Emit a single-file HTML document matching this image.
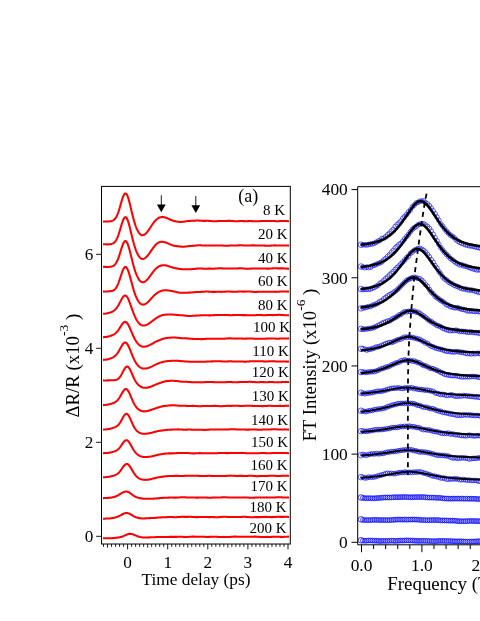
<!DOCTYPE html>
<html><head><meta charset="utf-8"><title>Figure</title>
<style>
html,body{margin:0;padding:0;background:#fff;}
body{width:480px;height:621px;overflow:hidden;}
svg{display:block;will-change:transform;}
text{font-family:"Liberation Serif",serif;fill:#000;}
</style></head><body>
<svg width="480" height="621" viewBox="0 0 480 621">
<rect x="0" y="0" width="480" height="621" fill="#fff"/>
<g fill="none" stroke="#ff0000" stroke-width="2.05" stroke-linejoin="round" stroke-linecap="butt">
<path d="M103.0,221.52 L103.5,221.52 L104.0,221.52 L104.5,221.53 L105.0,221.53 L105.5,221.53 L106.0,221.53 L106.5,221.53 L107.0,221.52 L107.5,221.50 L108.0,221.48 L108.5,221.45 L109.0,221.42 L109.5,221.37 L110.0,221.31 L110.5,221.24 L111.0,221.14 L111.5,221.02 L112.0,220.87 L112.5,220.68 L113.0,220.44 L113.5,220.14 L114.0,219.78 L114.5,219.33 L115.0,218.79 L115.5,218.14 L116.0,217.37 L116.5,216.49 L117.0,215.47 L117.5,214.31 L118.0,213.03 L118.5,211.61 L119.0,210.08 L119.5,208.46 L120.0,206.75 L120.5,205.00 L121.0,203.24 L121.5,201.51 L122.0,199.84 L122.5,198.28 L123.0,196.88 L123.5,195.67 L124.0,194.69 L124.5,193.97 L125.0,193.54 L125.5,193.41 L126.0,193.60 L126.5,194.10 L127.0,194.89 L127.5,195.97 L128.0,197.31 L128.5,198.87 L129.0,200.62 L129.5,202.52 L130.0,204.53 L130.5,206.62 L131.0,208.75 L131.5,210.87 L132.0,212.98 L132.5,215.03 L133.0,217.01 L133.5,218.91 L134.0,220.71 L134.5,222.41 L135.0,224.00 L135.5,225.48 L136.0,226.85 L136.5,228.11 L137.0,229.27 L137.5,230.32 L138.0,231.27 L138.5,232.11 L139.0,232.85 L139.5,233.49 L140.0,234.03 L140.5,234.46 L141.0,234.80 L141.5,235.03 L142.0,235.15 L142.5,235.18 L143.0,235.12 L143.5,234.98 L144.0,234.77 L144.5,234.49 L145.0,234.15 L145.5,233.74 L146.0,233.28 L146.5,232.77 L147.0,232.20 L147.5,231.59 L148.0,230.94 L148.5,230.26 L149.0,229.55 L149.5,228.82 L150.0,228.07 L150.5,227.31 L151.0,226.54 L151.5,225.78 L152.0,225.03 L152.5,224.29 L153.0,223.57 L153.5,222.88 L154.0,222.21 L154.5,221.58 L155.0,220.99 L155.5,220.43 L156.0,219.92 L156.5,219.46 L157.0,219.03 L157.5,218.66 L158.0,218.32 L158.5,218.03 L159.0,217.78 L159.5,217.57 L160.0,217.40 L160.5,217.26 L161.0,217.16 L161.5,217.09 L162.0,217.05 L162.5,217.05 L163.0,217.07 L163.5,217.12 L164.0,217.20 L164.5,217.30 L165.0,217.42 L165.5,217.57 L166.0,217.74 L166.5,217.93 L167.0,218.13 L167.5,218.35 L168.0,218.57 L168.5,218.81 L169.0,219.04 L169.5,219.27 L170.0,219.50 L170.5,219.72 L171.0,219.93 L171.5,220.14 L172.0,220.32 L172.5,220.50 L173.0,220.66 L173.5,220.81 L174.0,220.95 L174.5,221.07 L175.0,221.19 L175.5,221.30 L176.0,221.40 L176.5,221.49 L177.0,221.58 L177.5,221.66 L178.0,221.73 L178.5,221.79 L179.0,221.84 L179.5,221.89 L180.0,221.91 L180.5,221.93 L181.0,221.93 L181.5,221.91 L182.0,221.88 L182.5,221.84 L183.0,221.78 L183.5,221.72 L184.0,221.64 L184.5,221.56 L185.0,221.47 L185.5,221.39 L186.0,221.31 L186.5,221.23 L187.0,221.16 L187.5,221.10 L188.0,221.04 L188.5,221.00 L189.0,220.96 L189.5,220.93 L190.0,220.90 L190.5,220.87 L191.0,220.85 L191.5,220.83 L192.0,220.81 L192.5,220.78 L193.0,220.75 L193.5,220.72 L194.0,220.69 L194.5,220.66 L195.0,220.63 L195.5,220.61 L196.0,220.59 L196.5,220.57 L197.0,220.57 L197.5,220.57 L198.0,220.57 L198.5,220.59 L199.0,220.62 L199.5,220.65 L200.0,220.68 L200.5,220.72 L201.0,220.75 L201.5,220.79 L202.0,220.82 L202.5,220.84 L203.0,220.86 L203.5,220.87 L204.0,220.88 L204.5,220.87 L205.0,220.87 L205.5,220.86 L206.0,220.85 L206.5,220.84 L207.0,220.84 L207.5,220.84 L208.0,220.85 L208.5,220.86 L209.0,220.89 L209.5,220.92 L210.0,220.95 L210.5,220.99 L211.0,221.03 L211.5,221.08 L212.0,221.12 L212.5,221.15 L213.0,221.18 L213.5,221.20 L214.0,221.22 L214.5,221.22 L215.0,221.22 L215.5,221.21 L216.0,221.19 L216.5,221.17 L217.0,221.15 L217.5,221.12 L218.0,221.10 L218.5,221.08 L219.0,221.06 L219.5,221.05 L220.0,221.04 L220.5,221.04 L221.0,221.04 L221.5,221.04 L222.0,221.04 L222.5,221.05 L223.0,221.05 L223.5,221.04 L224.0,221.03 L224.5,221.02 L225.0,221.00 L225.5,220.98 L226.0,220.96 L226.5,220.93 L227.0,220.91 L227.5,220.88 L228.0,220.86 L228.5,220.85 L229.0,220.85 L229.5,220.85 L230.0,220.87 L230.5,220.89 L231.0,220.92 L231.5,220.96 L232.0,221.00 L232.5,221.04 L233.0,221.09 L233.5,221.13 L234.0,221.16 L234.5,221.19 L235.0,221.22 L235.5,221.23 L236.0,221.23 L236.5,221.23 L237.0,221.22 L237.5,221.20 L238.0,221.18 L238.5,221.16 L239.0,221.13 L239.5,221.11 L240.0,221.10 L240.5,221.09 L241.0,221.08 L241.5,221.08 L242.0,221.09 L242.5,221.10 L243.0,221.11 L243.5,221.13 L244.0,221.14 L244.5,221.15 L245.0,221.16 L245.5,221.17 L246.0,221.17 L246.5,221.16 L247.0,221.15 L247.5,221.14 L248.0,221.13 L248.5,221.11 L249.0,221.10 L249.5,221.09 L250.0,221.09 L250.5,221.09 L251.0,221.10 L251.5,221.12 L252.0,221.14 L252.5,221.17 L253.0,221.20 L253.5,221.23 L254.0,221.26 L254.5,221.29 L255.0,221.32 L255.5,221.33 L256.0,221.34 L256.5,221.34 L257.0,221.33 L257.5,221.31 L258.0,221.28 L258.5,221.25 L259.0,221.21 L259.5,221.16 L260.0,221.12 L260.5,221.08 L261.0,221.04 L261.5,221.01 L262.0,220.99 L262.5,220.97 L263.0,220.96 L263.5,220.96 L264.0,220.96 L264.5,220.97 L265.0,220.98 L265.5,220.99 L266.0,221.00 L266.5,221.01 L267.0,221.01 L267.5,221.01 L268.0,221.01 L268.5,221.00 L269.0,220.99 L269.5,220.98 L270.0,220.97 L270.5,220.96 L271.0,220.95 L271.5,220.95 L272.0,220.96 L272.5,220.97 L273.0,220.98 L273.5,221.01 L274.0,221.03 L274.5,221.06 L275.0,221.09 L275.5,221.12 L276.0,221.15 L276.5,221.17 L277.0,221.18 L277.5,221.18 L278.0,221.18 L278.5,221.17 L279.0,221.15 L279.5,221.12 L280.0,221.09 L280.5,221.06 L281.0,221.03 L281.5,221.00 L282.0,220.97 L282.5,220.95 L283.0,220.94 L283.5,220.93 L284.0,220.94 L284.5,220.95 L285.0,220.97 L285.5,221.00 L286.0,221.03 L286.5,221.06 L287.0,221.09 L287.5,221.13 L288.0,221.15 L288.5,221.17 L289.0,221.19"/>
<path d="M103.0,244.31 L103.5,244.32 L104.0,244.32 L104.5,244.33 L105.0,244.34 L105.5,244.35 L106.0,244.36 L106.5,244.37 L107.0,244.38 L107.5,244.38 L108.0,244.37 L108.5,244.36 L109.0,244.34 L109.5,244.30 L110.0,244.25 L110.5,244.18 L111.0,244.08 L111.5,243.96 L112.0,243.80 L112.5,243.61 L113.0,243.36 L113.5,243.06 L114.0,242.69 L114.5,242.24 L115.0,241.70 L115.5,241.06 L116.0,240.31 L116.5,239.44 L117.0,238.44 L117.5,237.32 L118.0,236.07 L118.5,234.70 L119.0,233.21 L119.5,231.64 L120.0,229.98 L120.5,228.29 L121.0,226.58 L121.5,224.90 L122.0,223.29 L122.5,221.78 L123.0,220.42 L123.5,219.26 L124.0,218.32 L124.5,217.63 L125.0,217.23 L125.5,217.13 L126.0,217.34 L126.5,217.85 L127.0,218.65 L127.5,219.74 L128.0,221.07 L128.5,222.63 L129.0,224.37 L129.5,226.26 L130.0,228.26 L130.5,230.33 L131.0,232.43 L131.5,234.54 L132.0,236.62 L132.5,238.65 L133.0,240.61 L133.5,242.48 L134.0,244.26 L134.5,245.94 L135.0,247.51 L135.5,248.98 L136.0,250.35 L136.5,251.61 L137.0,252.77 L137.5,253.82 L138.0,254.78 L138.5,255.64 L139.0,256.41 L139.5,257.07 L140.0,257.64 L140.5,258.11 L141.0,258.47 L141.5,258.74 L142.0,258.90 L142.5,258.96 L143.0,258.93 L143.5,258.83 L144.0,258.65 L144.5,258.40 L145.0,258.09 L145.5,257.72 L146.0,257.29 L146.5,256.81 L147.0,256.28 L147.5,255.71 L148.0,255.10 L148.5,254.45 L149.0,253.79 L149.5,253.09 L150.0,252.39 L150.5,251.67 L151.0,250.94 L151.5,250.22 L152.0,249.50 L152.5,248.79 L153.0,248.09 L153.5,247.42 L154.0,246.77 L154.5,246.15 L155.0,245.56 L155.5,245.01 L156.0,244.50 L156.5,244.03 L157.0,243.61 L157.5,243.24 L158.0,242.91 L158.5,242.63 L159.0,242.39 L159.5,242.19 L160.0,242.04 L160.5,241.93 L161.0,241.85 L161.5,241.81 L162.0,241.80 L162.5,241.82 L163.0,241.86 L163.5,241.93 L164.0,242.03 L164.5,242.14 L165.0,242.27 L165.5,242.43 L166.0,242.59 L166.5,242.78 L167.0,242.97 L167.5,243.18 L168.0,243.40 L168.5,243.62 L169.0,243.85 L169.5,244.07 L170.0,244.30 L170.5,244.51 L171.0,244.72 L171.5,244.92 L172.0,245.11 L172.5,245.28 L173.0,245.43 L173.5,245.57 L174.0,245.70 L174.5,245.81 L175.0,245.90 L175.5,245.99 L176.0,246.07 L176.5,246.13 L177.0,246.20 L177.5,246.26 L178.0,246.31 L178.5,246.37 L179.0,246.42 L179.5,246.48 L180.0,246.53 L180.5,246.57 L181.0,246.61 L181.5,246.64 L182.0,246.66 L182.5,246.68 L183.0,246.68 L183.5,246.67 L184.0,246.65 L184.5,246.61 L185.0,246.57 L185.5,246.52 L186.0,246.47 L186.5,246.41 L187.0,246.35 L187.5,246.29 L188.0,246.23 L188.5,246.17 L189.0,246.12 L189.5,246.08 L190.0,246.03 L190.5,246.00 L191.0,245.96 L191.5,245.93 L192.0,245.89 L192.5,245.86 L193.0,245.82 L193.5,245.77 L194.0,245.73 L194.5,245.68 L195.0,245.63 L195.5,245.57 L196.0,245.52 L196.5,245.46 L197.0,245.42 L197.5,245.37 L198.0,245.34 L198.5,245.31 L199.0,245.30 L199.5,245.30 L200.0,245.30 L200.5,245.32 L201.0,245.35 L201.5,245.38 L202.0,245.42 L202.5,245.45 L203.0,245.49 L203.5,245.52 L204.0,245.55 L204.5,245.58 L205.0,245.59 L205.5,245.60 L206.0,245.60 L206.5,245.59 L207.0,245.58 L207.5,245.57 L208.0,245.55 L208.5,245.53 L209.0,245.52 L209.5,245.51 L210.0,245.50 L210.5,245.50 L211.0,245.51 L211.5,245.52 L212.0,245.53 L212.5,245.54 L213.0,245.55 L213.5,245.57 L214.0,245.57 L214.5,245.58 L215.0,245.58 L215.5,245.57 L216.0,245.56 L216.5,245.55 L217.0,245.53 L217.5,245.51 L218.0,245.49 L218.5,245.47 L219.0,245.46 L219.5,245.45 L220.0,245.45 L220.5,245.46 L221.0,245.48 L221.5,245.50 L222.0,245.53 L222.5,245.56 L223.0,245.60 L223.5,245.64 L224.0,245.67 L224.5,245.70 L225.0,245.73 L225.5,245.74 L226.0,245.75 L226.5,245.75 L227.0,245.73 L227.5,245.71 L228.0,245.68 L228.5,245.65 L229.0,245.61 L229.5,245.58 L230.0,245.54 L230.5,245.51 L231.0,245.48 L231.5,245.45 L232.0,245.44 L232.5,245.43 L233.0,245.42 L233.5,245.42 L234.0,245.42 L234.5,245.43 L235.0,245.43 L235.5,245.43 L236.0,245.43 L236.5,245.43 L237.0,245.42 L237.5,245.41 L238.0,245.39 L238.5,245.37 L239.0,245.36 L239.5,245.34 L240.0,245.33 L240.5,245.32 L241.0,245.31 L241.5,245.32 L242.0,245.33 L242.5,245.35 L243.0,245.37 L243.5,245.40 L244.0,245.43 L244.5,245.47 L245.0,245.50 L245.5,245.53 L246.0,245.56 L246.5,245.58 L247.0,245.59 L247.5,245.59 L248.0,245.58 L248.5,245.57 L249.0,245.54 L249.5,245.51 L250.0,245.48 L250.5,245.45 L251.0,245.42 L251.5,245.39 L252.0,245.37 L252.5,245.35 L253.0,245.35 L253.5,245.35 L254.0,245.36 L254.5,245.37 L255.0,245.39 L255.5,245.41 L256.0,245.44 L256.5,245.47 L257.0,245.49 L257.5,245.51 L258.0,245.53 L258.5,245.54 L259.0,245.55 L259.5,245.55 L260.0,245.55 L260.5,245.55 L261.0,245.54 L261.5,245.54 L262.0,245.54 L262.5,245.55 L263.0,245.56 L263.5,245.57 L264.0,245.59 L264.5,245.62 L265.0,245.64 L265.5,245.67 L266.0,245.70 L266.5,245.72 L267.0,245.74 L267.5,245.75 L268.0,245.76 L268.5,245.75 L269.0,245.74 L269.5,245.71 L270.0,245.68 L270.5,245.65 L271.0,245.60 L271.5,245.56 L272.0,245.52 L272.5,245.48 L273.0,245.44 L273.5,245.41 L274.0,245.39 L274.5,245.38 L275.0,245.38 L275.5,245.39 L276.0,245.40 L276.5,245.42 L277.0,245.44 L277.5,245.46 L278.0,245.48 L278.5,245.50 L279.0,245.51 L279.5,245.52 L280.0,245.52 L280.5,245.52 L281.0,245.52 L281.5,245.50 L282.0,245.49 L282.5,245.48 L283.0,245.46 L283.5,245.45 L284.0,245.44 L284.5,245.44 L285.0,245.44 L285.5,245.44 L286.0,245.45 L286.5,245.47 L287.0,245.48 L287.5,245.49 L288.0,245.50 L288.5,245.51 L289.0,245.51"/>
<path d="M103.0,266.83 L103.5,266.84 L104.0,266.85 L104.5,266.86 L105.0,266.87 L105.5,266.89 L106.0,266.90 L106.5,266.91 L107.0,266.91 L107.5,266.92 L108.0,266.91 L108.5,266.90 L109.0,266.88 L109.5,266.84 L110.0,266.79 L110.5,266.73 L111.0,266.64 L111.5,266.53 L112.0,266.39 L112.5,266.21 L113.0,265.98 L113.5,265.69 L114.0,265.35 L114.5,264.92 L115.0,264.41 L115.5,263.81 L116.0,263.09 L116.5,262.27 L117.0,261.32 L117.5,260.25 L118.0,259.05 L118.5,257.74 L119.0,256.32 L119.5,254.82 L120.0,253.24 L120.5,251.62 L121.0,250.00 L121.5,248.40 L122.0,246.86 L122.5,245.43 L123.0,244.14 L123.5,243.03 L124.0,242.14 L124.5,241.50 L125.0,241.12 L125.5,241.04 L126.0,241.24 L126.5,241.74 L127.0,242.52 L127.5,243.56 L128.0,244.85 L128.5,246.35 L129.0,248.03 L129.5,249.85 L130.0,251.77 L130.5,253.77 L131.0,255.81 L131.5,257.85 L132.0,259.87 L132.5,261.85 L133.0,263.76 L133.5,265.60 L134.0,267.35 L134.5,269.01 L135.0,270.57 L135.5,272.04 L136.0,273.40 L136.5,274.67 L137.0,275.83 L137.5,276.90 L138.0,277.88 L138.5,278.75 L139.0,279.53 L139.5,280.21 L140.0,280.79 L140.5,281.28 L141.0,281.66 L141.5,281.94 L142.0,282.12 L142.5,282.21 L143.0,282.20 L143.5,282.12 L144.0,281.96 L144.5,281.74 L145.0,281.46 L145.5,281.12 L146.0,280.72 L146.5,280.27 L147.0,279.78 L147.5,279.24 L148.0,278.67 L148.5,278.07 L149.0,277.44 L149.5,276.78 L150.0,276.12 L150.5,275.44 L151.0,274.75 L151.5,274.06 L152.0,273.38 L152.5,272.71 L153.0,272.05 L153.5,271.40 L154.0,270.78 L154.5,270.19 L155.0,269.63 L155.5,269.10 L156.0,268.60 L156.5,268.14 L157.0,267.72 L157.5,267.33 L158.0,266.98 L158.5,266.67 L159.0,266.39 L159.5,266.15 L160.0,265.93 L160.5,265.75 L161.0,265.60 L161.5,265.48 L162.0,265.38 L162.5,265.31 L163.0,265.26 L163.5,265.23 L164.0,265.23 L164.5,265.26 L165.0,265.30 L165.5,265.36 L166.0,265.45 L166.5,265.56 L167.0,265.68 L167.5,265.82 L168.0,265.98 L168.5,266.14 L169.0,266.31 L169.5,266.49 L170.0,266.67 L170.5,266.85 L171.0,267.02 L171.5,267.19 L172.0,267.35 L172.5,267.50 L173.0,267.64 L173.5,267.76 L174.0,267.88 L174.5,267.99 L175.0,268.09 L175.5,268.19 L176.0,268.28 L176.5,268.37 L177.0,268.46 L177.5,268.55 L178.0,268.64 L178.5,268.73 L179.0,268.81 L179.5,268.90 L180.0,268.98 L180.5,269.05 L181.0,269.12 L181.5,269.18 L182.0,269.23 L182.5,269.27 L183.0,269.30 L183.5,269.31 L184.0,269.32 L184.5,269.32 L185.0,269.31 L185.5,269.30 L186.0,269.28 L186.5,269.26 L187.0,269.24 L187.5,269.23 L188.0,269.21 L188.5,269.20 L189.0,269.19 L189.5,269.18 L190.0,269.18 L190.5,269.17 L191.0,269.16 L191.5,269.14 L192.0,269.12 L192.5,269.10 L193.0,269.06 L193.5,269.02 L194.0,268.97 L194.5,268.92 L195.0,268.86 L195.5,268.80 L196.0,268.74 L196.5,268.68 L197.0,268.63 L197.5,268.59 L198.0,268.55 L198.5,268.52 L199.0,268.51 L199.5,268.50 L200.0,268.51 L200.5,268.52 L201.0,268.54 L201.5,268.56 L202.0,268.59 L202.5,268.61 L203.0,268.64 L203.5,268.66 L204.0,268.67 L204.5,268.68 L205.0,268.68 L205.5,268.68 L206.0,268.67 L206.5,268.66 L207.0,268.65 L207.5,268.64 L208.0,268.63 L208.5,268.62 L209.0,268.62 L209.5,268.62 L210.0,268.62 L210.5,268.63 L211.0,268.64 L211.5,268.65 L212.0,268.66 L212.5,268.67 L213.0,268.67 L213.5,268.67 L214.0,268.66 L214.5,268.64 L215.0,268.61 L215.5,268.58 L216.0,268.55 L216.5,268.51 L217.0,268.47 L217.5,268.42 L218.0,268.39 L218.5,268.35 L219.0,268.33 L219.5,268.31 L220.0,268.30 L220.5,268.30 L221.0,268.31 L221.5,268.33 L222.0,268.36 L222.5,268.39 L223.0,268.42 L223.5,268.45 L224.0,268.48 L224.5,268.50 L225.0,268.52 L225.5,268.53 L226.0,268.54 L226.5,268.53 L227.0,268.53 L227.5,268.51 L228.0,268.49 L228.5,268.47 L229.0,268.45 L229.5,268.44 L230.0,268.42 L230.5,268.41 L231.0,268.41 L231.5,268.41 L232.0,268.41 L232.5,268.42 L233.0,268.43 L233.5,268.44 L234.0,268.45 L234.5,268.46 L235.0,268.46 L235.5,268.46 L236.0,268.46 L236.5,268.44 L237.0,268.43 L237.5,268.41 L238.0,268.39 L238.5,268.37 L239.0,268.35 L239.5,268.33 L240.0,268.33 L240.5,268.33 L241.0,268.33 L241.5,268.35 L242.0,268.38 L242.5,268.41 L243.0,268.45 L243.5,268.49 L244.0,268.54 L244.5,268.58 L245.0,268.63 L245.5,268.66 L246.0,268.69 L246.5,268.72 L247.0,268.73 L247.5,268.73 L248.0,268.73 L248.5,268.72 L249.0,268.70 L249.5,268.68 L250.0,268.65 L250.5,268.63 L251.0,268.60 L251.5,268.58 L252.0,268.57 L252.5,268.56 L253.0,268.55 L253.5,268.55 L254.0,268.56 L254.5,268.56 L255.0,268.57 L255.5,268.58 L256.0,268.58 L256.5,268.58 L257.0,268.58 L257.5,268.57 L258.0,268.55 L258.5,268.53 L259.0,268.51 L259.5,268.49 L260.0,268.47 L260.5,268.45 L261.0,268.43 L261.5,268.42 L262.0,268.42 L262.5,268.42 L263.0,268.43 L263.5,268.45 L264.0,268.47 L264.5,268.50 L265.0,268.53 L265.5,268.56 L266.0,268.58 L266.5,268.61 L267.0,268.62 L267.5,268.63 L268.0,268.63 L268.5,268.62 L269.0,268.61 L269.5,268.58 L270.0,268.55 L270.5,268.51 L271.0,268.47 L271.5,268.43 L272.0,268.39 L272.5,268.36 L273.0,268.33 L273.5,268.31 L274.0,268.30 L274.5,268.30 L275.0,268.30 L275.5,268.31 L276.0,268.32 L276.5,268.33 L277.0,268.35 L277.5,268.36 L278.0,268.38 L278.5,268.39 L279.0,268.39 L279.5,268.39 L280.0,268.39 L280.5,268.39 L281.0,268.38 L281.5,268.38 L282.0,268.38 L282.5,268.38 L283.0,268.38 L283.5,268.39 L284.0,268.41 L284.5,268.44 L285.0,268.46 L285.5,268.50 L286.0,268.53 L286.5,268.57 L287.0,268.61 L287.5,268.64 L288.0,268.66 L288.5,268.68 L289.0,268.69"/>
<path d="M103.0,291.49 L103.5,291.49 L104.0,291.49 L104.5,291.49 L105.0,291.49 L105.5,291.48 L106.0,291.47 L106.5,291.46 L107.0,291.45 L107.5,291.43 L108.0,291.41 L108.5,291.38 L109.0,291.35 L109.5,291.31 L110.0,291.26 L110.5,291.21 L111.0,291.13 L111.5,291.04 L112.0,290.91 L112.5,290.76 L113.0,290.56 L113.5,290.30 L114.0,289.99 L114.5,289.60 L115.0,289.13 L115.5,288.56 L116.0,287.89 L116.5,287.11 L117.0,286.21 L117.5,285.19 L118.0,284.06 L118.5,282.82 L119.0,281.48 L119.5,280.05 L120.0,278.56 L120.5,277.03 L121.0,275.49 L121.5,273.98 L122.0,272.52 L122.5,271.17 L123.0,269.95 L123.5,268.89 L124.0,268.04 L124.5,267.41 L125.0,267.04 L125.5,266.93 L126.0,267.09 L126.5,267.52 L127.0,268.22 L127.5,269.16 L128.0,270.32 L128.5,271.69 L129.0,273.22 L129.5,274.89 L130.0,276.65 L130.5,278.49 L131.0,280.36 L131.5,282.24 L132.0,284.10 L132.5,285.92 L133.0,287.68 L133.5,289.38 L134.0,290.98 L134.5,292.51 L135.0,293.93 L135.5,295.27 L136.0,296.51 L136.5,297.66 L137.0,298.72 L137.5,299.68 L138.0,300.56 L138.5,301.35 L139.0,302.06 L139.5,302.68 L140.0,303.21 L140.5,303.66 L141.0,304.03 L141.5,304.30 L142.0,304.50 L142.5,304.60 L143.0,304.62 L143.5,304.58 L144.0,304.48 L144.5,304.33 L145.0,304.12 L145.5,303.87 L146.0,303.57 L146.5,303.23 L147.0,302.84 L147.5,302.42 L148.0,301.96 L148.5,301.48 L149.0,300.97 L149.5,300.44 L150.0,299.89 L150.5,299.34 L151.0,298.78 L151.5,298.22 L152.0,297.67 L152.5,297.12 L153.0,296.59 L153.5,296.08 L154.0,295.58 L154.5,295.11 L155.0,294.66 L155.5,294.24 L156.0,293.83 L156.5,293.46 L157.0,293.10 L157.5,292.77 L158.0,292.47 L158.5,292.18 L159.0,291.91 L159.5,291.67 L160.0,291.44 L160.5,291.23 L161.0,291.05 L161.5,290.88 L162.0,290.73 L162.5,290.60 L163.0,290.50 L163.5,290.41 L164.0,290.35 L164.5,290.30 L165.0,290.28 L165.5,290.27 L166.0,290.28 L166.5,290.31 L167.0,290.35 L167.5,290.40 L168.0,290.46 L168.5,290.53 L169.0,290.60 L169.5,290.68 L170.0,290.76 L170.5,290.85 L171.0,290.93 L171.5,291.01 L172.0,291.10 L172.5,291.19 L173.0,291.29 L173.5,291.39 L174.0,291.49 L174.5,291.60 L175.0,291.71 L175.5,291.83 L176.0,291.94 L176.5,292.06 L177.0,292.18 L177.5,292.29 L178.0,292.40 L178.5,292.50 L179.0,292.59 L179.5,292.66 L180.0,292.72 L180.5,292.77 L181.0,292.80 L181.5,292.82 L182.0,292.83 L182.5,292.83 L183.0,292.82 L183.5,292.80 L184.0,292.78 L184.5,292.76 L185.0,292.73 L185.5,292.71 L186.0,292.70 L186.5,292.68 L187.0,292.67 L187.5,292.66 L188.0,292.65 L188.5,292.63 L189.0,292.62 L189.5,292.60 L190.0,292.58 L190.5,292.55 L191.0,292.51 L191.5,292.47 L192.0,292.43 L192.5,292.37 L193.0,292.32 L193.5,292.26 L194.0,292.21 L194.5,292.16 L195.0,292.11 L195.5,292.07 L196.0,292.03 L196.5,292.01 L197.0,291.98 L197.5,291.97 L198.0,291.96 L198.5,291.95 L199.0,291.94 L199.5,291.94 L200.0,291.93 L200.5,291.91 L201.0,291.89 L201.5,291.87 L202.0,291.84 L202.5,291.81 L203.0,291.77 L203.5,291.73 L204.0,291.69 L204.5,291.65 L205.0,291.62 L205.5,291.59 L206.0,291.57 L206.5,291.56 L207.0,291.56 L207.5,291.57 L208.0,291.59 L208.5,291.62 L209.0,291.65 L209.5,291.69 L210.0,291.73 L210.5,291.77 L211.0,291.80 L211.5,291.83 L212.0,291.86 L212.5,291.88 L213.0,291.89 L213.5,291.89 L214.0,291.89 L214.5,291.88 L215.0,291.87 L215.5,291.86 L216.0,291.84 L216.5,291.83 L217.0,291.82 L217.5,291.82 L218.0,291.82 L218.5,291.82 L219.0,291.83 L219.5,291.83 L220.0,291.84 L220.5,291.85 L221.0,291.85 L221.5,291.85 L222.0,291.84 L222.5,291.83 L223.0,291.81 L223.5,291.78 L224.0,291.75 L224.5,291.72 L225.0,291.68 L225.5,291.65 L226.0,291.61 L226.5,291.58 L227.0,291.56 L227.5,291.54 L228.0,291.54 L228.5,291.54 L229.0,291.55 L229.5,291.57 L230.0,291.60 L230.5,291.63 L231.0,291.66 L231.5,291.69 L232.0,291.72 L232.5,291.75 L233.0,291.77 L233.5,291.78 L234.0,291.78 L234.5,291.78 L235.0,291.76 L235.5,291.74 L236.0,291.72 L236.5,291.70 L237.0,291.67 L237.5,291.64 L238.0,291.62 L238.5,291.60 L239.0,291.59 L239.5,291.58 L240.0,291.58 L240.5,291.58 L241.0,291.59 L241.5,291.59 L242.0,291.60 L242.5,291.61 L243.0,291.62 L243.5,291.62 L244.0,291.62 L244.5,291.61 L245.0,291.60 L245.5,291.59 L246.0,291.57 L246.5,291.55 L247.0,291.54 L247.5,291.53 L248.0,291.52 L248.5,291.52 L249.0,291.53 L249.5,291.55 L250.0,291.57 L250.5,291.60 L251.0,291.64 L251.5,291.68 L252.0,291.73 L252.5,291.78 L253.0,291.82 L253.5,291.86 L254.0,291.89 L254.5,291.91 L255.0,291.92 L255.5,291.93 L256.0,291.92 L256.5,291.91 L257.0,291.89 L257.5,291.86 L258.0,291.83 L258.5,291.80 L259.0,291.78 L259.5,291.75 L260.0,291.74 L260.5,291.72 L261.0,291.72 L261.5,291.72 L262.0,291.72 L262.5,291.73 L263.0,291.74 L263.5,291.75 L264.0,291.76 L264.5,291.77 L265.0,291.77 L265.5,291.77 L266.0,291.77 L266.5,291.76 L267.0,291.75 L267.5,291.73 L268.0,291.71 L268.5,291.70 L269.0,291.69 L269.5,291.68 L270.0,291.67 L270.5,291.67 L271.0,291.68 L271.5,291.70 L272.0,291.72 L272.5,291.74 L273.0,291.77 L273.5,291.79 L274.0,291.82 L274.5,291.84 L275.0,291.85 L275.5,291.86 L276.0,291.86 L276.5,291.84 L277.0,291.82 L277.5,291.79 L278.0,291.76 L278.5,291.72 L279.0,291.67 L279.5,291.63 L280.0,291.59 L280.5,291.55 L281.0,291.52 L281.5,291.50 L282.0,291.48 L282.5,291.48 L283.0,291.48 L283.5,291.49 L284.0,291.50 L284.5,291.52 L285.0,291.54 L285.5,291.56 L286.0,291.57 L286.5,291.59 L287.0,291.60 L287.5,291.61 L288.0,291.61 L288.5,291.61 L289.0,291.60"/>
<path d="M103.0,313.85 L103.5,313.81 L104.0,313.77 L104.5,313.72 L105.0,313.66 L105.5,313.60 L106.0,313.52 L106.5,313.43 L107.0,313.34 L107.5,313.23 L108.0,313.12 L108.5,313.00 L109.0,312.86 L109.5,312.71 L110.0,312.56 L110.5,312.38 L111.0,312.20 L111.5,311.99 L112.0,311.76 L112.5,311.51 L113.0,311.23 L113.5,310.92 L114.0,310.58 L114.5,310.19 L115.0,309.75 L115.5,309.26 L116.0,308.72 L116.5,308.12 L117.0,307.46 L117.5,306.73 L118.0,305.95 L118.5,305.11 L119.0,304.22 L119.5,303.29 L120.0,302.34 L120.5,301.37 L121.0,300.41 L121.5,299.47 L122.0,298.58 L122.5,297.77 L123.0,297.05 L123.5,296.45 L124.0,295.98 L124.5,295.67 L125.0,295.53 L125.5,295.57 L126.0,295.80 L126.5,296.21 L127.0,296.80 L127.5,297.56 L128.0,298.49 L128.5,299.55 L129.0,300.73 L129.5,302.01 L130.0,303.37 L130.5,304.77 L131.0,306.21 L131.5,307.66 L132.0,309.09 L132.5,310.50 L133.0,311.87 L133.5,313.19 L134.0,314.45 L134.5,315.64 L135.0,316.76 L135.5,317.81 L136.0,318.79 L136.5,319.70 L137.0,320.54 L137.5,321.31 L138.0,322.01 L138.5,322.65 L139.0,323.22 L139.5,323.73 L140.0,324.18 L140.5,324.56 L141.0,324.88 L141.5,325.14 L142.0,325.34 L142.5,325.47 L143.0,325.53 L143.5,325.55 L144.0,325.52 L144.5,325.46 L145.0,325.36 L145.5,325.23 L146.0,325.06 L146.5,324.86 L147.0,324.62 L147.5,324.36 L148.0,324.08 L148.5,323.77 L149.0,323.44 L149.5,323.09 L150.0,322.73 L150.5,322.36 L151.0,321.99 L151.5,321.61 L152.0,321.23 L152.5,320.85 L153.0,320.47 L153.5,320.10 L154.0,319.73 L154.5,319.37 L155.0,319.01 L155.5,318.67 L156.0,318.33 L156.5,318.00 L157.0,317.68 L157.5,317.37 L158.0,317.07 L158.5,316.79 L159.0,316.52 L159.5,316.26 L160.0,316.02 L160.5,315.80 L161.0,315.60 L161.5,315.42 L162.0,315.26 L162.5,315.12 L163.0,315.00 L163.5,314.90 L164.0,314.81 L164.5,314.74 L165.0,314.69 L165.5,314.65 L166.0,314.61 L166.5,314.59 L167.0,314.56 L167.5,314.55 L168.0,314.53 L168.5,314.52 L169.0,314.51 L169.5,314.50 L170.0,314.50 L170.5,314.50 L171.0,314.50 L171.5,314.51 L172.0,314.53 L172.5,314.55 L173.0,314.58 L173.5,314.61 L174.0,314.66 L174.5,314.70 L175.0,314.76 L175.5,314.81 L176.0,314.87 L176.5,314.92 L177.0,314.97 L177.5,315.02 L178.0,315.06 L178.5,315.10 L179.0,315.13 L179.5,315.17 L180.0,315.19 L180.5,315.22 L181.0,315.25 L181.5,315.28 L182.0,315.31 L182.5,315.35 L183.0,315.39 L183.5,315.44 L184.0,315.50 L184.5,315.56 L185.0,315.63 L185.5,315.69 L186.0,315.76 L186.5,315.82 L187.0,315.88 L187.5,315.93 L188.0,315.97 L188.5,315.99 L189.0,316.01 L189.5,316.01 L190.0,316.01 L190.5,315.99 L191.0,315.96 L191.5,315.93 L192.0,315.89 L192.5,315.85 L193.0,315.81 L193.5,315.77 L194.0,315.73 L194.5,315.69 L195.0,315.67 L195.5,315.64 L196.0,315.62 L196.5,315.60 L197.0,315.58 L197.5,315.56 L198.0,315.54 L198.5,315.52 L199.0,315.49 L199.5,315.46 L200.0,315.43 L200.5,315.39 L201.0,315.35 L201.5,315.31 L202.0,315.28 L202.5,315.24 L203.0,315.22 L203.5,315.20 L204.0,315.18 L204.5,315.18 L205.0,315.18 L205.5,315.20 L206.0,315.22 L206.5,315.24 L207.0,315.27 L207.5,315.30 L208.0,315.33 L208.5,315.36 L209.0,315.37 L209.5,315.39 L210.0,315.39 L210.5,315.38 L211.0,315.37 L211.5,315.34 L212.0,315.31 L212.5,315.27 L213.0,315.24 L213.5,315.20 L214.0,315.16 L214.5,315.12 L215.0,315.09 L215.5,315.07 L216.0,315.05 L216.5,315.04 L217.0,315.03 L217.5,315.03 L218.0,315.04 L218.5,315.04 L219.0,315.05 L219.5,315.05 L220.0,315.05 L220.5,315.05 L221.0,315.05 L221.5,315.04 L222.0,315.02 L222.5,315.01 L223.0,314.99 L223.5,314.97 L224.0,314.96 L224.5,314.95 L225.0,314.95 L225.5,314.95 L226.0,314.95 L226.5,314.97 L227.0,314.99 L227.5,315.02 L228.0,315.05 L228.5,315.08 L229.0,315.11 L229.5,315.13 L230.0,315.15 L230.5,315.17 L231.0,315.18 L231.5,315.17 L232.0,315.16 L232.5,315.14 L233.0,315.12 L233.5,315.09 L234.0,315.05 L234.5,315.02 L235.0,314.98 L235.5,314.96 L236.0,314.93 L236.5,314.91 L237.0,314.91 L237.5,314.91 L238.0,314.92 L238.5,314.93 L239.0,314.95 L239.5,314.98 L240.0,315.01 L240.5,315.04 L241.0,315.06 L241.5,315.09 L242.0,315.11 L242.5,315.12 L243.0,315.13 L243.5,315.14 L244.0,315.14 L244.5,315.14 L245.0,315.14 L245.5,315.14 L246.0,315.14 L246.5,315.15 L247.0,315.16 L247.5,315.17 L248.0,315.19 L248.5,315.21 L249.0,315.24 L249.5,315.26 L250.0,315.29 L250.5,315.31 L251.0,315.33 L251.5,315.34 L252.0,315.35 L252.5,315.34 L253.0,315.33 L253.5,315.31 L254.0,315.28 L254.5,315.24 L255.0,315.20 L255.5,315.16 L256.0,315.12 L256.5,315.08 L257.0,315.05 L257.5,315.02 L258.0,315.01 L258.5,315.00 L259.0,315.00 L259.5,315.01 L260.0,315.02 L260.5,315.04 L261.0,315.07 L261.5,315.09 L262.0,315.12 L262.5,315.14 L263.0,315.15 L263.5,315.17 L264.0,315.17 L264.5,315.17 L265.0,315.16 L265.5,315.15 L266.0,315.13 L266.5,315.12 L267.0,315.10 L267.5,315.09 L268.0,315.07 L268.5,315.06 L269.0,315.06 L269.5,315.06 L270.0,315.07 L270.5,315.07 L271.0,315.08 L271.5,315.09 L272.0,315.10 L272.5,315.10 L273.0,315.10 L273.5,315.10 L274.0,315.08 L274.5,315.06 L275.0,315.04 L275.5,315.01 L276.0,314.98 L276.5,314.94 L277.0,314.91 L277.5,314.88 L278.0,314.86 L278.5,314.84 L279.0,314.83 L279.5,314.83 L280.0,314.85 L280.5,314.87 L281.0,314.90 L281.5,314.93 L282.0,314.97 L282.5,315.02 L283.0,315.06 L283.5,315.10 L284.0,315.14 L284.5,315.16 L285.0,315.19 L285.5,315.20 L286.0,315.21 L286.5,315.21 L287.0,315.20 L287.5,315.20 L288.0,315.18 L288.5,315.17 L289.0,315.16"/>
<path d="M103.0,337.18 L103.5,337.16 L104.0,337.13 L104.5,337.10 L105.0,337.06 L105.5,337.01 L106.0,336.95 L106.5,336.88 L107.0,336.79 L107.5,336.70 L108.0,336.59 L108.5,336.47 L109.0,336.34 L109.5,336.19 L110.0,336.04 L110.5,335.88 L111.0,335.70 L111.5,335.51 L112.0,335.31 L112.5,335.10 L113.0,334.86 L113.5,334.61 L114.0,334.33 L114.5,334.01 L115.0,333.66 L115.5,333.27 L116.0,332.84 L116.5,332.36 L117.0,331.82 L117.5,331.23 L118.0,330.58 L118.5,329.89 L119.0,329.15 L119.5,328.37 L120.0,327.57 L120.5,326.75 L121.0,325.94 L121.5,325.15 L122.0,324.40 L122.5,323.71 L123.0,323.10 L123.5,322.60 L124.0,322.21 L124.5,321.95 L125.0,321.84 L125.5,321.88 L126.0,322.08 L126.5,322.43 L127.0,322.93 L127.5,323.57 L128.0,324.34 L128.5,325.23 L129.0,326.21 L129.5,327.27 L130.0,328.38 L130.5,329.54 L131.0,330.72 L131.5,331.91 L132.0,333.09 L132.5,334.24 L133.0,335.37 L133.5,336.45 L134.0,337.48 L134.5,338.46 L135.0,339.39 L135.5,340.26 L136.0,341.08 L136.5,341.83 L137.0,342.53 L137.5,343.17 L138.0,343.76 L138.5,344.28 L139.0,344.76 L139.5,345.18 L140.0,345.55 L140.5,345.86 L141.0,346.13 L141.5,346.34 L142.0,346.50 L142.5,346.61 L143.0,346.67 L143.5,346.68 L144.0,346.67 L144.5,346.64 L145.0,346.58 L145.5,346.51 L146.0,346.41 L146.5,346.29 L147.0,346.15 L147.5,345.99 L148.0,345.81 L148.5,345.62 L149.0,345.40 L149.5,345.17 L150.0,344.93 L150.5,344.68 L151.0,344.41 L151.5,344.14 L152.0,343.86 L152.5,343.57 L153.0,343.29 L153.5,343.01 L154.0,342.73 L154.5,342.45 L155.0,342.19 L155.5,341.93 L156.0,341.68 L156.5,341.43 L157.0,341.20 L157.5,340.97 L158.0,340.75 L158.5,340.53 L159.0,340.33 L159.5,340.12 L160.0,339.93 L160.5,339.73 L161.0,339.55 L161.5,339.36 L162.0,339.18 L162.5,339.01 L163.0,338.85 L163.5,338.70 L164.0,338.55 L164.5,338.42 L165.0,338.30 L165.5,338.19 L166.0,338.10 L166.5,338.01 L167.0,337.94 L167.5,337.88 L168.0,337.83 L168.5,337.79 L169.0,337.75 L169.5,337.72 L170.0,337.69 L170.5,337.66 L171.0,337.64 L171.5,337.62 L172.0,337.60 L172.5,337.58 L173.0,337.56 L173.5,337.56 L174.0,337.55 L174.5,337.56 L175.0,337.57 L175.5,337.59 L176.0,337.62 L176.5,337.66 L177.0,337.71 L177.5,337.76 L178.0,337.82 L178.5,337.89 L179.0,337.95 L179.5,338.01 L180.0,338.07 L180.5,338.12 L181.0,338.17 L181.5,338.20 L182.0,338.23 L182.5,338.26 L183.0,338.27 L183.5,338.28 L184.0,338.29 L184.5,338.30 L185.0,338.31 L185.5,338.32 L186.0,338.34 L186.5,338.36 L187.0,338.39 L187.5,338.42 L188.0,338.46 L188.5,338.51 L189.0,338.56 L189.5,338.61 L190.0,338.66 L190.5,338.71 L191.0,338.76 L191.5,338.80 L192.0,338.83 L192.5,338.86 L193.0,338.89 L193.5,338.90 L194.0,338.91 L194.5,338.92 L195.0,338.93 L195.5,338.94 L196.0,338.94 L196.5,338.95 L197.0,338.97 L197.5,338.98 L198.0,339.00 L198.5,339.03 L199.0,339.05 L199.5,339.07 L200.0,339.10 L200.5,339.11 L201.0,339.12 L201.5,339.13 L202.0,339.12 L202.5,339.11 L203.0,339.08 L203.5,339.05 L204.0,339.01 L204.5,338.96 L205.0,338.91 L205.5,338.86 L206.0,338.81 L206.5,338.77 L207.0,338.73 L207.5,338.69 L208.0,338.67 L208.5,338.65 L209.0,338.65 L209.5,338.65 L210.0,338.66 L210.5,338.67 L211.0,338.69 L211.5,338.71 L212.0,338.73 L212.5,338.74 L213.0,338.75 L213.5,338.76 L214.0,338.76 L214.5,338.75 L215.0,338.75 L215.5,338.73 L216.0,338.72 L216.5,338.70 L217.0,338.69 L217.5,338.68 L218.0,338.67 L218.5,338.67 L219.0,338.67 L219.5,338.67 L220.0,338.68 L220.5,338.69 L221.0,338.71 L221.5,338.72 L222.0,338.72 L222.5,338.72 L223.0,338.72 L223.5,338.71 L224.0,338.69 L224.5,338.66 L225.0,338.63 L225.5,338.59 L226.0,338.55 L226.5,338.50 L227.0,338.46 L227.5,338.42 L228.0,338.39 L228.5,338.36 L229.0,338.35 L229.5,338.34 L230.0,338.34 L230.5,338.35 L231.0,338.37 L231.5,338.40 L232.0,338.43 L232.5,338.46 L233.0,338.50 L233.5,338.53 L234.0,338.56 L234.5,338.58 L235.0,338.59 L235.5,338.60 L236.0,338.60 L236.5,338.60 L237.0,338.59 L237.5,338.58 L238.0,338.57 L238.5,338.56 L239.0,338.55 L239.5,338.55 L240.0,338.55 L240.5,338.56 L241.0,338.56 L241.5,338.58 L242.0,338.59 L242.5,338.61 L243.0,338.63 L243.5,338.64 L244.0,338.65 L244.5,338.65 L245.0,338.65 L245.5,338.64 L246.0,338.63 L246.5,338.61 L247.0,338.59 L247.5,338.56 L248.0,338.54 L248.5,338.52 L249.0,338.50 L249.5,338.49 L250.0,338.49 L250.5,338.49 L251.0,338.51 L251.5,338.53 L252.0,338.56 L252.5,338.60 L253.0,338.64 L253.5,338.68 L254.0,338.72 L254.5,338.76 L255.0,338.79 L255.5,338.82 L256.0,338.84 L256.5,338.85 L257.0,338.85 L257.5,338.84 L258.0,338.82 L258.5,338.80 L259.0,338.78 L259.5,338.75 L260.0,338.73 L260.5,338.71 L261.0,338.69 L261.5,338.67 L262.0,338.66 L262.5,338.65 L263.0,338.65 L263.5,338.65 L264.0,338.65 L264.5,338.65 L265.0,338.65 L265.5,338.65 L266.0,338.64 L266.5,338.63 L267.0,338.61 L267.5,338.59 L268.0,338.56 L268.5,338.54 L269.0,338.51 L269.5,338.48 L270.0,338.46 L270.5,338.44 L271.0,338.43 L271.5,338.42 L272.0,338.42 L272.5,338.44 L273.0,338.46 L273.5,338.48 L274.0,338.51 L274.5,338.55 L275.0,338.58 L275.5,338.61 L276.0,338.64 L276.5,338.66 L277.0,338.68 L277.5,338.68 L278.0,338.68 L278.5,338.66 L279.0,338.64 L279.5,338.62 L280.0,338.59 L280.5,338.56 L281.0,338.53 L281.5,338.50 L282.0,338.47 L282.5,338.45 L283.0,338.44 L283.5,338.43 L284.0,338.44 L284.5,338.44 L285.0,338.45 L285.5,338.47 L286.0,338.49 L286.5,338.50 L287.0,338.52 L287.5,338.53 L288.0,338.54 L288.5,338.54 L289.0,338.54"/>
<path d="M103.0,359.88 L103.5,359.87 L104.0,359.84 L104.5,359.81 L105.0,359.77 L105.5,359.71 L106.0,359.65 L106.5,359.57 L107.0,359.48 L107.5,359.38 L108.0,359.26 L108.5,359.13 L109.0,358.98 L109.5,358.83 L110.0,358.65 L110.5,358.47 L111.0,358.27 L111.5,358.05 L112.0,357.82 L112.5,357.57 L113.0,357.30 L113.5,357.00 L114.0,356.67 L114.5,356.31 L115.0,355.90 L115.5,355.45 L116.0,354.95 L116.5,354.40 L117.0,353.78 L117.5,353.11 L118.0,352.38 L118.5,351.59 L119.0,350.76 L119.5,349.88 L120.0,348.97 L120.5,348.06 L121.0,347.14 L121.5,346.26 L122.0,345.42 L122.5,344.64 L123.0,343.96 L123.5,343.39 L124.0,342.95 L124.5,342.66 L125.0,342.53 L125.5,342.57 L126.0,342.77 L126.5,343.15 L127.0,343.69 L127.5,344.39 L128.0,345.22 L128.5,346.18 L129.0,347.24 L129.5,348.39 L130.0,349.59 L130.5,350.83 L131.0,352.10 L131.5,353.36 L132.0,354.61 L132.5,355.82 L133.0,357.00 L133.5,358.12 L134.0,359.19 L134.5,360.20 L135.0,361.14 L135.5,362.02 L136.0,362.84 L136.5,363.59 L137.0,364.28 L137.5,364.91 L138.0,365.49 L138.5,366.01 L139.0,366.48 L139.5,366.90 L140.0,367.26 L140.5,367.58 L141.0,367.86 L141.5,368.08 L142.0,368.27 L142.5,368.40 L143.0,368.50 L143.5,368.55 L144.0,368.57 L144.5,368.57 L145.0,368.55 L145.5,368.51 L146.0,368.45 L146.5,368.37 L147.0,368.27 L147.5,368.15 L148.0,368.02 L148.5,367.86 L149.0,367.69 L149.5,367.50 L150.0,367.29 L150.5,367.07 L151.0,366.84 L151.5,366.60 L152.0,366.36 L152.5,366.10 L153.0,365.85 L153.5,365.60 L154.0,365.34 L154.5,365.10 L155.0,364.85 L155.5,364.62 L156.0,364.39 L156.5,364.16 L157.0,363.95 L157.5,363.74 L158.0,363.55 L158.5,363.35 L159.0,363.17 L159.5,362.99 L160.0,362.81 L160.5,362.64 L161.0,362.48 L161.5,362.32 L162.0,362.17 L162.5,362.02 L163.0,361.89 L163.5,361.76 L164.0,361.64 L164.5,361.54 L165.0,361.44 L165.5,361.36 L166.0,361.29 L166.5,361.22 L167.0,361.17 L167.5,361.12 L168.0,361.08 L168.5,361.05 L169.0,361.01 L169.5,360.98 L170.0,360.95 L170.5,360.91 L171.0,360.88 L171.5,360.84 L172.0,360.80 L172.5,360.77 L173.0,360.73 L173.5,360.70 L174.0,360.68 L174.5,360.66 L175.0,360.65 L175.5,360.65 L176.0,360.66 L176.5,360.68 L177.0,360.71 L177.5,360.76 L178.0,360.80 L178.5,360.86 L179.0,360.92 L179.5,360.98 L180.0,361.04 L180.5,361.09 L181.0,361.14 L181.5,361.19 L182.0,361.23 L182.5,361.27 L183.0,361.30 L183.5,361.33 L184.0,361.35 L184.5,361.38 L185.0,361.40 L185.5,361.43 L186.0,361.46 L186.5,361.49 L187.0,361.52 L187.5,361.56 L188.0,361.60 L188.5,361.65 L189.0,361.69 L189.5,361.73 L190.0,361.76 L190.5,361.79 L191.0,361.81 L191.5,361.82 L192.0,361.83 L192.5,361.83 L193.0,361.82 L193.5,361.80 L194.0,361.78 L194.5,361.76 L195.0,361.74 L195.5,361.72 L196.0,361.70 L196.5,361.69 L197.0,361.68 L197.5,361.69 L198.0,361.70 L198.5,361.71 L199.0,361.73 L199.5,361.75 L200.0,361.78 L200.5,361.80 L201.0,361.82 L201.5,361.83 L202.0,361.84 L202.5,361.83 L203.0,361.82 L203.5,361.80 L204.0,361.78 L204.5,361.74 L205.0,361.70 L205.5,361.66 L206.0,361.62 L206.5,361.58 L207.0,361.54 L207.5,361.50 L208.0,361.47 L208.5,361.45 L209.0,361.43 L209.5,361.42 L210.0,361.41 L210.5,361.40 L211.0,361.40 L211.5,361.39 L212.0,361.39 L212.5,361.37 L213.0,361.36 L213.5,361.34 L214.0,361.32 L214.5,361.29 L215.0,361.26 L215.5,361.24 L216.0,361.21 L216.5,361.19 L217.0,361.17 L217.5,361.17 L218.0,361.17 L218.5,361.17 L219.0,361.19 L219.5,361.22 L220.0,361.25 L220.5,361.29 L221.0,361.33 L221.5,361.37 L222.0,361.41 L222.5,361.45 L223.0,361.47 L223.5,361.50 L224.0,361.51 L224.5,361.51 L225.0,361.51 L225.5,361.50 L226.0,361.48 L226.5,361.45 L227.0,361.43 L227.5,361.40 L228.0,361.38 L228.5,361.36 L229.0,361.35 L229.5,361.34 L230.0,361.34 L230.5,361.34 L231.0,361.35 L231.5,361.36 L232.0,361.38 L232.5,361.40 L233.0,361.41 L233.5,361.43 L234.0,361.44 L234.5,361.45 L235.0,361.45 L235.5,361.45 L236.0,361.44 L236.5,361.43 L237.0,361.42 L237.5,361.41 L238.0,361.41 L238.5,361.40 L239.0,361.41 L239.5,361.42 L240.0,361.43 L240.5,361.45 L241.0,361.48 L241.5,361.51 L242.0,361.54 L242.5,361.57 L243.0,361.60 L243.5,361.63 L244.0,361.65 L244.5,361.66 L245.0,361.66 L245.5,361.65 L246.0,361.64 L246.5,361.61 L247.0,361.58 L247.5,361.54 L248.0,361.49 L248.5,361.45 L249.0,361.41 L249.5,361.37 L250.0,361.33 L250.5,361.31 L251.0,361.29 L251.5,361.28 L252.0,361.28 L252.5,361.28 L253.0,361.29 L253.5,361.30 L254.0,361.31 L254.5,361.32 L255.0,361.33 L255.5,361.34 L256.0,361.35 L256.5,361.34 L257.0,361.34 L257.5,361.33 L258.0,361.32 L258.5,361.31 L259.0,361.30 L259.5,361.29 L260.0,361.28 L260.5,361.28 L261.0,361.28 L261.5,361.29 L262.0,361.31 L262.5,361.33 L263.0,361.35 L263.5,361.38 L264.0,361.40 L264.5,361.43 L265.0,361.44 L265.5,361.46 L266.0,361.46 L266.5,361.46 L267.0,361.44 L267.5,361.42 L268.0,361.40 L268.5,361.37 L269.0,361.33 L269.5,361.30 L270.0,361.27 L270.5,361.24 L271.0,361.21 L271.5,361.20 L272.0,361.19 L272.5,361.20 L273.0,361.21 L273.5,361.23 L274.0,361.26 L274.5,361.29 L275.0,361.33 L275.5,361.36 L276.0,361.40 L276.5,361.43 L277.0,361.45 L277.5,361.48 L278.0,361.49 L278.5,361.50 L279.0,361.50 L279.5,361.50 L280.0,361.50 L280.5,361.50 L281.0,361.49 L281.5,361.49 L282.0,361.49 L282.5,361.50 L283.0,361.51 L283.5,361.52 L284.0,361.54 L284.5,361.56 L285.0,361.57 L285.5,361.59 L286.0,361.60 L286.5,361.61 L287.0,361.61 L287.5,361.60 L288.0,361.59 L288.5,361.57 L289.0,361.54"/>
<path d="M103.0,380.41 L103.5,380.42 L104.0,380.42 L104.5,380.43 L105.0,380.43 L105.5,380.43 L106.0,380.42 L106.5,380.42 L107.0,380.41 L107.5,380.39 L108.0,380.38 L108.5,380.37 L109.0,380.35 L109.5,380.34 L110.0,380.32 L110.5,380.31 L111.0,380.30 L111.5,380.28 L112.0,380.27 L112.5,380.26 L113.0,380.24 L113.5,380.22 L114.0,380.19 L114.5,380.14 L115.0,380.08 L115.5,379.99 L116.0,379.86 L116.5,379.70 L117.0,379.49 L117.5,379.23 L118.0,378.90 L118.5,378.50 L119.0,378.03 L119.5,377.47 L120.0,376.84 L120.5,376.12 L121.0,375.33 L121.5,374.47 L122.0,373.56 L122.5,372.61 L123.0,371.65 L123.5,370.69 L124.0,369.78 L124.5,368.93 L125.0,368.17 L125.5,367.53 L126.0,367.04 L126.5,366.72 L127.0,366.58 L127.5,366.62 L128.0,366.86 L128.5,367.28 L129.0,367.87 L129.5,368.62 L130.0,369.51 L130.5,370.50 L131.0,371.58 L131.5,372.71 L132.0,373.87 L132.5,375.03 L133.0,376.18 L133.5,377.29 L134.0,378.35 L134.5,379.36 L135.0,380.30 L135.5,381.16 L136.0,381.96 L136.5,382.69 L137.0,383.36 L137.5,383.96 L138.0,384.51 L138.5,385.00 L139.0,385.44 L139.5,385.84 L140.0,386.19 L140.5,386.51 L141.0,386.79 L141.5,387.03 L142.0,387.24 L142.5,387.42 L143.0,387.56 L143.5,387.67 L144.0,387.74 L144.5,387.79 L145.0,387.80 L145.5,387.79 L146.0,387.76 L146.5,387.72 L147.0,387.65 L147.5,387.57 L148.0,387.48 L148.5,387.36 L149.0,387.23 L149.5,387.08 L150.0,386.92 L150.5,386.75 L151.0,386.56 L151.5,386.36 L152.0,386.16 L152.5,385.95 L153.0,385.74 L153.5,385.52 L154.0,385.31 L154.5,385.09 L155.0,384.88 L155.5,384.67 L156.0,384.47 L156.5,384.27 L157.0,384.07 L157.5,383.88 L158.0,383.69 L158.5,383.50 L159.0,383.32 L159.5,383.14 L160.0,382.96 L160.5,382.78 L161.0,382.60 L161.5,382.43 L162.0,382.26 L162.5,382.10 L163.0,381.94 L163.5,381.79 L164.0,381.65 L164.5,381.52 L165.0,381.41 L165.5,381.31 L166.0,381.21 L166.5,381.14 L167.0,381.07 L167.5,381.02 L168.0,380.97 L168.5,380.93 L169.0,380.90 L169.5,380.88 L170.0,380.86 L170.5,380.84 L171.0,380.82 L171.5,380.81 L172.0,380.80 L172.5,380.80 L173.0,380.79 L173.5,380.80 L174.0,380.81 L174.5,380.83 L175.0,380.86 L175.5,380.90 L176.0,380.95 L176.5,381.00 L177.0,381.06 L177.5,381.13 L178.0,381.21 L178.5,381.28 L179.0,381.36 L179.5,381.43 L180.0,381.49 L180.5,381.55 L181.0,381.60 L181.5,381.65 L182.0,381.68 L182.5,381.71 L183.0,381.72 L183.5,381.74 L184.0,381.75 L184.5,381.75 L185.0,381.76 L185.5,381.77 L186.0,381.79 L186.5,381.81 L187.0,381.84 L187.5,381.87 L188.0,381.90 L188.5,381.94 L189.0,381.99 L189.5,382.03 L190.0,382.07 L190.5,382.11 L191.0,382.15 L191.5,382.18 L192.0,382.20 L192.5,382.22 L193.0,382.23 L193.5,382.24 L194.0,382.24 L194.5,382.24 L195.0,382.23 L195.5,382.23 L196.0,382.23 L196.5,382.23 L197.0,382.24 L197.5,382.25 L198.0,382.27 L198.5,382.29 L199.0,382.31 L199.5,382.32 L200.0,382.34 L200.5,382.35 L201.0,382.36 L201.5,382.36 L202.0,382.35 L202.5,382.33 L203.0,382.31 L203.5,382.27 L204.0,382.23 L204.5,382.19 L205.0,382.14 L205.5,382.09 L206.0,382.05 L206.5,382.01 L207.0,381.97 L207.5,381.95 L208.0,381.94 L208.5,381.93 L209.0,381.94 L209.5,381.95 L210.0,381.97 L210.5,381.99 L211.0,382.02 L211.5,382.05 L212.0,382.08 L212.5,382.10 L213.0,382.12 L213.5,382.14 L214.0,382.15 L214.5,382.15 L215.0,382.16 L215.5,382.15 L216.0,382.15 L216.5,382.15 L217.0,382.15 L217.5,382.15 L218.0,382.15 L218.5,382.16 L219.0,382.18 L219.5,382.20 L220.0,382.22 L220.5,382.24 L221.0,382.26 L221.5,382.28 L222.0,382.30 L222.5,382.31 L223.0,382.31 L223.5,382.30 L224.0,382.29 L224.5,382.27 L225.0,382.24 L225.5,382.21 L226.0,382.18 L226.5,382.14 L227.0,382.10 L227.5,382.07 L228.0,382.04 L228.5,382.03 L229.0,382.01 L229.5,382.01 L230.0,382.02 L230.5,382.04 L231.0,382.06 L231.5,382.08 L232.0,382.11 L232.5,382.15 L233.0,382.17 L233.5,382.20 L234.0,382.22 L234.5,382.23 L235.0,382.24 L235.5,382.24 L236.0,382.23 L236.5,382.21 L237.0,382.20 L237.5,382.18 L238.0,382.15 L238.5,382.13 L239.0,382.11 L239.5,382.10 L240.0,382.09 L240.5,382.08 L241.0,382.08 L241.5,382.08 L242.0,382.08 L242.5,382.09 L243.0,382.09 L243.5,382.09 L244.0,382.09 L244.5,382.08 L245.0,382.07 L245.5,382.05 L246.0,382.02 L246.5,381.99 L247.0,381.96 L247.5,381.93 L248.0,381.90 L248.5,381.87 L249.0,381.85 L249.5,381.84 L250.0,381.83 L250.5,381.83 L251.0,381.85 L251.5,381.87 L252.0,381.90 L252.5,381.94 L253.0,381.98 L253.5,382.02 L254.0,382.07 L254.5,382.10 L255.0,382.14 L255.5,382.17 L256.0,382.19 L256.5,382.20 L257.0,382.20 L257.5,382.19 L258.0,382.18 L258.5,382.17 L259.0,382.15 L259.5,382.13 L260.0,382.12 L260.5,382.10 L261.0,382.09 L261.5,382.09 L262.0,382.09 L262.5,382.10 L263.0,382.11 L263.5,382.12 L264.0,382.13 L264.5,382.15 L265.0,382.16 L265.5,382.17 L266.0,382.17 L266.5,382.17 L267.0,382.16 L267.5,382.15 L268.0,382.14 L268.5,382.12 L269.0,382.10 L269.5,382.09 L270.0,382.07 L270.5,382.06 L271.0,382.06 L271.5,382.07 L272.0,382.08 L272.5,382.10 L273.0,382.13 L273.5,382.16 L274.0,382.20 L274.5,382.23 L275.0,382.27 L275.5,382.30 L276.0,382.33 L276.5,382.34 L277.0,382.35 L277.5,382.35 L278.0,382.34 L278.5,382.32 L279.0,382.30 L279.5,382.26 L280.0,382.22 L280.5,382.19 L281.0,382.15 L281.5,382.11 L282.0,382.08 L282.5,382.05 L283.0,382.03 L283.5,382.02 L284.0,382.01 L284.5,382.01 L285.0,382.01 L285.5,382.02 L286.0,382.02 L286.5,382.03 L287.0,382.03 L287.5,382.03 L288.0,382.02 L288.5,382.02 L289.0,382.00"/>
<path d="M103.0,405.13 L103.5,405.11 L104.0,405.08 L104.5,405.04 L105.0,404.99 L105.5,404.93 L106.0,404.87 L106.5,404.80 L107.0,404.72 L107.5,404.63 L108.0,404.53 L108.5,404.43 L109.0,404.32 L109.5,404.21 L110.0,404.08 L110.5,403.95 L111.0,403.82 L111.5,403.67 L112.0,403.51 L112.5,403.34 L113.0,403.16 L113.5,402.96 L114.0,402.73 L114.5,402.49 L115.0,402.21 L115.5,401.89 L116.0,401.54 L116.5,401.14 L117.0,400.69 L117.5,400.18 L118.0,399.61 L118.5,398.98 L119.0,398.29 L119.5,397.54 L120.0,396.74 L120.5,395.89 L121.0,395.01 L121.5,394.12 L122.0,393.24 L122.5,392.38 L123.0,391.57 L123.5,390.83 L124.0,390.20 L124.5,389.68 L125.0,389.31 L125.5,389.10 L126.0,389.05 L126.5,389.18 L127.0,389.49 L127.5,389.98 L128.0,390.62 L128.5,391.41 L129.0,392.33 L129.5,393.36 L130.0,394.46 L130.5,395.62 L131.0,396.82 L131.5,398.02 L132.0,399.21 L132.5,400.36 L133.0,401.48 L133.5,402.53 L134.0,403.52 L134.5,404.43 L135.0,405.27 L135.5,406.04 L136.0,406.74 L136.5,407.37 L137.0,407.94 L137.5,408.45 L138.0,408.91 L138.5,409.32 L139.0,409.68 L139.5,410.01 L140.0,410.29 L140.5,410.54 L141.0,410.76 L141.5,410.95 L142.0,411.10 L142.5,411.22 L143.0,411.30 L143.5,411.36 L144.0,411.38 L144.5,411.37 L145.0,411.35 L145.5,411.32 L146.0,411.26 L146.5,411.18 L147.0,411.09 L147.5,410.98 L148.0,410.86 L148.5,410.72 L149.0,410.57 L149.5,410.41 L150.0,410.25 L150.5,410.08 L151.0,409.91 L151.5,409.73 L152.0,409.56 L152.5,409.38 L153.0,409.20 L153.5,409.03 L154.0,408.86 L154.5,408.69 L155.0,408.52 L155.5,408.35 L156.0,408.18 L156.5,408.01 L157.0,407.85 L157.5,407.68 L158.0,407.52 L158.5,407.36 L159.0,407.20 L159.5,407.05 L160.0,406.91 L160.5,406.77 L161.0,406.64 L161.5,406.52 L162.0,406.41 L162.5,406.31 L163.0,406.21 L163.5,406.13 L164.0,406.06 L164.5,405.99 L165.0,405.93 L165.5,405.87 L166.0,405.81 L166.5,405.76 L167.0,405.71 L167.5,405.66 L168.0,405.60 L168.5,405.55 L169.0,405.50 L169.5,405.45 L170.0,405.40 L170.5,405.36 L171.0,405.32 L171.5,405.30 L172.0,405.28 L172.5,405.27 L173.0,405.27 L173.5,405.28 L174.0,405.30 L174.5,405.33 L175.0,405.36 L175.5,405.40 L176.0,405.45 L176.5,405.49 L177.0,405.53 L177.5,405.57 L178.0,405.61 L178.5,405.64 L179.0,405.66 L179.5,405.67 L180.0,405.69 L180.5,405.69 L181.0,405.70 L181.5,405.71 L182.0,405.71 L182.5,405.72 L183.0,405.73 L183.5,405.74 L184.0,405.76 L184.5,405.79 L185.0,405.81 L185.5,405.84 L186.0,405.87 L186.5,405.89 L187.0,405.92 L187.5,405.94 L188.0,405.95 L188.5,405.96 L189.0,405.96 L189.5,405.96 L190.0,405.95 L190.5,405.94 L191.0,405.92 L191.5,405.91 L192.0,405.89 L192.5,405.88 L193.0,405.88 L193.5,405.88 L194.0,405.89 L194.5,405.91 L195.0,405.94 L195.5,405.97 L196.0,406.00 L196.5,406.04 L197.0,406.08 L197.5,406.12 L198.0,406.15 L198.5,406.18 L199.0,406.20 L199.5,406.20 L200.0,406.20 L200.5,406.20 L201.0,406.18 L201.5,406.16 L202.0,406.13 L202.5,406.10 L203.0,406.07 L203.5,406.04 L204.0,406.01 L204.5,405.99 L205.0,405.97 L205.5,405.96 L206.0,405.95 L206.5,405.95 L207.0,405.96 L207.5,405.96 L208.0,405.97 L208.5,405.97 L209.0,405.98 L209.5,405.98 L210.0,405.97 L210.5,405.96 L211.0,405.95 L211.5,405.94 L212.0,405.92 L212.5,405.90 L213.0,405.89 L213.5,405.88 L214.0,405.87 L214.5,405.87 L215.0,405.88 L215.5,405.89 L216.0,405.91 L216.5,405.94 L217.0,405.98 L217.5,406.01 L218.0,406.05 L218.5,406.09 L219.0,406.12 L219.5,406.15 L220.0,406.17 L220.5,406.18 L221.0,406.18 L221.5,406.17 L222.0,406.15 L222.5,406.12 L223.0,406.09 L223.5,406.05 L224.0,406.02 L224.5,405.98 L225.0,405.94 L225.5,405.91 L226.0,405.88 L226.5,405.86 L227.0,405.85 L227.5,405.85 L228.0,405.84 L228.5,405.85 L229.0,405.85 L229.5,405.86 L230.0,405.87 L230.5,405.87 L231.0,405.87 L231.5,405.87 L232.0,405.86 L232.5,405.85 L233.0,405.84 L233.5,405.82 L234.0,405.80 L234.5,405.79 L235.0,405.78 L235.5,405.77 L236.0,405.77 L236.5,405.77 L237.0,405.78 L237.5,405.80 L238.0,405.82 L238.5,405.85 L239.0,405.87 L239.5,405.90 L240.0,405.93 L240.5,405.95 L241.0,405.96 L241.5,405.97 L242.0,405.97 L242.5,405.96 L243.0,405.94 L243.5,405.92 L244.0,405.89 L244.5,405.85 L245.0,405.82 L245.5,405.78 L246.0,405.75 L246.5,405.72 L247.0,405.70 L247.5,405.69 L248.0,405.68 L248.5,405.69 L249.0,405.70 L249.5,405.72 L250.0,405.75 L250.5,405.78 L251.0,405.81 L251.5,405.84 L252.0,405.86 L252.5,405.88 L253.0,405.90 L253.5,405.92 L254.0,405.92 L254.5,405.93 L255.0,405.93 L255.5,405.93 L256.0,405.93 L256.5,405.93 L257.0,405.93 L257.5,405.94 L258.0,405.95 L258.5,405.97 L259.0,405.99 L259.5,406.01 L260.0,406.04 L260.5,406.07 L261.0,406.09 L261.5,406.11 L262.0,406.13 L262.5,406.14 L263.0,406.14 L263.5,406.13 L264.0,406.11 L264.5,406.08 L265.0,406.05 L265.5,406.01 L266.0,405.98 L266.5,405.94 L267.0,405.90 L267.5,405.87 L268.0,405.84 L268.5,405.82 L269.0,405.81 L269.5,405.81 L270.0,405.82 L270.5,405.83 L271.0,405.85 L271.5,405.88 L272.0,405.90 L272.5,405.93 L273.0,405.95 L273.5,405.97 L274.0,405.99 L274.5,406.00 L275.0,406.00 L275.5,405.99 L276.0,405.98 L276.5,405.97 L277.0,405.95 L277.5,405.93 L278.0,405.91 L278.5,405.90 L279.0,405.89 L279.5,405.88 L280.0,405.88 L280.5,405.88 L281.0,405.88 L281.5,405.89 L282.0,405.90 L282.5,405.90 L283.0,405.91 L283.5,405.91 L284.0,405.90 L284.5,405.89 L285.0,405.87 L285.5,405.85 L286.0,405.82 L286.5,405.79 L287.0,405.75 L287.5,405.72 L288.0,405.69 L288.5,405.66 L289.0,405.64"/>
<path d="M103.0,429.50 L103.5,429.49 L104.0,429.47 L104.5,429.45 L105.0,429.43 L105.5,429.40 L106.0,429.37 L106.5,429.33 L107.0,429.28 L107.5,429.22 L108.0,429.15 L108.5,429.07 L109.0,428.98 L109.5,428.88 L110.0,428.76 L110.5,428.64 L111.0,428.51 L111.5,428.37 L112.0,428.22 L112.5,428.06 L113.0,427.89 L113.5,427.72 L114.0,427.54 L114.5,427.34 L115.0,427.13 L115.5,426.89 L116.0,426.63 L116.5,426.34 L117.0,426.00 L117.5,425.61 L118.0,425.17 L118.5,424.66 L119.0,424.08 L119.5,423.43 L120.0,422.71 L120.5,421.92 L121.0,421.07 L121.5,420.18 L122.0,419.25 L122.5,418.33 L123.0,417.42 L123.5,416.55 L124.0,415.76 L124.5,415.07 L125.0,414.51 L125.5,414.10 L126.0,413.86 L126.5,413.80 L127.0,413.93 L127.5,414.25 L128.0,414.75 L128.5,415.41 L129.0,416.23 L129.5,417.16 L130.0,418.19 L130.5,419.30 L131.0,420.44 L131.5,421.59 L132.0,422.74 L132.5,423.85 L133.0,424.92 L133.5,425.92 L134.0,426.86 L134.5,427.72 L135.0,428.50 L135.5,429.21 L136.0,429.85 L136.5,430.42 L137.0,430.93 L137.5,431.38 L138.0,431.78 L138.5,432.13 L139.0,432.44 L139.5,432.72 L140.0,432.96 L140.5,433.16 L141.0,433.34 L141.5,433.49 L142.0,433.60 L142.5,433.69 L143.0,433.76 L143.5,433.79 L144.0,433.80 L144.5,433.79 L145.0,433.77 L145.5,433.74 L146.0,433.70 L146.5,433.66 L147.0,433.60 L147.5,433.54 L148.0,433.47 L148.5,433.39 L149.0,433.30 L149.5,433.21 L150.0,433.11 L150.5,433.00 L151.0,432.89 L151.5,432.77 L152.0,432.65 L152.5,432.51 L153.0,432.38 L153.5,432.24 L154.0,432.10 L154.5,431.96 L155.0,431.82 L155.5,431.68 L156.0,431.55 L156.5,431.42 L157.0,431.30 L157.5,431.19 L158.0,431.08 L158.5,430.99 L159.0,430.90 L159.5,430.82 L160.0,430.75 L160.5,430.68 L161.0,430.62 L161.5,430.55 L162.0,430.49 L162.5,430.43 L163.0,430.37 L163.5,430.31 L164.0,430.24 L164.5,430.18 L165.0,430.11 L165.5,430.05 L166.0,429.99 L166.5,429.93 L167.0,429.87 L167.5,429.82 L168.0,429.78 L168.5,429.74 L169.0,429.71 L169.5,429.69 L170.0,429.67 L170.5,429.65 L171.0,429.64 L171.5,429.62 L172.0,429.61 L172.5,429.60 L173.0,429.58 L173.5,429.56 L174.0,429.54 L174.5,429.51 L175.0,429.49 L175.5,429.46 L176.0,429.44 L176.5,429.41 L177.0,429.40 L177.5,429.39 L178.0,429.38 L178.5,429.39 L179.0,429.40 L179.5,429.42 L180.0,429.45 L180.5,429.48 L181.0,429.52 L181.5,429.56 L182.0,429.59 L182.5,429.63 L183.0,429.66 L183.5,429.68 L184.0,429.69 L184.5,429.70 L185.0,429.70 L185.5,429.69 L186.0,429.68 L186.5,429.66 L187.0,429.64 L187.5,429.62 L188.0,429.60 L188.5,429.59 L189.0,429.58 L189.5,429.58 L190.0,429.58 L190.5,429.59 L191.0,429.61 L191.5,429.63 L192.0,429.65 L192.5,429.67 L193.0,429.70 L193.5,429.72 L194.0,429.74 L194.5,429.75 L195.0,429.75 L195.5,429.76 L196.0,429.75 L196.5,429.75 L197.0,429.74 L197.5,429.73 L198.0,429.72 L198.5,429.72 L199.0,429.72 L199.5,429.72 L200.0,429.73 L200.5,429.75 L201.0,429.77 L201.5,429.79 L202.0,429.82 L202.5,429.84 L203.0,429.87 L203.5,429.89 L204.0,429.90 L204.5,429.90 L205.0,429.90 L205.5,429.89 L206.0,429.86 L206.5,429.83 L207.0,429.80 L207.5,429.75 L208.0,429.71 L208.5,429.66 L209.0,429.62 L209.5,429.58 L210.0,429.54 L210.5,429.51 L211.0,429.49 L211.5,429.48 L212.0,429.48 L212.5,429.48 L213.0,429.49 L213.5,429.51 L214.0,429.52 L214.5,429.54 L215.0,429.55 L215.5,429.56 L216.0,429.56 L216.5,429.56 L217.0,429.56 L217.5,429.55 L218.0,429.54 L218.5,429.52 L219.0,429.51 L219.5,429.50 L220.0,429.48 L220.5,429.48 L221.0,429.48 L221.5,429.48 L222.0,429.49 L222.5,429.50 L223.0,429.51 L223.5,429.53 L224.0,429.55 L224.5,429.56 L225.0,429.57 L225.5,429.57 L226.0,429.57 L226.5,429.56 L227.0,429.54 L227.5,429.51 L228.0,429.48 L228.5,429.44 L229.0,429.40 L229.5,429.36 L230.0,429.32 L230.5,429.29 L231.0,429.26 L231.5,429.24 L232.0,429.23 L232.5,429.23 L233.0,429.24 L233.5,429.25 L234.0,429.28 L234.5,429.31 L235.0,429.34 L235.5,429.38 L236.0,429.41 L236.5,429.44 L237.0,429.47 L237.5,429.49 L238.0,429.51 L238.5,429.52 L239.0,429.52 L239.5,429.52 L240.0,429.52 L240.5,429.51 L241.0,429.51 L241.5,429.51 L242.0,429.51 L242.5,429.51 L243.0,429.52 L243.5,429.54 L244.0,429.55 L244.5,429.57 L245.0,429.59 L245.5,429.61 L246.0,429.63 L246.5,429.64 L247.0,429.65 L247.5,429.65 L248.0,429.64 L248.5,429.63 L249.0,429.61 L249.5,429.58 L250.0,429.55 L250.5,429.52 L251.0,429.49 L251.5,429.46 L252.0,429.44 L252.5,429.43 L253.0,429.42 L253.5,429.42 L254.0,429.43 L254.5,429.45 L255.0,429.48 L255.5,429.51 L256.0,429.55 L256.5,429.58 L257.0,429.62 L257.5,429.65 L258.0,429.67 L258.5,429.69 L259.0,429.70 L259.5,429.70 L260.0,429.70 L260.5,429.68 L261.0,429.67 L261.5,429.64 L262.0,429.62 L262.5,429.59 L263.0,429.57 L263.5,429.55 L264.0,429.53 L264.5,429.52 L265.0,429.51 L265.5,429.51 L266.0,429.51 L266.5,429.51 L267.0,429.51 L267.5,429.51 L268.0,429.50 L268.5,429.50 L269.0,429.48 L269.5,429.47 L270.0,429.44 L270.5,429.42 L271.0,429.39 L271.5,429.36 L272.0,429.33 L272.5,429.30 L273.0,429.28 L273.5,429.26 L274.0,429.25 L274.5,429.25 L275.0,429.26 L275.5,429.28 L276.0,429.31 L276.5,429.34 L277.0,429.38 L277.5,429.42 L278.0,429.46 L278.5,429.49 L279.0,429.53 L279.5,429.55 L280.0,429.57 L280.5,429.58 L281.0,429.58 L281.5,429.57 L282.0,429.55 L282.5,429.53 L283.0,429.51 L283.5,429.49 L284.0,429.47 L284.5,429.45 L285.0,429.43 L285.5,429.42 L286.0,429.42 L286.5,429.42 L287.0,429.43 L287.5,429.44 L288.0,429.45 L288.5,429.47 L289.0,429.48"/>
<path d="M103.0,453.16 L103.5,453.15 L104.0,453.13 L104.5,453.11 L105.0,453.09 L105.5,453.07 L106.0,453.05 L106.5,453.02 L107.0,452.98 L107.5,452.94 L108.0,452.88 L108.5,452.82 L109.0,452.75 L109.5,452.67 L110.0,452.58 L110.5,452.48 L111.0,452.38 L111.5,452.26 L112.0,452.14 L112.5,452.01 L113.0,451.87 L113.5,451.72 L114.0,451.55 L114.5,451.38 L115.0,451.18 L115.5,450.96 L116.0,450.72 L116.5,450.44 L117.0,450.13 L117.5,449.77 L118.0,449.36 L118.5,448.91 L119.0,448.40 L119.5,447.83 L120.0,447.21 L120.5,446.55 L121.0,445.85 L121.5,445.12 L122.0,444.38 L122.5,443.64 L123.0,442.92 L123.5,442.25 L124.0,441.64 L124.5,441.12 L125.0,440.70 L125.5,440.39 L126.0,440.22 L126.5,440.18 L127.0,440.29 L127.5,440.54 L128.0,440.92 L128.5,441.44 L129.0,442.06 L129.5,442.79 L130.0,443.59 L130.5,444.44 L131.0,445.34 L131.5,446.25 L132.0,447.16 L132.5,448.06 L133.0,448.93 L133.5,449.76 L134.0,450.54 L134.5,451.26 L135.0,451.94 L135.5,452.55 L136.0,453.11 L136.5,453.62 L137.0,454.08 L137.5,454.50 L138.0,454.87 L138.5,455.20 L139.0,455.50 L139.5,455.76 L140.0,456.00 L140.5,456.20 L141.0,456.38 L141.5,456.54 L142.0,456.67 L142.5,456.78 L143.0,456.87 L143.5,456.93 L144.0,456.98 L144.5,457.00 L145.0,457.01 L145.5,457.01 L146.0,457.00 L146.5,456.98 L147.0,456.95 L147.5,456.92 L148.0,456.89 L148.5,456.84 L149.0,456.79 L149.5,456.73 L150.0,456.66 L150.5,456.59 L151.0,456.50 L151.5,456.40 L152.0,456.30 L152.5,456.19 L153.0,456.07 L153.5,455.95 L154.0,455.82 L154.5,455.69 L155.0,455.56 L155.5,455.43 L156.0,455.30 L156.5,455.18 L157.0,455.05 L157.5,454.94 L158.0,454.83 L158.5,454.72 L159.0,454.62 L159.5,454.53 L160.0,454.43 L160.5,454.35 L161.0,454.26 L161.5,454.18 L162.0,454.09 L162.5,454.01 L163.0,453.93 L163.5,453.85 L164.0,453.78 L164.5,453.71 L165.0,453.64 L165.5,453.58 L166.0,453.53 L166.5,453.48 L167.0,453.44 L167.5,453.42 L168.0,453.40 L168.5,453.39 L169.0,453.38 L169.5,453.38 L170.0,453.38 L170.5,453.39 L171.0,453.39 L171.5,453.39 L172.0,453.39 L172.5,453.38 L173.0,453.36 L173.5,453.34 L174.0,453.31 L174.5,453.28 L175.0,453.24 L175.5,453.20 L176.0,453.16 L176.5,453.13 L177.0,453.09 L177.5,453.06 L178.0,453.04 L178.5,453.02 L179.0,453.01 L179.5,453.01 L180.0,453.01 L180.5,453.02 L181.0,453.03 L181.5,453.04 L182.0,453.05 L182.5,453.06 L183.0,453.07 L183.5,453.08 L184.0,453.08 L184.5,453.08 L185.0,453.08 L185.5,453.07 L186.0,453.07 L186.5,453.07 L187.0,453.07 L187.5,453.07 L188.0,453.08 L188.5,453.10 L189.0,453.13 L189.5,453.16 L190.0,453.19 L190.5,453.23 L191.0,453.26 L191.5,453.30 L192.0,453.33 L192.5,453.36 L193.0,453.38 L193.5,453.40 L194.0,453.40 L194.5,453.39 L195.0,453.38 L195.5,453.35 L196.0,453.33 L196.5,453.29 L197.0,453.26 L197.5,453.22 L198.0,453.19 L198.5,453.16 L199.0,453.14 L199.5,453.13 L200.0,453.13 L200.5,453.13 L201.0,453.14 L201.5,453.16 L202.0,453.18 L202.5,453.20 L203.0,453.22 L203.5,453.24 L204.0,453.26 L204.5,453.27 L205.0,453.28 L205.5,453.29 L206.0,453.28 L206.5,453.28 L207.0,453.27 L207.5,453.26 L208.0,453.25 L208.5,453.24 L209.0,453.23 L209.5,453.23 L210.0,453.24 L210.5,453.24 L211.0,453.26 L211.5,453.27 L212.0,453.29 L212.5,453.30 L213.0,453.32 L213.5,453.33 L214.0,453.33 L214.5,453.33 L215.0,453.32 L215.5,453.30 L216.0,453.28 L216.5,453.24 L217.0,453.20 L217.5,453.16 L218.0,453.11 L218.5,453.07 L219.0,453.03 L219.5,453.00 L220.0,452.97 L220.5,452.95 L221.0,452.94 L221.5,452.94 L222.0,452.94 L222.5,452.96 L223.0,452.98 L223.5,453.01 L224.0,453.03 L224.5,453.06 L225.0,453.08 L225.5,453.10 L226.0,453.11 L226.5,453.12 L227.0,453.12 L227.5,453.12 L228.0,453.11 L228.5,453.09 L229.0,453.08 L229.5,453.06 L230.0,453.05 L230.5,453.03 L231.0,453.03 L231.5,453.02 L232.0,453.03 L232.5,453.03 L233.0,453.04 L233.5,453.05 L234.0,453.06 L234.5,453.08 L235.0,453.08 L235.5,453.09 L236.0,453.09 L236.5,453.08 L237.0,453.06 L237.5,453.04 L238.0,453.02 L238.5,452.99 L239.0,452.97 L239.5,452.94 L240.0,452.91 L240.5,452.90 L241.0,452.88 L241.5,452.88 L242.0,452.89 L242.5,452.90 L243.0,452.93 L243.5,452.96 L244.0,453.00 L244.5,453.04 L245.0,453.09 L245.5,453.13 L246.0,453.17 L246.5,453.21 L247.0,453.24 L247.5,453.26 L248.0,453.28 L248.5,453.28 L249.0,453.28 L249.5,453.28 L250.0,453.26 L250.5,453.25 L251.0,453.23 L251.5,453.22 L252.0,453.20 L252.5,453.19 L253.0,453.19 L253.5,453.18 L254.0,453.19 L254.5,453.19 L255.0,453.20 L255.5,453.21 L256.0,453.22 L256.5,453.22 L257.0,453.22 L257.5,453.22 L258.0,453.21 L258.5,453.19 L259.0,453.17 L259.5,453.15 L260.0,453.12 L260.5,453.10 L261.0,453.07 L261.5,453.05 L262.0,453.03 L262.5,453.02 L263.0,453.01 L263.5,453.02 L264.0,453.03 L264.5,453.05 L265.0,453.08 L265.5,453.11 L266.0,453.14 L266.5,453.17 L267.0,453.20 L267.5,453.23 L268.0,453.24 L268.5,453.25 L269.0,453.26 L269.5,453.25 L270.0,453.23 L270.5,453.20 L271.0,453.17 L271.5,453.14 L272.0,453.10 L272.5,453.07 L273.0,453.03 L273.5,453.01 L274.0,452.98 L274.5,452.96 L275.0,452.95 L275.5,452.95 L276.0,452.95 L276.5,452.95 L277.0,452.96 L277.5,452.97 L278.0,452.98 L278.5,452.98 L279.0,452.98 L279.5,452.98 L280.0,452.98 L280.5,452.97 L281.0,452.96 L281.5,452.94 L282.0,452.93 L282.5,452.92 L283.0,452.91 L283.5,452.91 L284.0,452.92 L284.5,452.93 L285.0,452.95 L285.5,452.98 L286.0,453.01 L286.5,453.05 L287.0,453.09 L287.5,453.13 L288.0,453.17 L288.5,453.21 L289.0,453.24"/>
<path d="M103.0,477.23 L103.5,477.23 L104.0,477.22 L104.5,477.21 L105.0,477.19 L105.5,477.17 L106.0,477.14 L106.5,477.10 L107.0,477.05 L107.5,476.99 L108.0,476.93 L108.5,476.85 L109.0,476.77 L109.5,476.68 L110.0,476.57 L110.5,476.47 L111.0,476.35 L111.5,476.23 L112.0,476.10 L112.5,475.96 L113.0,475.82 L113.5,475.67 L114.0,475.51 L114.5,475.33 L115.0,475.14 L115.5,474.93 L116.0,474.69 L116.5,474.42 L117.0,474.11 L117.5,473.76 L118.0,473.37 L118.5,472.93 L119.0,472.43 L119.5,471.88 L120.0,471.29 L120.5,470.64 L121.0,469.96 L121.5,469.25 L122.0,468.52 L122.5,467.79 L123.0,467.07 L123.5,466.38 L124.0,465.75 L124.5,465.18 L125.0,464.71 L125.5,464.33 L126.0,464.07 L126.5,463.94 L127.0,463.94 L127.5,464.08 L128.0,464.35 L128.5,464.74 L129.0,465.25 L129.5,465.86 L130.0,466.56 L130.5,467.33 L131.0,468.15 L131.5,469.01 L132.0,469.87 L132.5,470.74 L133.0,471.59 L133.5,472.42 L134.0,473.20 L134.5,473.94 L135.0,474.63 L135.5,475.27 L136.0,475.86 L136.5,476.39 L137.0,476.86 L137.5,477.30 L138.0,477.68 L138.5,478.02 L139.0,478.32 L139.5,478.59 L140.0,478.83 L140.5,479.03 L141.0,479.21 L141.5,479.37 L142.0,479.50 L142.5,479.61 L143.0,479.70 L143.5,479.77 L144.0,479.82 L144.5,479.85 L145.0,479.87 L145.5,479.87 L146.0,479.85 L146.5,479.83 L147.0,479.79 L147.5,479.75 L148.0,479.69 L148.5,479.62 L149.0,479.55 L149.5,479.46 L150.0,479.36 L150.5,479.25 L151.0,479.14 L151.5,479.01 L152.0,478.88 L152.5,478.75 L153.0,478.61 L153.5,478.48 L154.0,478.34 L154.5,478.21 L155.0,478.08 L155.5,477.95 L156.0,477.84 L156.5,477.73 L157.0,477.62 L157.5,477.52 L158.0,477.43 L158.5,477.34 L159.0,477.26 L159.5,477.18 L160.0,477.10 L160.5,477.02 L161.0,476.94 L161.5,476.86 L162.0,476.78 L162.5,476.70 L163.0,476.62 L163.5,476.54 L164.0,476.47 L164.5,476.40 L165.0,476.34 L165.5,476.28 L166.0,476.23 L166.5,476.18 L167.0,476.15 L167.5,476.12 L168.0,476.09 L168.5,476.08 L169.0,476.06 L169.5,476.05 L170.0,476.04 L170.5,476.03 L171.0,476.02 L171.5,476.00 L172.0,475.99 L172.5,475.97 L173.0,475.95 L173.5,475.92 L174.0,475.90 L174.5,475.88 L175.0,475.87 L175.5,475.86 L176.0,475.85 L176.5,475.85 L177.0,475.86 L177.5,475.87 L178.0,475.89 L178.5,475.91 L179.0,475.93 L179.5,475.96 L180.0,475.98 L180.5,476.00 L181.0,476.01 L181.5,476.02 L182.0,476.01 L182.5,476.00 L183.0,475.98 L183.5,475.96 L184.0,475.92 L184.5,475.89 L185.0,475.85 L185.5,475.81 L186.0,475.77 L186.5,475.74 L187.0,475.71 L187.5,475.69 L188.0,475.68 L188.5,475.68 L189.0,475.69 L189.5,475.70 L190.0,475.71 L190.5,475.73 L191.0,475.75 L191.5,475.77 L192.0,475.79 L192.5,475.80 L193.0,475.81 L193.5,475.82 L194.0,475.82 L194.5,475.82 L195.0,475.82 L195.5,475.81 L196.0,475.81 L196.5,475.81 L197.0,475.82 L197.5,475.83 L198.0,475.84 L198.5,475.87 L199.0,475.89 L199.5,475.92 L200.0,475.95 L200.5,475.99 L201.0,476.02 L201.5,476.05 L202.0,476.07 L202.5,476.08 L203.0,476.09 L203.5,476.09 L204.0,476.08 L204.5,476.06 L205.0,476.03 L205.5,476.00 L206.0,475.97 L206.5,475.93 L207.0,475.90 L207.5,475.87 L208.0,475.85 L208.5,475.84 L209.0,475.83 L209.5,475.83 L210.0,475.84 L210.5,475.86 L211.0,475.88 L211.5,475.91 L212.0,475.94 L212.5,475.96 L213.0,475.99 L213.5,476.01 L214.0,476.03 L214.5,476.04 L215.0,476.04 L215.5,476.04 L216.0,476.03 L216.5,476.02 L217.0,476.01 L217.5,476.00 L218.0,475.98 L218.5,475.97 L219.0,475.97 L219.5,475.97 L220.0,475.97 L220.5,475.97 L221.0,475.98 L221.5,475.99 L222.0,476.00 L222.5,476.01 L223.0,476.01 L223.5,476.01 L224.0,476.01 L224.5,475.99 L225.0,475.97 L225.5,475.94 L226.0,475.90 L226.5,475.86 L227.0,475.82 L227.5,475.78 L228.0,475.74 L228.5,475.70 L229.0,475.67 L229.5,475.65 L230.0,475.64 L230.5,475.64 L231.0,475.65 L231.5,475.66 L232.0,475.69 L232.5,475.72 L233.0,475.75 L233.5,475.79 L234.0,475.82 L234.5,475.85 L235.0,475.87 L235.5,475.89 L236.0,475.91 L236.5,475.91 L237.0,475.91 L237.5,475.91 L238.0,475.90 L238.5,475.88 L239.0,475.87 L239.5,475.86 L240.0,475.85 L240.5,475.85 L241.0,475.85 L241.5,475.85 L242.0,475.86 L242.5,475.88 L243.0,475.89 L243.5,475.91 L244.0,475.92 L244.5,475.93 L245.0,475.94 L245.5,475.94 L246.0,475.94 L246.5,475.93 L247.0,475.91 L247.5,475.90 L248.0,475.87 L248.5,475.85 L249.0,475.83 L249.5,475.81 L250.0,475.80 L250.5,475.79 L251.0,475.79 L251.5,475.80 L252.0,475.82 L252.5,475.85 L253.0,475.88 L253.5,475.92 L254.0,475.96 L254.5,476.00 L255.0,476.05 L255.5,476.08 L256.0,476.11 L256.5,476.14 L257.0,476.15 L257.5,476.15 L258.0,476.15 L258.5,476.14 L259.0,476.12 L259.5,476.10 L260.0,476.07 L260.5,476.04 L261.0,476.02 L261.5,475.99 L262.0,475.97 L262.5,475.96 L263.0,475.95 L263.5,475.94 L264.0,475.94 L264.5,475.94 L265.0,475.94 L265.5,475.94 L266.0,475.94 L266.5,475.94 L267.0,475.93 L267.5,475.92 L268.0,475.90 L268.5,475.88 L269.0,475.85 L269.5,475.83 L270.0,475.80 L270.5,475.78 L271.0,475.76 L271.5,475.74 L272.0,475.73 L272.5,475.73 L273.0,475.74 L273.5,475.75 L274.0,475.78 L274.5,475.80 L275.0,475.84 L275.5,475.87 L276.0,475.90 L276.5,475.93 L277.0,475.96 L277.5,475.97 L278.0,475.98 L278.5,475.98 L279.0,475.97 L279.5,475.96 L280.0,475.93 L280.5,475.90 L281.0,475.87 L281.5,475.84 L282.0,475.81 L282.5,475.78 L283.0,475.75 L283.5,475.74 L284.0,475.73 L284.5,475.72 L285.0,475.73 L285.5,475.74 L286.0,475.75 L286.5,475.77 L287.0,475.79 L287.5,475.80 L288.0,475.82 L288.5,475.83 L289.0,475.84"/>
<path d="M103.0,498.15 L103.5,498.13 L104.0,498.11 L104.5,498.09 L105.0,498.06 L105.5,498.04 L106.0,498.01 L106.5,497.98 L107.0,497.95 L107.5,497.92 L108.0,497.89 L108.5,497.86 L109.0,497.82 L109.5,497.78 L110.0,497.73 L110.5,497.67 L111.0,497.60 L111.5,497.53 L112.0,497.44 L112.5,497.34 L113.0,497.23 L113.5,497.11 L114.0,496.97 L114.5,496.81 L115.0,496.64 L115.5,496.45 L116.0,496.25 L116.5,496.03 L117.0,495.80 L117.5,495.55 L118.0,495.29 L118.5,495.01 L119.0,494.72 L119.5,494.42 L120.0,494.12 L120.5,493.81 L121.0,493.50 L121.5,493.19 L122.0,492.90 L122.5,492.62 L123.0,492.36 L123.5,492.12 L124.0,491.92 L124.5,491.76 L125.0,491.64 L125.5,491.56 L126.0,491.54 L126.5,491.56 L127.0,491.64 L127.5,491.77 L128.0,491.94 L128.5,492.16 L129.0,492.43 L129.5,492.73 L130.0,493.05 L130.5,493.40 L131.0,493.77 L131.5,494.14 L132.0,494.52 L132.5,494.89 L133.0,495.24 L133.5,495.59 L134.0,495.92 L134.5,496.22 L135.0,496.50 L135.5,496.76 L136.0,497.00 L136.5,497.21 L137.0,497.40 L137.5,497.57 L138.0,497.73 L138.5,497.87 L139.0,497.99 L139.5,498.10 L140.0,498.21 L140.5,498.30 L141.0,498.38 L141.5,498.46 L142.0,498.53 L142.5,498.59 L143.0,498.64 L143.5,498.68 L144.0,498.72 L144.5,498.75 L145.0,498.77 L145.5,498.78 L146.0,498.79 L146.5,498.79 L147.0,498.78 L147.5,498.78 L148.0,498.76 L148.5,498.75 L149.0,498.74 L149.5,498.73 L150.0,498.72 L150.5,498.71 L151.0,498.70 L151.5,498.69 L152.0,498.68 L152.5,498.67 L153.0,498.66 L153.5,498.64 L154.0,498.62 L154.5,498.59 L155.0,498.56 L155.5,498.52 L156.0,498.48 L156.5,498.43 L157.0,498.38 L157.5,498.33 L158.0,498.27 L158.5,498.22 L159.0,498.16 L159.5,498.11 L160.0,498.06 L160.5,498.01 L161.0,497.97 L161.5,497.94 L162.0,497.91 L162.5,497.89 L163.0,497.86 L163.5,497.85 L164.0,497.83 L164.5,497.81 L165.0,497.80 L165.5,497.78 L166.0,497.76 L166.5,497.74 L167.0,497.72 L167.5,497.69 L168.0,497.67 L168.5,497.64 L169.0,497.62 L169.5,497.60 L170.0,497.59 L170.5,497.57 L171.0,497.57 L171.5,497.57 L172.0,497.57 L172.5,497.58 L173.0,497.60 L173.5,497.61 L174.0,497.62 L174.5,497.63 L175.0,497.64 L175.5,497.64 L176.0,497.63 L176.5,497.62 L177.0,497.59 L177.5,497.57 L178.0,497.53 L178.5,497.49 L179.0,497.45 L179.5,497.41 L180.0,497.37 L180.5,497.34 L181.0,497.31 L181.5,497.28 L182.0,497.27 L182.5,497.27 L183.0,497.27 L183.5,497.28 L184.0,497.30 L184.5,497.32 L185.0,497.34 L185.5,497.37 L186.0,497.39 L186.5,497.41 L187.0,497.43 L187.5,497.44 L188.0,497.45 L188.5,497.45 L189.0,497.45 L189.5,497.45 L190.0,497.44 L190.5,497.44 L191.0,497.44 L191.5,497.44 L192.0,497.45 L192.5,497.46 L193.0,497.48 L193.5,497.50 L194.0,497.52 L194.5,497.55 L195.0,497.57 L195.5,497.60 L196.0,497.62 L196.5,497.63 L197.0,497.63 L197.5,497.63 L198.0,497.62 L198.5,497.61 L199.0,497.58 L199.5,497.56 L200.0,497.53 L200.5,497.49 L201.0,497.46 L201.5,497.44 L202.0,497.42 L202.5,497.41 L203.0,497.40 L203.5,497.41 L204.0,497.42 L204.5,497.44 L205.0,497.47 L205.5,497.50 L206.0,497.54 L206.5,497.58 L207.0,497.61 L207.5,497.64 L208.0,497.66 L208.5,497.68 L209.0,497.69 L209.5,497.69 L210.0,497.69 L210.5,497.68 L211.0,497.67 L211.5,497.65 L212.0,497.63 L212.5,497.62 L213.0,497.60 L213.5,497.59 L214.0,497.58 L214.5,497.58 L215.0,497.58 L215.5,497.58 L216.0,497.59 L216.5,497.59 L217.0,497.59 L217.5,497.59 L218.0,497.59 L218.5,497.57 L219.0,497.56 L219.5,497.53 L220.0,497.50 L220.5,497.47 L221.0,497.43 L221.5,497.39 L222.0,497.36 L222.5,497.32 L223.0,497.30 L223.5,497.28 L224.0,497.27 L224.5,497.26 L225.0,497.27 L225.5,497.29 L226.0,497.31 L226.5,497.34 L227.0,497.38 L227.5,497.42 L228.0,497.45 L228.5,497.48 L229.0,497.51 L229.5,497.53 L230.0,497.54 L230.5,497.55 L231.0,497.54 L231.5,497.53 L232.0,497.52 L232.5,497.50 L233.0,497.48 L233.5,497.46 L234.0,497.44 L234.5,497.42 L235.0,497.41 L235.5,497.41 L236.0,497.41 L236.5,497.41 L237.0,497.42 L237.5,497.43 L238.0,497.45 L238.5,497.46 L239.0,497.47 L239.5,497.48 L240.0,497.48 L240.5,497.48 L241.0,497.47 L241.5,497.46 L242.0,497.45 L242.5,497.43 L243.0,497.42 L243.5,497.40 L244.0,497.40 L244.5,497.39 L245.0,497.40 L245.5,497.41 L246.0,497.43 L246.5,497.46 L247.0,497.49 L247.5,497.53 L248.0,497.57 L248.5,497.61 L249.0,497.66 L249.5,497.69 L250.0,497.73 L250.5,497.75 L251.0,497.77 L251.5,497.77 L252.0,497.77 L252.5,497.75 L253.0,497.73 L253.5,497.71 L254.0,497.67 L254.5,497.64 L255.0,497.61 L255.5,497.58 L256.0,497.55 L256.5,497.53 L257.0,497.52 L257.5,497.51 L258.0,497.51 L258.5,497.51 L259.0,497.51 L259.5,497.52 L260.0,497.52 L260.5,497.53 L261.0,497.53 L261.5,497.53 L262.0,497.52 L262.5,497.51 L263.0,497.49 L263.5,497.47 L264.0,497.46 L264.5,497.44 L265.0,497.42 L265.5,497.40 L266.0,497.40 L266.5,497.39 L267.0,497.40 L267.5,497.41 L268.0,497.43 L268.5,497.45 L269.0,497.48 L269.5,497.50 L270.0,497.53 L270.5,497.56 L271.0,497.58 L271.5,497.59 L272.0,497.60 L272.5,497.59 L273.0,497.58 L273.5,497.56 L274.0,497.53 L274.5,497.50 L275.0,497.46 L275.5,497.42 L276.0,497.38 L276.5,497.35 L277.0,497.32 L277.5,497.29 L278.0,497.28 L278.5,497.27 L279.0,497.28 L279.5,497.28 L280.0,497.30 L280.5,497.32 L281.0,497.34 L281.5,497.37 L282.0,497.39 L282.5,497.41 L283.0,497.43 L283.5,497.44 L284.0,497.45 L284.5,497.45 L285.0,497.46 L285.5,497.45 L286.0,497.45 L286.5,497.45 L287.0,497.46 L287.5,497.46 L288.0,497.47 L288.5,497.49 L289.0,497.51"/>
<path d="M103.0,518.71 L103.5,518.69 L104.0,518.67 L104.5,518.65 L105.0,518.63 L105.5,518.61 L106.0,518.59 L106.5,518.57 L107.0,518.55 L107.5,518.53 L108.0,518.51 L108.5,518.49 L109.0,518.46 L109.5,518.43 L110.0,518.39 L110.5,518.35 L111.0,518.30 L111.5,518.24 L112.0,518.17 L112.5,518.09 L113.0,518.00 L113.5,517.90 L114.0,517.79 L114.5,517.67 L115.0,517.54 L115.5,517.40 L116.0,517.25 L116.5,517.08 L117.0,516.90 L117.5,516.71 L118.0,516.51 L118.5,516.29 L119.0,516.06 L119.5,515.82 L120.0,515.57 L120.5,515.31 L121.0,515.04 L121.5,514.77 L122.0,514.51 L122.5,514.25 L123.0,514.00 L123.5,513.77 L124.0,513.56 L124.5,513.38 L125.0,513.23 L125.5,513.12 L126.0,513.05 L126.5,513.02 L127.0,513.04 L127.5,513.10 L128.0,513.21 L128.5,513.36 L129.0,513.54 L129.5,513.76 L130.0,514.01 L130.5,514.28 L131.0,514.57 L131.5,514.86 L132.0,515.17 L132.5,515.47 L133.0,515.76 L133.5,516.05 L134.0,516.32 L134.5,516.57 L135.0,516.81 L135.5,517.03 L136.0,517.22 L136.5,517.40 L137.0,517.56 L137.5,517.71 L138.0,517.84 L138.5,517.95 L139.0,518.05 L139.5,518.14 L140.0,518.21 L140.5,518.27 L141.0,518.33 L141.5,518.37 L142.0,518.40 L142.5,518.42 L143.0,518.43 L143.5,518.44 L144.0,518.43 L144.5,518.41 L145.0,518.39 L145.5,518.37 L146.0,518.34 L146.5,518.31 L147.0,518.28 L147.5,518.25 L148.0,518.22 L148.5,518.19 L149.0,518.17 L149.5,518.14 L150.0,518.12 L150.5,518.10 L151.0,518.08 L151.5,518.06 L152.0,518.05 L152.5,518.03 L153.0,518.00 L153.5,517.98 L154.0,517.95 L154.5,517.91 L155.0,517.88 L155.5,517.84 L156.0,517.79 L156.5,517.74 L157.0,517.70 L157.5,517.65 L158.0,517.60 L158.5,517.56 L159.0,517.51 L159.5,517.47 L160.0,517.44 L160.5,517.41 L161.0,517.38 L161.5,517.36 L162.0,517.34 L162.5,517.32 L163.0,517.31 L163.5,517.29 L164.0,517.27 L164.5,517.25 L165.0,517.23 L165.5,517.20 L166.0,517.18 L166.5,517.15 L167.0,517.12 L167.5,517.10 L168.0,517.07 L168.5,517.05 L169.0,517.04 L169.5,517.03 L170.0,517.03 L170.5,517.03 L171.0,517.04 L171.5,517.06 L172.0,517.07 L172.5,517.10 L173.0,517.12 L173.5,517.14 L174.0,517.16 L174.5,517.17 L175.0,517.18 L175.5,517.17 L176.0,517.17 L176.5,517.15 L177.0,517.12 L177.5,517.09 L178.0,517.06 L178.5,517.02 L179.0,516.98 L179.5,516.95 L180.0,516.91 L180.5,516.89 L181.0,516.87 L181.5,516.85 L182.0,516.84 L182.5,516.84 L183.0,516.85 L183.5,516.85 L184.0,516.86 L184.5,516.87 L185.0,516.88 L185.5,516.89 L186.0,516.89 L186.5,516.89 L187.0,516.88 L187.5,516.88 L188.0,516.87 L188.5,516.86 L189.0,516.85 L189.5,516.84 L190.0,516.84 L190.5,516.84 L191.0,516.85 L191.5,516.87 L192.0,516.89 L192.5,516.92 L193.0,516.95 L193.5,516.98 L194.0,517.02 L194.5,517.05 L195.0,517.08 L195.5,517.11 L196.0,517.13 L196.5,517.14 L197.0,517.13 L197.5,517.13 L198.0,517.11 L198.5,517.09 L199.0,517.06 L199.5,517.02 L200.0,516.99 L200.5,516.96 L201.0,516.94 L201.5,516.92 L202.0,516.91 L202.5,516.90 L203.0,516.90 L203.5,516.92 L204.0,516.93 L204.5,516.96 L205.0,516.98 L205.5,517.01 L206.0,517.04 L206.5,517.06 L207.0,517.08 L207.5,517.10 L208.0,517.11 L208.5,517.11 L209.0,517.11 L209.5,517.11 L210.0,517.10 L210.5,517.10 L211.0,517.09 L211.5,517.09 L212.0,517.09 L212.5,517.09 L213.0,517.10 L213.5,517.11 L214.0,517.13 L214.5,517.14 L215.0,517.16 L215.5,517.18 L216.0,517.19 L216.5,517.20 L217.0,517.20 L217.5,517.20 L218.0,517.19 L218.5,517.16 L219.0,517.13 L219.5,517.10 L220.0,517.06 L220.5,517.01 L221.0,516.97 L221.5,516.92 L222.0,516.88 L222.5,516.85 L223.0,516.82 L223.5,516.81 L224.0,516.80 L224.5,516.80 L225.0,516.81 L225.5,516.83 L226.0,516.85 L226.5,516.88 L227.0,516.91 L227.5,516.93 L228.0,516.95 L228.5,516.97 L229.0,516.98 L229.5,516.99 L230.0,516.99 L230.5,516.98 L231.0,516.98 L231.5,516.96 L232.0,516.95 L232.5,516.94 L233.0,516.93 L233.5,516.92 L234.0,516.92 L234.5,516.92 L235.0,516.93 L235.5,516.94 L236.0,516.95 L236.5,516.97 L237.0,516.99 L237.5,517.00 L238.0,517.01 L238.5,517.01 L239.0,517.01 L239.5,517.00 L240.0,516.99 L240.5,516.97 L241.0,516.94 L241.5,516.92 L242.0,516.89 L242.5,516.86 L243.0,516.84 L243.5,516.82 L244.0,516.81 L244.5,516.81 L245.0,516.82 L245.5,516.84 L246.0,516.87 L246.5,516.90 L247.0,516.94 L247.5,516.99 L248.0,517.03 L248.5,517.08 L249.0,517.11 L249.5,517.15 L250.0,517.18 L250.5,517.19 L251.0,517.20 L251.5,517.21 L252.0,517.20 L252.5,517.19 L253.0,517.18 L253.5,517.16 L254.0,517.14 L254.5,517.13 L255.0,517.11 L255.5,517.10 L256.0,517.10 L256.5,517.10 L257.0,517.10 L257.5,517.11 L258.0,517.11 L258.5,517.12 L259.0,517.12 L259.5,517.12 L260.0,517.12 L260.5,517.11 L261.0,517.09 L261.5,517.07 L262.0,517.05 L262.5,517.02 L263.0,516.99 L263.5,516.96 L264.0,516.93 L264.5,516.91 L265.0,516.89 L265.5,516.88 L266.0,516.88 L266.5,516.88 L267.0,516.90 L267.5,516.92 L268.0,516.95 L268.5,516.98 L269.0,517.01 L269.5,517.04 L270.0,517.07 L270.5,517.09 L271.0,517.11 L271.5,517.12 L272.0,517.12 L272.5,517.11 L273.0,517.09 L273.5,517.06 L274.0,517.03 L274.5,517.00 L275.0,516.97 L275.5,516.93 L276.0,516.91 L276.5,516.88 L277.0,516.86 L277.5,516.85 L278.0,516.84 L278.5,516.84 L279.0,516.85 L279.5,516.86 L280.0,516.87 L280.5,516.88 L281.0,516.88 L281.5,516.89 L282.0,516.89 L282.5,516.89 L283.0,516.88 L283.5,516.87 L284.0,516.86 L284.5,516.85 L285.0,516.84 L285.5,516.83 L286.0,516.83 L286.5,516.83 L287.0,516.84 L287.5,516.86 L288.0,516.89 L288.5,516.92 L289.0,516.96"/>
<path d="M103.0,538.27 L103.5,538.26 L104.0,538.26 L104.5,538.25 L105.0,538.25 L105.5,538.25 L106.0,538.25 L106.5,538.25 L107.0,538.25 L107.5,538.25 L108.0,538.25 L108.5,538.25 L109.0,538.25 L109.5,538.24 L110.0,538.23 L110.5,538.22 L111.0,538.20 L111.5,538.18 L112.0,538.15 L112.5,538.11 L113.0,538.07 L113.5,538.03 L114.0,537.98 L114.5,537.93 L115.0,537.88 L115.5,537.82 L116.0,537.77 L116.5,537.71 L117.0,537.65 L117.5,537.59 L118.0,537.52 L118.5,537.45 L119.0,537.37 L119.5,537.29 L120.0,537.19 L120.5,537.08 L121.0,536.96 L121.5,536.82 L122.0,536.66 L122.5,536.49 L123.0,536.30 L123.5,536.10 L124.0,535.89 L124.5,535.66 L125.0,535.43 L125.5,535.19 L126.0,534.96 L126.5,534.74 L127.0,534.53 L127.5,534.34 L128.0,534.18 L128.5,534.05 L129.0,533.94 L129.5,533.88 L130.0,533.85 L130.5,533.86 L131.0,533.90 L131.5,533.98 L132.0,534.09 L132.5,534.23 L133.0,534.40 L133.5,534.58 L134.0,534.78 L134.5,534.99 L135.0,535.21 L135.5,535.42 L136.0,535.64 L136.5,535.85 L137.0,536.05 L137.5,536.24 L138.0,536.41 L138.5,536.58 L139.0,536.73 L139.5,536.87 L140.0,536.99 L140.5,537.10 L141.0,537.19 L141.5,537.28 L142.0,537.34 L142.5,537.40 L143.0,537.44 L143.5,537.48 L144.0,537.50 L144.5,537.51 L145.0,537.51 L145.5,537.51 L146.0,537.50 L146.5,537.48 L147.0,537.47 L147.5,537.45 L148.0,537.43 L148.5,537.41 L149.0,537.39 L149.5,537.37 L150.0,537.36 L150.5,537.34 L151.0,537.33 L151.5,537.31 L152.0,537.30 L152.5,537.28 L153.0,537.26 L153.5,537.24 L154.0,537.22 L154.5,537.19 L155.0,537.16 L155.5,537.13 L156.0,537.10 L156.5,537.07 L157.0,537.04 L157.5,537.01 L158.0,536.98 L158.5,536.96 L159.0,536.94 L159.5,536.93 L160.0,536.92 L160.5,536.92 L161.0,536.93 L161.5,536.94 L162.0,536.95 L162.5,536.96 L163.0,536.98 L163.5,537.00 L164.0,537.01 L164.5,537.02 L165.0,537.02 L165.5,537.02 L166.0,537.01 L166.5,537.00 L167.0,536.98 L167.5,536.97 L168.0,536.94 L168.5,536.92 L169.0,536.90 L169.5,536.89 L170.0,536.87 L170.5,536.86 L171.0,536.86 L171.5,536.85 L172.0,536.86 L172.5,536.86 L173.0,536.87 L173.5,536.88 L174.0,536.88 L174.5,536.89 L175.0,536.89 L175.5,536.88 L176.0,536.87 L176.5,536.86 L177.0,536.85 L177.5,536.83 L178.0,536.81 L178.5,536.80 L179.0,536.78 L179.5,536.77 L180.0,536.77 L180.5,536.77 L181.0,536.78 L181.5,536.79 L182.0,536.81 L182.5,536.84 L183.0,536.87 L183.5,536.90 L184.0,536.93 L184.5,536.95 L185.0,536.97 L185.5,536.98 L186.0,536.98 L186.5,536.97 L187.0,536.96 L187.5,536.94 L188.0,536.90 L188.5,536.87 L189.0,536.83 L189.5,536.79 L190.0,536.75 L190.5,536.71 L191.0,536.68 L191.5,536.65 L192.0,536.64 L192.5,536.63 L193.0,536.62 L193.5,536.62 L194.0,536.63 L194.5,536.64 L195.0,536.65 L195.5,536.67 L196.0,536.68 L196.5,536.68 L197.0,536.69 L197.5,536.69 L198.0,536.68 L198.5,536.68 L199.0,536.67 L199.5,536.66 L200.0,536.65 L200.5,536.65 L201.0,536.65 L201.5,536.65 L202.0,536.67 L202.5,536.69 L203.0,536.71 L203.5,536.74 L204.0,536.77 L204.5,536.81 L205.0,536.84 L205.5,536.87 L206.0,536.90 L206.5,536.92 L207.0,536.93 L207.5,536.94 L208.0,536.93 L208.5,536.92 L209.0,536.89 L209.5,536.87 L210.0,536.84 L210.5,536.80 L211.0,536.77 L211.5,536.74 L212.0,536.72 L212.5,536.70 L213.0,536.70 L213.5,536.70 L214.0,536.71 L214.5,536.72 L215.0,536.74 L215.5,536.77 L216.0,536.80 L216.5,536.83 L217.0,536.85 L217.5,536.88 L218.0,536.90 L218.5,536.91 L219.0,536.92 L219.5,536.93 L220.0,536.92 L220.5,536.92 L221.0,536.91 L221.5,536.91 L222.0,536.90 L222.5,536.90 L223.0,536.89 L223.5,536.90 L224.0,536.91 L224.5,536.92 L225.0,536.93 L225.5,536.95 L226.0,536.97 L226.5,536.98 L227.0,536.99 L227.5,536.99 L228.0,536.99 L228.5,536.98 L229.0,536.96 L229.5,536.94 L230.0,536.90 L230.5,536.87 L231.0,536.82 L231.5,536.78 L232.0,536.73 L232.5,536.69 L233.0,536.66 L233.5,536.63 L234.0,536.61 L234.5,536.60 L235.0,536.60 L235.5,536.60 L236.0,536.62 L236.5,536.64 L237.0,536.67 L237.5,536.69 L238.0,536.72 L238.5,536.75 L239.0,536.77 L239.5,536.79 L240.0,536.80 L240.5,536.80 L241.0,536.80 L241.5,536.79 L242.0,536.78 L242.5,536.76 L243.0,536.75 L243.5,536.74 L244.0,536.73 L244.5,536.72 L245.0,536.72 L245.5,536.72 L246.0,536.73 L246.5,536.74 L247.0,536.76 L247.5,536.77 L248.0,536.78 L248.5,536.79 L249.0,536.80 L249.5,536.80 L250.0,536.80 L250.5,536.79 L251.0,536.77 L251.5,536.75 L252.0,536.73 L252.5,536.70 L253.0,536.67 L253.5,536.65 L254.0,536.63 L254.5,536.62 L255.0,536.62 L255.5,536.62 L256.0,536.64 L256.5,536.66 L257.0,536.70 L257.5,536.73 L258.0,536.78 L258.5,536.82 L259.0,536.87 L259.5,536.91 L260.0,536.94 L260.5,536.97 L261.0,537.00 L261.5,537.01 L262.0,537.02 L262.5,537.01 L263.0,537.01 L263.5,536.99 L264.0,536.97 L264.5,536.95 L265.0,536.94 L265.5,536.92 L266.0,536.90 L266.5,536.90 L267.0,536.89 L267.5,536.89 L268.0,536.89 L268.5,536.90 L269.0,536.90 L269.5,536.91 L270.0,536.91 L270.5,536.91 L271.0,536.90 L271.5,536.89 L272.0,536.88 L272.5,536.85 L273.0,536.83 L273.5,536.80 L274.0,536.77 L274.5,536.74 L275.0,536.72 L275.5,536.70 L276.0,536.69 L276.5,536.68 L277.0,536.68 L277.5,536.69 L278.0,536.71 L278.5,536.74 L279.0,536.77 L279.5,536.80 L280.0,536.83 L280.5,536.86 L281.0,536.89 L281.5,536.91 L282.0,536.92 L282.5,536.92 L283.0,536.91 L283.5,536.90 L284.0,536.87 L284.5,536.85 L285.0,536.81 L285.5,536.78 L286.0,536.74 L286.5,536.71 L287.0,536.68 L287.5,536.66 L288.0,536.64 L288.5,536.64 L289.0,536.63"/>
</g>
<rect x="101.5" y="186.4" width="188.8" height="357.6" fill="none" stroke="#000" stroke-width="1"/>
<g stroke="#000" stroke-width="0.9">
<line x1="103.54" y1="544.0" x2="103.54" y2="546.8"/><line x1="107.55" y1="544.0" x2="107.55" y2="547.6"/><line x1="111.56" y1="544.0" x2="111.56" y2="546.8"/><line x1="115.57" y1="544.0" x2="115.57" y2="546.8"/><line x1="119.58" y1="544.0" x2="119.58" y2="546.8"/><line x1="123.59" y1="544.0" x2="123.59" y2="546.8"/><line x1="127.60" y1="544.0" x2="127.60" y2="549.4"/><line x1="131.61" y1="544.0" x2="131.61" y2="546.8"/><line x1="135.62" y1="544.0" x2="135.62" y2="546.8"/><line x1="139.63" y1="544.0" x2="139.63" y2="546.8"/><line x1="143.64" y1="544.0" x2="143.64" y2="546.8"/><line x1="147.65" y1="544.0" x2="147.65" y2="547.6"/><line x1="151.66" y1="544.0" x2="151.66" y2="546.8"/><line x1="155.67" y1="544.0" x2="155.67" y2="546.8"/><line x1="159.68" y1="544.0" x2="159.68" y2="546.8"/><line x1="163.69" y1="544.0" x2="163.69" y2="546.8"/><line x1="167.70" y1="544.0" x2="167.70" y2="549.4"/><line x1="171.71" y1="544.0" x2="171.71" y2="546.8"/><line x1="175.72" y1="544.0" x2="175.72" y2="546.8"/><line x1="179.73" y1="544.0" x2="179.73" y2="546.8"/><line x1="183.74" y1="544.0" x2="183.74" y2="546.8"/><line x1="187.75" y1="544.0" x2="187.75" y2="547.6"/><line x1="191.76" y1="544.0" x2="191.76" y2="546.8"/><line x1="195.77" y1="544.0" x2="195.77" y2="546.8"/><line x1="199.78" y1="544.0" x2="199.78" y2="546.8"/><line x1="203.79" y1="544.0" x2="203.79" y2="546.8"/><line x1="207.80" y1="544.0" x2="207.80" y2="549.4"/><line x1="211.81" y1="544.0" x2="211.81" y2="546.8"/><line x1="215.82" y1="544.0" x2="215.82" y2="546.8"/><line x1="219.83" y1="544.0" x2="219.83" y2="546.8"/><line x1="223.84" y1="544.0" x2="223.84" y2="546.8"/><line x1="227.85" y1="544.0" x2="227.85" y2="547.6"/><line x1="231.86" y1="544.0" x2="231.86" y2="546.8"/><line x1="235.87" y1="544.0" x2="235.87" y2="546.8"/><line x1="239.88" y1="544.0" x2="239.88" y2="546.8"/><line x1="243.89" y1="544.0" x2="243.89" y2="546.8"/><line x1="247.90" y1="544.0" x2="247.90" y2="549.4"/><line x1="251.91" y1="544.0" x2="251.91" y2="546.8"/><line x1="255.92" y1="544.0" x2="255.92" y2="546.8"/><line x1="259.93" y1="544.0" x2="259.93" y2="546.8"/><line x1="263.94" y1="544.0" x2="263.94" y2="546.8"/><line x1="267.95" y1="544.0" x2="267.95" y2="547.6"/><line x1="271.96" y1="544.0" x2="271.96" y2="546.8"/><line x1="275.97" y1="544.0" x2="275.97" y2="546.8"/><line x1="279.98" y1="544.0" x2="279.98" y2="546.8"/><line x1="283.99" y1="544.0" x2="283.99" y2="546.8"/><line x1="288.00" y1="544.0" x2="288.00" y2="549.4"/><line x1="96.1" y1="536.30" x2="101.5" y2="536.30"/><line x1="96.1" y1="442.30" x2="101.5" y2="442.30"/><line x1="96.1" y1="348.30" x2="101.5" y2="348.30"/><line x1="96.1" y1="254.30" x2="101.5" y2="254.30"/>
</g>
<g font-size="17.2px">
<text x="127.6" y="568.2" text-anchor="middle">0</text><text x="167.7" y="568.2" text-anchor="middle">1</text><text x="207.8" y="568.2" text-anchor="middle">2</text><text x="247.9" y="568.2" text-anchor="middle">3</text><text x="288.0" y="568.2" text-anchor="middle">4</text><text x="93.3" y="541.9" text-anchor="end">0</text><text x="93.3" y="447.9" text-anchor="end">2</text><text x="93.3" y="353.9" text-anchor="end">4</text><text x="93.3" y="259.9" text-anchor="end">6</text></g>
<g font-size="15px">
<text x="285.2" y="215.2" text-anchor="end">8 K</text><text x="287.6" y="239.25" text-anchor="end">20 K</text><text x="287.6" y="262.6" text-anchor="end">40 K</text><text x="287.6" y="286.0" text-anchor="end">60 K</text><text x="287.6" y="309.7" text-anchor="end">80 K</text><text x="290.0" y="331.9" text-anchor="end">100 K</text><text x="288.9" y="356.0" text-anchor="end">110 K</text><text x="288.9" y="376.9" text-anchor="end">120 K</text><text x="288.9" y="400.5" text-anchor="end">130 K</text><text x="288.2" y="425.0" text-anchor="end">140 K</text><text x="288.2" y="446.5" text-anchor="end">150 K</text><text x="287.6" y="469.7" text-anchor="end">160 K</text><text x="287.6" y="491.3" text-anchor="end">170 K</text><text x="286.7" y="511.6" text-anchor="end">180 K</text><text x="286.7" y="532.9" text-anchor="end">200 K</text>
</g>
<text x="238.3" y="202.2" font-size="18px">(a)</text>
<text x="196" y="584.7" font-size="17.3px" text-anchor="middle">Time delay (ps)</text>
<text transform="translate(78.7,365.7) rotate(-90)" font-size="18.8px" text-anchor="middle">ΔR/R (x10<tspan dy="-10.3" font-size="13.5px">-3</tspan><tspan dy="10.3"> )</tspan></text>
<line x1="161.3" y1="195.3" x2="161.3" y2="205.3" stroke="#000" stroke-width="0.9"/><path d="M156.9,204.5 L165.70000000000002,204.5 L161.3,212.20000000000002 Z" fill="#000"/>
<line x1="195.8" y1="196.0" x2="195.8" y2="206.0" stroke="#000" stroke-width="0.9"/><path d="M191.4,205.2 L200.20000000000002,205.2 L195.8,212.9 Z" fill="#000"/>
<clipPath id="rc"><rect x="357.7" y="186.7" width="130" height="358.1"/></clipPath>
<g clip-path="url(#rc)">
<g fill="none" stroke="#0000ff" stroke-width="0.6">
<circle cx="361.0" cy="244.70" r="2.8"/><circle cx="362.9" cy="244.78" r="2.3"/><circle cx="364.8" cy="244.85" r="2.3"/><circle cx="366.7" cy="245.01" r="2.3"/><circle cx="368.6" cy="244.54" r="2.3"/><circle cx="370.5" cy="244.09" r="2.3"/><circle cx="372.4" cy="243.99" r="2.3"/><circle cx="374.3" cy="243.30" r="2.3"/><circle cx="376.2" cy="242.25" r="2.3"/><circle cx="378.1" cy="241.12" r="2.3"/><circle cx="380.0" cy="240.33" r="2.3"/><circle cx="381.9" cy="238.54" r="2.3"/><circle cx="383.8" cy="238.15" r="2.3"/><circle cx="385.7" cy="236.76" r="2.3"/><circle cx="387.6" cy="234.69" r="2.3"/><circle cx="389.5" cy="233.33" r="2.3"/><circle cx="391.4" cy="231.07" r="2.3"/><circle cx="393.3" cy="229.35" r="2.3"/><circle cx="395.2" cy="226.45" r="2.3"/><circle cx="397.1" cy="224.56" r="2.3"/><circle cx="399.0" cy="222.89" r="2.3"/><circle cx="400.9" cy="221.00" r="2.3"/><circle cx="402.8" cy="218.18" r="2.3"/><circle cx="404.7" cy="216.53" r="2.3"/><circle cx="406.6" cy="214.53" r="2.3"/><circle cx="408.5" cy="211.93" r="2.3"/><circle cx="410.4" cy="210.04" r="2.3"/><circle cx="412.3" cy="206.95" r="2.3"/><circle cx="414.2" cy="205.16" r="2.3"/><circle cx="416.1" cy="203.01" r="2.3"/><circle cx="418.0" cy="202.33" r="2.3"/><circle cx="419.9" cy="201.23" r="2.3"/><circle cx="421.8" cy="200.95" r="2.3"/><circle cx="423.7" cy="200.97" r="2.3"/><circle cx="425.6" cy="202.69" r="2.3"/><circle cx="427.5" cy="203.85" r="2.3"/><circle cx="429.4" cy="205.75" r="2.3"/><circle cx="431.3" cy="208.23" r="2.3"/><circle cx="433.2" cy="210.86" r="2.3"/><circle cx="435.1" cy="213.75" r="2.3"/><circle cx="437.0" cy="217.02" r="2.3"/><circle cx="438.9" cy="220.32" r="2.3"/><circle cx="440.8" cy="224.01" r="2.3"/><circle cx="442.7" cy="226.17" r="2.3"/><circle cx="444.6" cy="228.92" r="2.3"/><circle cx="446.5" cy="231.18" r="2.3"/><circle cx="448.4" cy="233.23" r="2.3"/><circle cx="450.3" cy="235.03" r="2.3"/><circle cx="452.2" cy="236.18" r="2.3"/><circle cx="454.1" cy="237.61" r="2.3"/><circle cx="456.0" cy="239.53" r="2.3"/><circle cx="457.9" cy="241.25" r="2.3"/><circle cx="459.8" cy="242.41" r="2.3"/><circle cx="461.7" cy="243.34" r="2.3"/><circle cx="463.6" cy="244.05" r="2.3"/><circle cx="465.5" cy="244.84" r="2.3"/><circle cx="467.4" cy="245.18" r="2.3"/><circle cx="469.3" cy="245.84" r="2.3"/><circle cx="471.2" cy="245.81" r="2.3"/><circle cx="473.1" cy="246.45" r="2.3"/><circle cx="475.0" cy="246.82" r="2.3"/><circle cx="476.9" cy="247.38" r="2.3"/><circle cx="478.8" cy="247.61" r="2.3"/><circle cx="480.7" cy="248.38" r="2.3"/><circle cx="482.6" cy="248.17" r="2.3"/><circle cx="361.0" cy="266.52" r="2.8"/><circle cx="362.9" cy="267.03" r="2.3"/><circle cx="364.8" cy="267.75" r="2.3"/><circle cx="366.7" cy="267.04" r="2.3"/><circle cx="368.6" cy="267.68" r="2.3"/><circle cx="370.5" cy="267.21" r="2.3"/><circle cx="372.4" cy="265.97" r="2.3"/><circle cx="374.3" cy="265.25" r="2.3"/><circle cx="376.2" cy="264.41" r="2.3"/><circle cx="378.1" cy="263.65" r="2.3"/><circle cx="380.0" cy="262.74" r="2.3"/><circle cx="381.9" cy="261.89" r="2.3"/><circle cx="383.8" cy="259.90" r="2.3"/><circle cx="385.7" cy="258.47" r="2.3"/><circle cx="387.6" cy="256.40" r="2.3"/><circle cx="389.5" cy="254.72" r="2.3"/><circle cx="391.4" cy="252.32" r="2.3"/><circle cx="393.3" cy="250.40" r="2.3"/><circle cx="395.2" cy="247.85" r="2.3"/><circle cx="397.1" cy="246.29" r="2.3"/><circle cx="399.0" cy="244.43" r="2.3"/><circle cx="400.9" cy="243.29" r="2.3"/><circle cx="402.8" cy="241.22" r="2.3"/><circle cx="404.7" cy="238.90" r="2.3"/><circle cx="406.6" cy="236.57" r="2.3"/><circle cx="408.5" cy="234.38" r="2.3"/><circle cx="410.4" cy="231.66" r="2.3"/><circle cx="412.3" cy="229.34" r="2.3"/><circle cx="414.2" cy="227.74" r="2.3"/><circle cx="416.1" cy="226.67" r="2.3"/><circle cx="418.0" cy="224.86" r="2.3"/><circle cx="419.9" cy="224.07" r="2.3"/><circle cx="421.8" cy="223.65" r="2.3"/><circle cx="423.7" cy="223.82" r="2.3"/><circle cx="425.6" cy="225.04" r="2.3"/><circle cx="427.5" cy="226.51" r="2.3"/><circle cx="429.4" cy="228.36" r="2.3"/><circle cx="431.3" cy="231.13" r="2.3"/><circle cx="433.2" cy="234.26" r="2.3"/><circle cx="435.1" cy="237.73" r="2.3"/><circle cx="437.0" cy="240.82" r="2.3"/><circle cx="438.9" cy="244.43" r="2.3"/><circle cx="440.8" cy="247.60" r="2.3"/><circle cx="442.7" cy="250.05" r="2.3"/><circle cx="444.6" cy="252.44" r="2.3"/><circle cx="446.5" cy="254.41" r="2.3"/><circle cx="448.4" cy="256.39" r="2.3"/><circle cx="450.3" cy="258.43" r="2.3"/><circle cx="452.2" cy="259.74" r="2.3"/><circle cx="454.1" cy="261.29" r="2.3"/><circle cx="456.0" cy="262.83" r="2.3"/><circle cx="457.9" cy="263.86" r="2.3"/><circle cx="459.8" cy="264.96" r="2.3"/><circle cx="461.7" cy="264.66" r="2.3"/><circle cx="463.6" cy="265.93" r="2.3"/><circle cx="465.5" cy="266.09" r="2.3"/><circle cx="467.4" cy="266.78" r="2.3"/><circle cx="469.3" cy="267.56" r="2.3"/><circle cx="471.2" cy="268.27" r="2.3"/><circle cx="473.1" cy="268.91" r="2.3"/><circle cx="475.0" cy="269.25" r="2.3"/><circle cx="476.9" cy="270.03" r="2.3"/><circle cx="478.8" cy="269.80" r="2.3"/><circle cx="480.7" cy="269.95" r="2.3"/><circle cx="482.6" cy="270.22" r="2.3"/><circle cx="361.0" cy="288.98" r="2.8"/><circle cx="362.9" cy="289.64" r="2.3"/><circle cx="364.8" cy="289.40" r="2.3"/><circle cx="366.7" cy="289.31" r="2.3"/><circle cx="368.6" cy="289.32" r="2.3"/><circle cx="370.5" cy="289.12" r="2.3"/><circle cx="372.4" cy="288.17" r="2.3"/><circle cx="374.3" cy="287.50" r="2.3"/><circle cx="376.2" cy="286.25" r="2.3"/><circle cx="378.1" cy="285.33" r="2.3"/><circle cx="380.0" cy="283.31" r="2.3"/><circle cx="381.9" cy="282.23" r="2.3"/><circle cx="383.8" cy="280.25" r="2.3"/><circle cx="385.7" cy="278.53" r="2.3"/><circle cx="387.6" cy="276.87" r="2.3"/><circle cx="389.5" cy="274.91" r="2.3"/><circle cx="391.4" cy="273.32" r="2.3"/><circle cx="393.3" cy="271.57" r="2.3"/><circle cx="395.2" cy="269.39" r="2.3"/><circle cx="397.1" cy="267.59" r="2.3"/><circle cx="399.0" cy="265.99" r="2.3"/><circle cx="400.9" cy="263.84" r="2.3"/><circle cx="402.8" cy="261.99" r="2.3"/><circle cx="404.7" cy="259.98" r="2.3"/><circle cx="406.6" cy="257.64" r="2.3"/><circle cx="408.5" cy="256.15" r="2.3"/><circle cx="410.4" cy="253.44" r="2.3"/><circle cx="412.3" cy="252.11" r="2.3"/><circle cx="414.2" cy="250.32" r="2.3"/><circle cx="416.1" cy="249.43" r="2.3"/><circle cx="418.0" cy="248.52" r="2.3"/><circle cx="419.9" cy="248.34" r="2.3"/><circle cx="421.8" cy="249.28" r="2.3"/><circle cx="423.7" cy="250.29" r="2.3"/><circle cx="425.6" cy="252.14" r="2.3"/><circle cx="427.5" cy="254.40" r="2.3"/><circle cx="429.4" cy="256.89" r="2.3"/><circle cx="431.3" cy="259.65" r="2.3"/><circle cx="433.2" cy="262.42" r="2.3"/><circle cx="435.1" cy="265.59" r="2.3"/><circle cx="437.0" cy="268.10" r="2.3"/><circle cx="438.9" cy="271.50" r="2.3"/><circle cx="440.8" cy="273.93" r="2.3"/><circle cx="442.7" cy="276.93" r="2.3"/><circle cx="444.6" cy="279.05" r="2.3"/><circle cx="446.5" cy="279.99" r="2.3"/><circle cx="448.4" cy="281.95" r="2.3"/><circle cx="450.3" cy="283.10" r="2.3"/><circle cx="452.2" cy="283.94" r="2.3"/><circle cx="454.1" cy="285.32" r="2.3"/><circle cx="456.0" cy="286.02" r="2.3"/><circle cx="457.9" cy="286.58" r="2.3"/><circle cx="459.8" cy="287.75" r="2.3"/><circle cx="461.7" cy="288.43" r="2.3"/><circle cx="463.6" cy="288.99" r="2.3"/><circle cx="465.5" cy="289.01" r="2.3"/><circle cx="467.4" cy="289.76" r="2.3"/><circle cx="469.3" cy="290.07" r="2.3"/><circle cx="471.2" cy="289.94" r="2.3"/><circle cx="473.1" cy="290.49" r="2.3"/><circle cx="475.0" cy="291.13" r="2.3"/><circle cx="476.9" cy="291.51" r="2.3"/><circle cx="478.8" cy="292.52" r="2.3"/><circle cx="480.7" cy="292.43" r="2.3"/><circle cx="482.6" cy="292.25" r="2.3"/><circle cx="361.0" cy="308.40" r="2.8"/><circle cx="362.9" cy="307.86" r="2.3"/><circle cx="364.8" cy="307.76" r="2.3"/><circle cx="366.7" cy="307.30" r="2.3"/><circle cx="368.6" cy="306.58" r="2.3"/><circle cx="370.5" cy="306.58" r="2.3"/><circle cx="372.4" cy="305.27" r="2.3"/><circle cx="374.3" cy="304.91" r="2.3"/><circle cx="376.2" cy="303.94" r="2.3"/><circle cx="378.1" cy="303.04" r="2.3"/><circle cx="380.0" cy="301.38" r="2.3"/><circle cx="381.9" cy="300.74" r="2.3"/><circle cx="383.8" cy="298.83" r="2.3"/><circle cx="385.7" cy="297.45" r="2.3"/><circle cx="387.6" cy="295.88" r="2.3"/><circle cx="389.5" cy="294.70" r="2.3"/><circle cx="391.4" cy="293.85" r="2.3"/><circle cx="393.3" cy="292.74" r="2.3"/><circle cx="395.2" cy="291.34" r="2.3"/><circle cx="397.1" cy="289.90" r="2.3"/><circle cx="399.0" cy="288.01" r="2.3"/><circle cx="400.9" cy="285.92" r="2.3"/><circle cx="402.8" cy="284.18" r="2.3"/><circle cx="404.7" cy="282.27" r="2.3"/><circle cx="406.6" cy="280.48" r="2.3"/><circle cx="408.5" cy="279.37" r="2.3"/><circle cx="410.4" cy="278.54" r="2.3"/><circle cx="412.3" cy="277.66" r="2.3"/><circle cx="414.2" cy="277.24" r="2.3"/><circle cx="416.1" cy="277.61" r="2.3"/><circle cx="418.0" cy="278.40" r="2.3"/><circle cx="419.9" cy="278.82" r="2.3"/><circle cx="421.8" cy="280.28" r="2.3"/><circle cx="423.7" cy="282.16" r="2.3"/><circle cx="425.6" cy="284.75" r="2.3"/><circle cx="427.5" cy="286.46" r="2.3"/><circle cx="429.4" cy="289.54" r="2.3"/><circle cx="431.3" cy="292.17" r="2.3"/><circle cx="433.2" cy="293.86" r="2.3"/><circle cx="435.1" cy="296.36" r="2.3"/><circle cx="437.0" cy="297.79" r="2.3"/><circle cx="438.9" cy="299.01" r="2.3"/><circle cx="440.8" cy="300.58" r="2.3"/><circle cx="442.7" cy="301.48" r="2.3"/><circle cx="444.6" cy="303.01" r="2.3"/><circle cx="446.5" cy="304.81" r="2.3"/><circle cx="448.4" cy="305.19" r="2.3"/><circle cx="450.3" cy="306.75" r="2.3"/><circle cx="452.2" cy="306.94" r="2.3"/><circle cx="454.1" cy="307.70" r="2.3"/><circle cx="456.0" cy="307.87" r="2.3"/><circle cx="457.9" cy="307.68" r="2.3"/><circle cx="459.8" cy="308.53" r="2.3"/><circle cx="461.7" cy="309.24" r="2.3"/><circle cx="463.6" cy="309.48" r="2.3"/><circle cx="465.5" cy="310.01" r="2.3"/><circle cx="467.4" cy="310.93" r="2.3"/><circle cx="469.3" cy="311.02" r="2.3"/><circle cx="471.2" cy="310.95" r="2.3"/><circle cx="473.1" cy="311.26" r="2.3"/><circle cx="475.0" cy="311.63" r="2.3"/><circle cx="476.9" cy="311.29" r="2.3"/><circle cx="478.8" cy="311.70" r="2.3"/><circle cx="480.7" cy="311.98" r="2.3"/><circle cx="482.6" cy="311.79" r="2.3"/><circle cx="361.0" cy="328.82" r="2.8"/><circle cx="362.9" cy="329.23" r="2.3"/><circle cx="364.8" cy="329.15" r="2.3"/><circle cx="366.7" cy="329.01" r="2.3"/><circle cx="368.6" cy="328.56" r="2.3"/><circle cx="370.5" cy="328.50" r="2.3"/><circle cx="372.4" cy="327.95" r="2.3"/><circle cx="374.3" cy="327.44" r="2.3"/><circle cx="376.2" cy="326.43" r="2.3"/><circle cx="378.1" cy="325.41" r="2.3"/><circle cx="380.0" cy="324.62" r="2.3"/><circle cx="381.9" cy="323.38" r="2.3"/><circle cx="383.8" cy="322.41" r="2.3"/><circle cx="385.7" cy="321.92" r="2.3"/><circle cx="387.6" cy="320.93" r="2.3"/><circle cx="389.5" cy="320.94" r="2.3"/><circle cx="391.4" cy="319.67" r="2.3"/><circle cx="393.3" cy="318.39" r="2.3"/><circle cx="395.2" cy="317.71" r="2.3"/><circle cx="397.1" cy="316.47" r="2.3"/><circle cx="399.0" cy="315.03" r="2.3"/><circle cx="400.9" cy="314.36" r="2.3"/><circle cx="402.8" cy="312.92" r="2.3"/><circle cx="404.7" cy="311.58" r="2.3"/><circle cx="406.6" cy="311.99" r="2.3"/><circle cx="408.5" cy="311.29" r="2.3"/><circle cx="410.4" cy="311.64" r="2.3"/><circle cx="412.3" cy="311.10" r="2.3"/><circle cx="414.2" cy="311.14" r="2.3"/><circle cx="416.1" cy="312.21" r="2.3"/><circle cx="418.0" cy="312.20" r="2.3"/><circle cx="419.9" cy="313.45" r="2.3"/><circle cx="421.8" cy="314.97" r="2.3"/><circle cx="423.7" cy="316.06" r="2.3"/><circle cx="425.6" cy="317.54" r="2.3"/><circle cx="427.5" cy="319.11" r="2.3"/><circle cx="429.4" cy="320.72" r="2.3"/><circle cx="431.3" cy="321.59" r="2.3"/><circle cx="433.2" cy="323.09" r="2.3"/><circle cx="435.1" cy="324.13" r="2.3"/><circle cx="437.0" cy="325.58" r="2.3"/><circle cx="438.9" cy="325.94" r="2.3"/><circle cx="440.8" cy="326.84" r="2.3"/><circle cx="442.7" cy="328.26" r="2.3"/><circle cx="444.6" cy="328.89" r="2.3"/><circle cx="446.5" cy="329.78" r="2.3"/><circle cx="448.4" cy="330.24" r="2.3"/><circle cx="450.3" cy="330.79" r="2.3"/><circle cx="452.2" cy="330.45" r="2.3"/><circle cx="454.1" cy="330.65" r="2.3"/><circle cx="456.0" cy="330.10" r="2.3"/><circle cx="457.9" cy="330.67" r="2.3"/><circle cx="459.8" cy="331.52" r="2.3"/><circle cx="461.7" cy="331.27" r="2.3"/><circle cx="463.6" cy="331.57" r="2.3"/><circle cx="465.5" cy="331.69" r="2.3"/><circle cx="467.4" cy="332.30" r="2.3"/><circle cx="469.3" cy="332.28" r="2.3"/><circle cx="471.2" cy="331.98" r="2.3"/><circle cx="473.1" cy="332.51" r="2.3"/><circle cx="475.0" cy="332.57" r="2.3"/><circle cx="476.9" cy="332.94" r="2.3"/><circle cx="478.8" cy="332.90" r="2.3"/><circle cx="480.7" cy="333.80" r="2.3"/><circle cx="482.6" cy="333.70" r="2.3"/><circle cx="361.0" cy="348.78" r="2.8"/><circle cx="362.9" cy="348.51" r="2.3"/><circle cx="364.8" cy="349.26" r="2.3"/><circle cx="366.7" cy="350.08" r="2.3"/><circle cx="368.6" cy="349.46" r="2.3"/><circle cx="370.5" cy="349.20" r="2.3"/><circle cx="372.4" cy="348.64" r="2.3"/><circle cx="374.3" cy="347.97" r="2.3"/><circle cx="376.2" cy="346.98" r="2.3"/><circle cx="378.1" cy="346.89" r="2.3"/><circle cx="380.0" cy="346.26" r="2.3"/><circle cx="381.9" cy="345.30" r="2.3"/><circle cx="383.8" cy="344.61" r="2.3"/><circle cx="385.7" cy="343.64" r="2.3"/><circle cx="387.6" cy="343.07" r="2.3"/><circle cx="389.5" cy="342.43" r="2.3"/><circle cx="391.4" cy="342.55" r="2.3"/><circle cx="393.3" cy="341.76" r="2.3"/><circle cx="395.2" cy="340.98" r="2.3"/><circle cx="397.1" cy="340.03" r="2.3"/><circle cx="399.0" cy="339.47" r="2.3"/><circle cx="400.9" cy="338.99" r="2.3"/><circle cx="402.8" cy="337.95" r="2.3"/><circle cx="404.7" cy="337.05" r="2.3"/><circle cx="406.6" cy="337.24" r="2.3"/><circle cx="408.5" cy="337.16" r="2.3"/><circle cx="410.4" cy="337.20" r="2.3"/><circle cx="412.3" cy="337.48" r="2.3"/><circle cx="414.2" cy="338.02" r="2.3"/><circle cx="416.1" cy="338.39" r="2.3"/><circle cx="418.0" cy="339.05" r="2.3"/><circle cx="419.9" cy="339.38" r="2.3"/><circle cx="421.8" cy="340.81" r="2.3"/><circle cx="423.7" cy="341.50" r="2.3"/><circle cx="425.6" cy="343.09" r="2.3"/><circle cx="427.5" cy="343.28" r="2.3"/><circle cx="429.4" cy="345.15" r="2.3"/><circle cx="431.3" cy="346.29" r="2.3"/><circle cx="433.2" cy="346.87" r="2.3"/><circle cx="435.1" cy="347.81" r="2.3"/><circle cx="437.0" cy="348.49" r="2.3"/><circle cx="438.9" cy="348.98" r="2.3"/><circle cx="440.8" cy="349.21" r="2.3"/><circle cx="442.7" cy="349.84" r="2.3"/><circle cx="444.6" cy="350.66" r="2.3"/><circle cx="446.5" cy="351.23" r="2.3"/><circle cx="448.4" cy="351.35" r="2.3"/><circle cx="450.3" cy="351.64" r="2.3"/><circle cx="452.2" cy="351.83" r="2.3"/><circle cx="454.1" cy="352.10" r="2.3"/><circle cx="456.0" cy="351.61" r="2.3"/><circle cx="457.9" cy="351.62" r="2.3"/><circle cx="459.8" cy="352.17" r="2.3"/><circle cx="461.7" cy="352.17" r="2.3"/><circle cx="463.6" cy="352.69" r="2.3"/><circle cx="465.5" cy="353.26" r="2.3"/><circle cx="467.4" cy="353.69" r="2.3"/><circle cx="469.3" cy="353.51" r="2.3"/><circle cx="471.2" cy="354.05" r="2.3"/><circle cx="473.1" cy="353.37" r="2.3"/><circle cx="475.0" cy="353.86" r="2.3"/><circle cx="476.9" cy="353.27" r="2.3"/><circle cx="478.8" cy="353.35" r="2.3"/><circle cx="480.7" cy="353.92" r="2.3"/><circle cx="482.6" cy="353.77" r="2.3"/><circle cx="361.0" cy="372.09" r="2.8"/><circle cx="362.9" cy="372.09" r="2.3"/><circle cx="364.8" cy="372.23" r="2.3"/><circle cx="366.7" cy="372.42" r="2.3"/><circle cx="368.6" cy="371.93" r="2.3"/><circle cx="370.5" cy="371.88" r="2.3"/><circle cx="372.4" cy="371.63" r="2.3"/><circle cx="374.3" cy="371.65" r="2.3"/><circle cx="376.2" cy="371.02" r="2.3"/><circle cx="378.1" cy="370.39" r="2.3"/><circle cx="380.0" cy="369.32" r="2.3"/><circle cx="381.9" cy="368.57" r="2.3"/><circle cx="383.8" cy="368.16" r="2.3"/><circle cx="385.7" cy="367.23" r="2.3"/><circle cx="387.6" cy="366.91" r="2.3"/><circle cx="389.5" cy="366.18" r="2.3"/><circle cx="391.4" cy="365.02" r="2.3"/><circle cx="393.3" cy="364.25" r="2.3"/><circle cx="395.2" cy="363.26" r="2.3"/><circle cx="397.1" cy="362.77" r="2.3"/><circle cx="399.0" cy="362.15" r="2.3"/><circle cx="400.9" cy="360.86" r="2.3"/><circle cx="402.8" cy="360.51" r="2.3"/><circle cx="404.7" cy="359.78" r="2.3"/><circle cx="406.6" cy="360.42" r="2.3"/><circle cx="408.5" cy="360.51" r="2.3"/><circle cx="410.4" cy="360.45" r="2.3"/><circle cx="412.3" cy="361.19" r="2.3"/><circle cx="414.2" cy="360.97" r="2.3"/><circle cx="416.1" cy="361.81" r="2.3"/><circle cx="418.0" cy="362.55" r="2.3"/><circle cx="419.9" cy="363.03" r="2.3"/><circle cx="421.8" cy="364.50" r="2.3"/><circle cx="423.7" cy="365.54" r="2.3"/><circle cx="425.6" cy="365.88" r="2.3"/><circle cx="427.5" cy="366.73" r="2.3"/><circle cx="429.4" cy="367.95" r="2.3"/><circle cx="431.3" cy="368.42" r="2.3"/><circle cx="433.2" cy="368.73" r="2.3"/><circle cx="435.1" cy="369.61" r="2.3"/><circle cx="437.0" cy="370.41" r="2.3"/><circle cx="438.9" cy="371.25" r="2.3"/><circle cx="440.8" cy="372.40" r="2.3"/><circle cx="442.7" cy="373.17" r="2.3"/><circle cx="444.6" cy="374.29" r="2.3"/><circle cx="446.5" cy="374.79" r="2.3"/><circle cx="448.4" cy="375.04" r="2.3"/><circle cx="450.3" cy="375.42" r="2.3"/><circle cx="452.2" cy="375.70" r="2.3"/><circle cx="454.1" cy="375.75" r="2.3"/><circle cx="456.0" cy="375.52" r="2.3"/><circle cx="457.9" cy="376.34" r="2.3"/><circle cx="459.8" cy="376.44" r="2.3"/><circle cx="461.7" cy="377.06" r="2.3"/><circle cx="463.6" cy="376.80" r="2.3"/><circle cx="465.5" cy="376.90" r="2.3"/><circle cx="467.4" cy="376.74" r="2.3"/><circle cx="469.3" cy="376.94" r="2.3"/><circle cx="471.2" cy="376.47" r="2.3"/><circle cx="473.1" cy="376.38" r="2.3"/><circle cx="475.0" cy="376.69" r="2.3"/><circle cx="476.9" cy="376.78" r="2.3"/><circle cx="478.8" cy="377.26" r="2.3"/><circle cx="480.7" cy="377.53" r="2.3"/><circle cx="482.6" cy="377.82" r="2.3"/><circle cx="361.0" cy="392.75" r="2.8"/><circle cx="362.9" cy="393.22" r="2.3"/><circle cx="364.8" cy="393.78" r="2.3"/><circle cx="366.7" cy="393.21" r="2.3"/><circle cx="368.6" cy="393.07" r="2.3"/><circle cx="370.5" cy="392.86" r="2.3"/><circle cx="372.4" cy="392.58" r="2.3"/><circle cx="374.3" cy="392.02" r="2.3"/><circle cx="376.2" cy="391.56" r="2.3"/><circle cx="378.1" cy="391.18" r="2.3"/><circle cx="380.0" cy="391.27" r="2.3"/><circle cx="381.9" cy="391.22" r="2.3"/><circle cx="383.8" cy="390.57" r="2.3"/><circle cx="385.7" cy="390.09" r="2.3"/><circle cx="387.6" cy="389.64" r="2.3"/><circle cx="389.5" cy="388.78" r="2.3"/><circle cx="391.4" cy="388.49" r="2.3"/><circle cx="393.3" cy="388.20" r="2.3"/><circle cx="395.2" cy="388.18" r="2.3"/><circle cx="397.1" cy="388.06" r="2.3"/><circle cx="399.0" cy="387.80" r="2.3"/><circle cx="400.9" cy="388.41" r="2.3"/><circle cx="402.8" cy="388.52" r="2.3"/><circle cx="404.7" cy="387.94" r="2.3"/><circle cx="406.6" cy="387.99" r="2.3"/><circle cx="408.5" cy="387.89" r="2.3"/><circle cx="410.4" cy="388.05" r="2.3"/><circle cx="412.3" cy="387.65" r="2.3"/><circle cx="414.2" cy="388.73" r="2.3"/><circle cx="416.1" cy="388.59" r="2.3"/><circle cx="418.0" cy="389.43" r="2.3"/><circle cx="419.9" cy="389.48" r="2.3"/><circle cx="421.8" cy="389.62" r="2.3"/><circle cx="423.7" cy="389.87" r="2.3"/><circle cx="425.6" cy="390.30" r="2.3"/><circle cx="427.5" cy="390.10" r="2.3"/><circle cx="429.4" cy="390.59" r="2.3"/><circle cx="431.3" cy="391.09" r="2.3"/><circle cx="433.2" cy="391.43" r="2.3"/><circle cx="435.1" cy="392.90" r="2.3"/><circle cx="437.0" cy="393.41" r="2.3"/><circle cx="438.9" cy="393.84" r="2.3"/><circle cx="440.8" cy="394.57" r="2.3"/><circle cx="442.7" cy="394.33" r="2.3"/><circle cx="444.6" cy="394.77" r="2.3"/><circle cx="446.5" cy="395.41" r="2.3"/><circle cx="448.4" cy="395.45" r="2.3"/><circle cx="450.3" cy="394.92" r="2.3"/><circle cx="452.2" cy="394.93" r="2.3"/><circle cx="454.1" cy="395.74" r="2.3"/><circle cx="456.0" cy="396.40" r="2.3"/><circle cx="457.9" cy="396.02" r="2.3"/><circle cx="459.8" cy="395.98" r="2.3"/><circle cx="461.7" cy="396.02" r="2.3"/><circle cx="463.6" cy="395.51" r="2.3"/><circle cx="465.5" cy="395.75" r="2.3"/><circle cx="467.4" cy="396.00" r="2.3"/><circle cx="469.3" cy="396.15" r="2.3"/><circle cx="471.2" cy="396.44" r="2.3"/><circle cx="473.1" cy="396.48" r="2.3"/><circle cx="475.0" cy="396.98" r="2.3"/><circle cx="476.9" cy="396.86" r="2.3"/><circle cx="478.8" cy="397.31" r="2.3"/><circle cx="480.7" cy="397.60" r="2.3"/><circle cx="482.6" cy="396.76" r="2.3"/><circle cx="361.0" cy="410.74" r="2.8"/><circle cx="362.9" cy="411.11" r="2.3"/><circle cx="364.8" cy="411.58" r="2.3"/><circle cx="366.7" cy="411.49" r="2.3"/><circle cx="368.6" cy="410.80" r="2.3"/><circle cx="370.5" cy="410.44" r="2.3"/><circle cx="372.4" cy="410.54" r="2.3"/><circle cx="374.3" cy="409.52" r="2.3"/><circle cx="376.2" cy="409.68" r="2.3"/><circle cx="378.1" cy="409.03" r="2.3"/><circle cx="380.0" cy="408.99" r="2.3"/><circle cx="381.9" cy="408.65" r="2.3"/><circle cx="383.8" cy="408.26" r="2.3"/><circle cx="385.7" cy="407.74" r="2.3"/><circle cx="387.6" cy="406.63" r="2.3"/><circle cx="389.5" cy="406.22" r="2.3"/><circle cx="391.4" cy="405.42" r="2.3"/><circle cx="393.3" cy="404.85" r="2.3"/><circle cx="395.2" cy="404.59" r="2.3"/><circle cx="397.1" cy="403.87" r="2.3"/><circle cx="399.0" cy="403.55" r="2.3"/><circle cx="400.9" cy="403.41" r="2.3"/><circle cx="402.8" cy="403.41" r="2.3"/><circle cx="404.7" cy="403.56" r="2.3"/><circle cx="406.6" cy="403.07" r="2.3"/><circle cx="408.5" cy="403.52" r="2.3"/><circle cx="410.4" cy="403.39" r="2.3"/><circle cx="412.3" cy="403.52" r="2.3"/><circle cx="414.2" cy="403.68" r="2.3"/><circle cx="416.1" cy="404.65" r="2.3"/><circle cx="418.0" cy="405.40" r="2.3"/><circle cx="419.9" cy="405.40" r="2.3"/><circle cx="421.8" cy="406.66" r="2.3"/><circle cx="423.7" cy="407.19" r="2.3"/><circle cx="425.6" cy="407.19" r="2.3"/><circle cx="427.5" cy="407.55" r="2.3"/><circle cx="429.4" cy="408.42" r="2.3"/><circle cx="431.3" cy="408.63" r="2.3"/><circle cx="433.2" cy="408.75" r="2.3"/><circle cx="435.1" cy="409.72" r="2.3"/><circle cx="437.0" cy="410.46" r="2.3"/><circle cx="438.9" cy="411.17" r="2.3"/><circle cx="440.8" cy="411.21" r="2.3"/><circle cx="442.7" cy="412.46" r="2.3"/><circle cx="444.6" cy="412.48" r="2.3"/><circle cx="446.5" cy="413.01" r="2.3"/><circle cx="448.4" cy="413.29" r="2.3"/><circle cx="450.3" cy="413.96" r="2.3"/><circle cx="452.2" cy="414.11" r="2.3"/><circle cx="454.1" cy="414.42" r="2.3"/><circle cx="456.0" cy="415.09" r="2.3"/><circle cx="457.9" cy="415.50" r="2.3"/><circle cx="459.8" cy="415.11" r="2.3"/><circle cx="461.7" cy="415.44" r="2.3"/><circle cx="463.6" cy="415.02" r="2.3"/><circle cx="465.5" cy="414.71" r="2.3"/><circle cx="467.4" cy="415.21" r="2.3"/><circle cx="469.3" cy="414.73" r="2.3"/><circle cx="471.2" cy="415.39" r="2.3"/><circle cx="473.1" cy="415.26" r="2.3"/><circle cx="475.0" cy="415.71" r="2.3"/><circle cx="476.9" cy="415.44" r="2.3"/><circle cx="478.8" cy="415.59" r="2.3"/><circle cx="480.7" cy="416.08" r="2.3"/><circle cx="482.6" cy="415.88" r="2.3"/><circle cx="361.0" cy="431.17" r="2.8"/><circle cx="362.9" cy="431.01" r="2.3"/><circle cx="364.8" cy="431.29" r="2.3"/><circle cx="366.7" cy="431.39" r="2.3"/><circle cx="368.6" cy="430.98" r="2.3"/><circle cx="370.5" cy="430.67" r="2.3"/><circle cx="372.4" cy="430.41" r="2.3"/><circle cx="374.3" cy="429.97" r="2.3"/><circle cx="376.2" cy="429.59" r="2.3"/><circle cx="378.1" cy="429.83" r="2.3"/><circle cx="380.0" cy="429.57" r="2.3"/><circle cx="381.9" cy="429.60" r="2.3"/><circle cx="383.8" cy="429.27" r="2.3"/><circle cx="385.7" cy="429.06" r="2.3"/><circle cx="387.6" cy="428.62" r="2.3"/><circle cx="389.5" cy="428.55" r="2.3"/><circle cx="391.4" cy="427.68" r="2.3"/><circle cx="393.3" cy="427.60" r="2.3"/><circle cx="395.2" cy="427.53" r="2.3"/><circle cx="397.1" cy="427.43" r="2.3"/><circle cx="399.0" cy="427.06" r="2.3"/><circle cx="400.9" cy="426.47" r="2.3"/><circle cx="402.8" cy="426.70" r="2.3"/><circle cx="404.7" cy="426.25" r="2.3"/><circle cx="406.6" cy="426.51" r="2.3"/><circle cx="408.5" cy="426.14" r="2.3"/><circle cx="410.4" cy="426.31" r="2.3"/><circle cx="412.3" cy="426.82" r="2.3"/><circle cx="414.2" cy="426.68" r="2.3"/><circle cx="416.1" cy="427.50" r="2.3"/><circle cx="418.0" cy="427.56" r="2.3"/><circle cx="419.9" cy="428.10" r="2.3"/><circle cx="421.8" cy="429.14" r="2.3"/><circle cx="423.7" cy="429.76" r="2.3"/><circle cx="425.6" cy="429.60" r="2.3"/><circle cx="427.5" cy="430.07" r="2.3"/><circle cx="429.4" cy="429.97" r="2.3"/><circle cx="431.3" cy="430.60" r="2.3"/><circle cx="433.2" cy="431.28" r="2.3"/><circle cx="435.1" cy="431.52" r="2.3"/><circle cx="437.0" cy="431.93" r="2.3"/><circle cx="438.9" cy="432.20" r="2.3"/><circle cx="440.8" cy="433.02" r="2.3"/><circle cx="442.7" cy="433.36" r="2.3"/><circle cx="444.6" cy="433.43" r="2.3"/><circle cx="446.5" cy="433.41" r="2.3"/><circle cx="448.4" cy="433.12" r="2.3"/><circle cx="450.3" cy="434.07" r="2.3"/><circle cx="452.2" cy="433.92" r="2.3"/><circle cx="454.1" cy="434.30" r="2.3"/><circle cx="456.0" cy="434.96" r="2.3"/><circle cx="457.9" cy="434.62" r="2.3"/><circle cx="459.8" cy="435.41" r="2.3"/><circle cx="461.7" cy="435.53" r="2.3"/><circle cx="463.6" cy="435.67" r="2.3"/><circle cx="465.5" cy="435.88" r="2.3"/><circle cx="467.4" cy="435.64" r="2.3"/><circle cx="469.3" cy="435.10" r="2.3"/><circle cx="471.2" cy="435.58" r="2.3"/><circle cx="473.1" cy="435.87" r="2.3"/><circle cx="475.0" cy="435.98" r="2.3"/><circle cx="476.9" cy="435.68" r="2.3"/><circle cx="478.8" cy="435.52" r="2.3"/><circle cx="480.7" cy="435.93" r="2.3"/><circle cx="482.6" cy="435.71" r="2.3"/><circle cx="361.0" cy="455.25" r="2.8"/><circle cx="362.9" cy="454.34" r="2.3"/><circle cx="364.8" cy="455.03" r="2.3"/><circle cx="366.7" cy="455.31" r="2.3"/><circle cx="368.6" cy="454.39" r="2.3"/><circle cx="370.5" cy="454.18" r="2.3"/><circle cx="372.4" cy="453.62" r="2.3"/><circle cx="374.3" cy="454.16" r="2.3"/><circle cx="376.2" cy="453.49" r="2.3"/><circle cx="378.1" cy="453.87" r="2.3"/><circle cx="380.0" cy="453.78" r="2.3"/><circle cx="381.9" cy="453.30" r="2.3"/><circle cx="383.8" cy="453.47" r="2.3"/><circle cx="385.7" cy="452.49" r="2.3"/><circle cx="387.6" cy="452.24" r="2.3"/><circle cx="389.5" cy="452.00" r="2.3"/><circle cx="391.4" cy="451.59" r="2.3"/><circle cx="393.3" cy="451.57" r="2.3"/><circle cx="395.2" cy="451.50" r="2.3"/><circle cx="397.1" cy="451.01" r="2.3"/><circle cx="399.0" cy="450.70" r="2.3"/><circle cx="400.9" cy="450.39" r="2.3"/><circle cx="402.8" cy="450.08" r="2.3"/><circle cx="404.7" cy="450.06" r="2.3"/><circle cx="406.6" cy="449.59" r="2.3"/><circle cx="408.5" cy="449.72" r="2.3"/><circle cx="410.4" cy="449.78" r="2.3"/><circle cx="412.3" cy="449.94" r="2.3"/><circle cx="414.2" cy="450.82" r="2.3"/><circle cx="416.1" cy="450.81" r="2.3"/><circle cx="418.0" cy="451.48" r="2.3"/><circle cx="419.9" cy="452.17" r="2.3"/><circle cx="421.8" cy="451.76" r="2.3"/><circle cx="423.7" cy="452.22" r="2.3"/><circle cx="425.6" cy="452.08" r="2.3"/><circle cx="427.5" cy="452.67" r="2.3"/><circle cx="429.4" cy="452.83" r="2.3"/><circle cx="431.3" cy="453.57" r="2.3"/><circle cx="433.2" cy="454.00" r="2.3"/><circle cx="435.1" cy="454.57" r="2.3"/><circle cx="437.0" cy="455.26" r="2.3"/><circle cx="438.9" cy="455.16" r="2.3"/><circle cx="440.8" cy="455.43" r="2.3"/><circle cx="442.7" cy="455.45" r="2.3"/><circle cx="444.6" cy="455.66" r="2.3"/><circle cx="446.5" cy="455.88" r="2.3"/><circle cx="448.4" cy="456.10" r="2.3"/><circle cx="450.3" cy="457.05" r="2.3"/><circle cx="452.2" cy="457.89" r="2.3"/><circle cx="454.1" cy="457.95" r="2.3"/><circle cx="456.0" cy="457.89" r="2.3"/><circle cx="457.9" cy="458.51" r="2.3"/><circle cx="459.8" cy="458.00" r="2.3"/><circle cx="461.7" cy="457.95" r="2.3"/><circle cx="463.6" cy="457.85" r="2.3"/><circle cx="465.5" cy="458.03" r="2.3"/><circle cx="467.4" cy="458.37" r="2.3"/><circle cx="469.3" cy="459.08" r="2.3"/><circle cx="471.2" cy="458.61" r="2.3"/><circle cx="473.1" cy="458.37" r="2.3"/><circle cx="475.0" cy="458.35" r="2.3"/><circle cx="476.9" cy="458.26" r="2.3"/><circle cx="478.8" cy="457.73" r="2.3"/><circle cx="480.7" cy="458.13" r="2.3"/><circle cx="482.6" cy="458.36" r="2.3"/><circle cx="361.0" cy="477.13" r="2.8"/><circle cx="362.9" cy="477.21" r="2.3"/><circle cx="364.8" cy="478.04" r="2.3"/><circle cx="366.7" cy="477.82" r="2.3"/><circle cx="368.6" cy="477.04" r="2.3"/><circle cx="370.5" cy="477.37" r="2.3"/><circle cx="372.4" cy="477.16" r="2.3"/><circle cx="374.3" cy="477.02" r="2.3"/><circle cx="376.2" cy="476.53" r="2.3"/><circle cx="378.1" cy="475.82" r="2.3"/><circle cx="380.0" cy="475.41" r="2.3"/><circle cx="381.9" cy="474.84" r="2.3"/><circle cx="383.8" cy="474.34" r="2.3"/><circle cx="385.7" cy="473.59" r="2.3"/><circle cx="387.6" cy="473.15" r="2.3"/><circle cx="389.5" cy="473.63" r="2.3"/><circle cx="391.4" cy="473.36" r="2.3"/><circle cx="393.3" cy="473.71" r="2.3"/><circle cx="395.2" cy="473.61" r="2.3"/><circle cx="397.1" cy="473.18" r="2.3"/><circle cx="399.0" cy="472.68" r="2.3"/><circle cx="400.9" cy="472.48" r="2.3"/><circle cx="402.8" cy="472.54" r="2.3"/><circle cx="404.7" cy="471.97" r="2.3"/><circle cx="406.6" cy="472.38" r="2.3"/><circle cx="408.5" cy="472.38" r="2.3"/><circle cx="410.4" cy="472.30" r="2.3"/><circle cx="412.3" cy="472.58" r="2.3"/><circle cx="414.2" cy="471.97" r="2.3"/><circle cx="416.1" cy="472.31" r="2.3"/><circle cx="418.0" cy="471.84" r="2.3"/><circle cx="419.9" cy="472.01" r="2.3"/><circle cx="421.8" cy="472.24" r="2.3"/><circle cx="423.7" cy="473.09" r="2.3"/><circle cx="425.6" cy="473.34" r="2.3"/><circle cx="427.5" cy="474.21" r="2.3"/><circle cx="429.4" cy="474.50" r="2.3"/><circle cx="431.3" cy="475.55" r="2.3"/><circle cx="433.2" cy="476.16" r="2.3"/><circle cx="435.1" cy="476.14" r="2.3"/><circle cx="437.0" cy="476.89" r="2.3"/><circle cx="438.9" cy="477.09" r="2.3"/><circle cx="440.8" cy="478.02" r="2.3"/><circle cx="442.7" cy="478.06" r="2.3"/><circle cx="444.6" cy="478.16" r="2.3"/><circle cx="446.5" cy="479.32" r="2.3"/><circle cx="448.4" cy="479.16" r="2.3"/><circle cx="450.3" cy="479.00" r="2.3"/><circle cx="452.2" cy="479.05" r="2.3"/><circle cx="454.1" cy="478.72" r="2.3"/><circle cx="456.0" cy="479.05" r="2.3"/><circle cx="457.9" cy="478.90" r="2.3"/><circle cx="459.8" cy="479.74" r="2.3"/><circle cx="461.7" cy="479.83" r="2.3"/><circle cx="463.6" cy="479.56" r="2.3"/><circle cx="465.5" cy="479.87" r="2.3"/><circle cx="467.4" cy="480.29" r="2.3"/><circle cx="469.3" cy="480.03" r="2.3"/><circle cx="471.2" cy="480.51" r="2.3"/><circle cx="473.1" cy="480.55" r="2.3"/><circle cx="475.0" cy="480.44" r="2.3"/><circle cx="476.9" cy="480.66" r="2.3"/><circle cx="478.8" cy="481.14" r="2.3"/><circle cx="480.7" cy="481.60" r="2.3"/><circle cx="482.6" cy="481.77" r="2.3"/>
</g>
<g fill="none" stroke="#0000ff" stroke-width="0.72">
<circle cx="361.0" cy="497.51" r="2.8"/><circle cx="362.9" cy="497.95" r="2.4"/><circle cx="364.8" cy="498.11" r="2.4"/><circle cx="366.7" cy="498.25" r="2.4"/><circle cx="368.6" cy="498.13" r="2.4"/><circle cx="370.5" cy="498.20" r="2.4"/><circle cx="372.4" cy="498.30" r="2.4"/><circle cx="374.3" cy="498.33" r="2.4"/><circle cx="376.2" cy="498.09" r="2.4"/><circle cx="378.1" cy="498.02" r="2.4"/><circle cx="380.0" cy="497.91" r="2.4"/><circle cx="381.9" cy="497.75" r="2.4"/><circle cx="383.8" cy="497.53" r="2.4"/><circle cx="385.7" cy="497.51" r="2.4"/><circle cx="387.6" cy="497.44" r="2.4"/><circle cx="389.5" cy="497.55" r="2.4"/><circle cx="391.4" cy="497.46" r="2.4"/><circle cx="393.3" cy="497.27" r="2.4"/><circle cx="395.2" cy="497.13" r="2.4"/><circle cx="397.1" cy="497.22" r="2.4"/><circle cx="399.0" cy="497.21" r="2.4"/><circle cx="400.9" cy="497.07" r="2.4"/><circle cx="402.8" cy="497.11" r="2.4"/><circle cx="404.7" cy="497.03" r="2.4"/><circle cx="406.6" cy="497.03" r="2.4"/><circle cx="408.5" cy="497.26" r="2.4"/><circle cx="410.4" cy="497.25" r="2.4"/><circle cx="412.3" cy="497.30" r="2.4"/><circle cx="414.2" cy="497.09" r="2.4"/><circle cx="416.1" cy="497.15" r="2.4"/><circle cx="418.0" cy="497.03" r="2.4"/><circle cx="419.9" cy="497.12" r="2.4"/><circle cx="421.8" cy="497.04" r="2.4"/><circle cx="423.7" cy="497.13" r="2.4"/><circle cx="425.6" cy="497.25" r="2.4"/><circle cx="427.5" cy="497.53" r="2.4"/><circle cx="429.4" cy="497.55" r="2.4"/><circle cx="431.3" cy="497.57" r="2.4"/><circle cx="433.2" cy="497.60" r="2.4"/><circle cx="435.1" cy="497.66" r="2.4"/><circle cx="437.0" cy="497.93" r="2.4"/><circle cx="438.9" cy="497.77" r="2.4"/><circle cx="440.8" cy="498.00" r="2.4"/><circle cx="442.7" cy="498.29" r="2.4"/><circle cx="444.6" cy="498.50" r="2.4"/><circle cx="446.5" cy="498.53" r="2.4"/><circle cx="448.4" cy="498.68" r="2.4"/><circle cx="450.3" cy="498.69" r="2.4"/><circle cx="452.2" cy="498.67" r="2.4"/><circle cx="454.1" cy="498.55" r="2.4"/><circle cx="456.0" cy="498.64" r="2.4"/><circle cx="457.9" cy="498.53" r="2.4"/><circle cx="459.8" cy="498.68" r="2.4"/><circle cx="461.7" cy="498.54" r="2.4"/><circle cx="463.6" cy="498.78" r="2.4"/><circle cx="465.5" cy="498.66" r="2.4"/><circle cx="467.4" cy="498.67" r="2.4"/><circle cx="469.3" cy="498.82" r="2.4"/><circle cx="471.2" cy="498.70" r="2.4"/><circle cx="473.1" cy="498.81" r="2.4"/><circle cx="475.0" cy="498.73" r="2.4"/><circle cx="476.9" cy="499.03" r="2.4"/><circle cx="478.8" cy="499.03" r="2.4"/><circle cx="480.7" cy="499.06" r="2.4"/><circle cx="482.6" cy="499.27" r="2.4"/><circle cx="361.0" cy="519.39" r="2.8"/><circle cx="362.9" cy="519.88" r="2.4"/><circle cx="364.8" cy="520.11" r="2.4"/><circle cx="366.7" cy="520.08" r="2.4"/><circle cx="368.6" cy="520.07" r="2.4"/><circle cx="370.5" cy="520.17" r="2.4"/><circle cx="372.4" cy="519.98" r="2.4"/><circle cx="374.3" cy="519.81" r="2.4"/><circle cx="376.2" cy="519.95" r="2.4"/><circle cx="378.1" cy="519.89" r="2.4"/><circle cx="380.0" cy="520.12" r="2.4"/><circle cx="381.9" cy="520.04" r="2.4"/><circle cx="383.8" cy="520.02" r="2.4"/><circle cx="385.7" cy="520.06" r="2.4"/><circle cx="387.6" cy="520.20" r="2.4"/><circle cx="389.5" cy="520.04" r="2.4"/><circle cx="391.4" cy="519.95" r="2.4"/><circle cx="393.3" cy="519.85" r="2.4"/><circle cx="395.2" cy="519.73" r="2.4"/><circle cx="397.1" cy="519.61" r="2.4"/><circle cx="399.0" cy="519.55" r="2.4"/><circle cx="400.9" cy="519.63" r="2.4"/><circle cx="402.8" cy="519.68" r="2.4"/><circle cx="404.7" cy="519.43" r="2.4"/><circle cx="406.6" cy="519.77" r="2.4"/><circle cx="408.5" cy="519.56" r="2.4"/><circle cx="410.4" cy="519.62" r="2.4"/><circle cx="412.3" cy="519.44" r="2.4"/><circle cx="414.2" cy="519.53" r="2.4"/><circle cx="416.1" cy="519.58" r="2.4"/><circle cx="418.0" cy="519.69" r="2.4"/><circle cx="419.9" cy="519.89" r="2.4"/><circle cx="421.8" cy="520.02" r="2.4"/><circle cx="423.7" cy="520.00" r="2.4"/><circle cx="425.6" cy="520.14" r="2.4"/><circle cx="427.5" cy="520.22" r="2.4"/><circle cx="429.4" cy="520.19" r="2.4"/><circle cx="431.3" cy="520.07" r="2.4"/><circle cx="433.2" cy="520.06" r="2.4"/><circle cx="435.1" cy="520.10" r="2.4"/><circle cx="437.0" cy="520.09" r="2.4"/><circle cx="438.9" cy="520.16" r="2.4"/><circle cx="440.8" cy="520.49" r="2.4"/><circle cx="442.7" cy="520.41" r="2.4"/><circle cx="444.6" cy="520.49" r="2.4"/><circle cx="446.5" cy="520.44" r="2.4"/><circle cx="448.4" cy="520.61" r="2.4"/><circle cx="450.3" cy="520.67" r="2.4"/><circle cx="452.2" cy="520.58" r="2.4"/><circle cx="454.1" cy="520.76" r="2.4"/><circle cx="456.0" cy="520.80" r="2.4"/><circle cx="457.9" cy="521.15" r="2.4"/><circle cx="459.8" cy="521.20" r="2.4"/><circle cx="461.7" cy="521.12" r="2.4"/><circle cx="463.6" cy="521.29" r="2.4"/><circle cx="465.5" cy="521.17" r="2.4"/><circle cx="467.4" cy="521.11" r="2.4"/><circle cx="469.3" cy="521.05" r="2.4"/><circle cx="471.2" cy="520.95" r="2.4"/><circle cx="473.1" cy="520.98" r="2.4"/><circle cx="475.0" cy="521.13" r="2.4"/><circle cx="476.9" cy="521.13" r="2.4"/><circle cx="478.8" cy="521.09" r="2.4"/><circle cx="480.7" cy="521.33" r="2.4"/><circle cx="482.6" cy="521.13" r="2.4"/><circle cx="361.0" cy="540.27" r="2.8"/><circle cx="362.9" cy="540.62" r="2.4"/><circle cx="364.8" cy="540.76" r="2.4"/><circle cx="366.7" cy="540.71" r="2.4"/><circle cx="368.6" cy="540.45" r="2.4"/><circle cx="370.5" cy="540.53" r="2.4"/><circle cx="372.4" cy="540.57" r="2.4"/><circle cx="374.3" cy="540.69" r="2.4"/><circle cx="376.2" cy="540.82" r="2.4"/><circle cx="378.1" cy="540.69" r="2.4"/><circle cx="380.0" cy="541.14" r="2.4"/><circle cx="381.9" cy="540.81" r="2.4"/><circle cx="383.8" cy="540.88" r="2.4"/><circle cx="385.7" cy="540.88" r="2.4"/><circle cx="387.6" cy="540.86" r="2.4"/><circle cx="389.5" cy="540.82" r="2.4"/><circle cx="391.4" cy="540.60" r="2.4"/><circle cx="393.3" cy="540.79" r="2.4"/><circle cx="395.2" cy="540.95" r="2.4"/><circle cx="397.1" cy="540.79" r="2.4"/><circle cx="399.0" cy="540.70" r="2.4"/><circle cx="400.9" cy="540.49" r="2.4"/><circle cx="402.8" cy="540.66" r="2.4"/><circle cx="404.7" cy="540.52" r="2.4"/><circle cx="406.6" cy="540.37" r="2.4"/><circle cx="408.5" cy="540.46" r="2.4"/><circle cx="410.4" cy="540.54" r="2.4"/><circle cx="412.3" cy="540.56" r="2.4"/><circle cx="414.2" cy="540.72" r="2.4"/><circle cx="416.1" cy="540.82" r="2.4"/><circle cx="418.0" cy="540.87" r="2.4"/><circle cx="419.9" cy="540.93" r="2.4"/><circle cx="421.8" cy="540.83" r="2.4"/><circle cx="423.7" cy="540.81" r="2.4"/><circle cx="425.6" cy="540.93" r="2.4"/><circle cx="427.5" cy="540.92" r="2.4"/><circle cx="429.4" cy="540.96" r="2.4"/><circle cx="431.3" cy="541.22" r="2.4"/><circle cx="433.2" cy="541.13" r="2.4"/><circle cx="435.1" cy="541.14" r="2.4"/><circle cx="437.0" cy="541.11" r="2.4"/><circle cx="438.9" cy="540.89" r="2.4"/><circle cx="440.8" cy="540.96" r="2.4"/><circle cx="442.7" cy="540.92" r="2.4"/><circle cx="444.6" cy="540.91" r="2.4"/><circle cx="446.5" cy="541.03" r="2.4"/><circle cx="448.4" cy="541.05" r="2.4"/><circle cx="450.3" cy="541.03" r="2.4"/><circle cx="452.2" cy="541.26" r="2.4"/><circle cx="454.1" cy="541.24" r="2.4"/><circle cx="456.0" cy="541.39" r="2.4"/><circle cx="457.9" cy="541.33" r="2.4"/><circle cx="459.8" cy="541.28" r="2.4"/><circle cx="461.7" cy="541.37" r="2.4"/><circle cx="463.6" cy="541.55" r="2.4"/><circle cx="465.5" cy="541.62" r="2.4"/><circle cx="467.4" cy="541.63" r="2.4"/><circle cx="469.3" cy="541.66" r="2.4"/><circle cx="471.2" cy="541.58" r="2.4"/><circle cx="473.1" cy="541.52" r="2.4"/><circle cx="475.0" cy="541.47" r="2.4"/><circle cx="476.9" cy="541.33" r="2.4"/><circle cx="478.8" cy="541.31" r="2.4"/><circle cx="480.7" cy="541.20" r="2.4"/><circle cx="482.6" cy="541.21" r="2.4"/>
</g>
<g fill="none" stroke="#000" stroke-width="2.25" stroke-linejoin="round">
<path d="M360.7,244.70 L361.7,244.60 L362.7,244.49 L363.7,244.38 L364.7,244.25 L365.7,244.12 L366.7,243.98 L367.7,243.84 L368.7,243.68 L369.7,243.50 L370.7,243.32 L371.7,243.12 L372.7,242.91 L373.7,242.68 L374.7,242.43 L375.7,242.16 L376.7,241.87 L377.7,241.56 L378.7,241.23 L379.7,240.87 L380.7,240.48 L381.7,240.06 L382.7,239.61 L383.7,239.12 L384.7,238.60 L385.7,238.04 L386.7,237.44 L387.7,236.80 L388.7,236.11 L389.7,235.38 L390.7,234.60 L391.7,233.77 L392.7,232.90 L393.7,231.97 L394.7,230.98 L395.7,229.95 L396.7,228.86 L397.7,227.72 L398.7,226.53 L399.7,225.29 L400.7,223.99 L401.7,222.66 L402.7,221.28 L403.7,219.86 L404.7,218.41 L405.7,216.94 L406.7,215.45 L407.7,213.96 L408.7,212.47 L409.7,211.00 L410.7,209.56 L411.7,208.18 L412.7,206.86 L413.7,205.63 L414.7,204.52 L415.7,203.53 L416.7,202.69 L417.7,202.01 L418.7,201.51 L419.7,201.21 L420.7,201.10 L421.7,201.19 L422.7,201.49 L423.7,201.97 L424.7,202.64 L425.7,203.48 L426.7,204.47 L427.7,205.59 L428.7,206.82 L429.7,208.15 L430.7,209.54 L431.7,211.00 L432.7,212.49 L433.7,214.00 L434.7,215.53 L435.7,217.04 L436.7,218.55 L437.7,220.03 L438.7,221.48 L439.7,222.89 L440.7,224.27 L441.7,225.59 L442.7,226.87 L443.7,228.10 L444.7,229.28 L445.7,230.41 L446.7,231.48 L447.7,232.50 L448.7,233.46 L449.7,234.38 L450.7,235.24 L451.7,236.06 L452.7,236.83 L453.7,237.55 L454.7,238.23 L455.7,238.86 L456.7,239.45 L457.7,240.01 L458.7,240.53 L459.7,241.01 L460.7,241.47 L461.7,241.89 L462.7,242.28 L463.7,242.65 L464.7,242.99 L465.7,243.31 L466.7,243.61 L467.7,243.89 L468.7,244.15 L469.7,244.39 L470.7,244.62 L471.7,244.84 L472.7,245.04 L473.7,245.23 L474.7,245.40 L475.7,245.57 L476.7,245.73 L477.7,245.88 L478.7,246.02 L479.7,246.16 L480.7,246.29 L481.7,246.41 L482.7,246.53 L483.7,246.64" stroke-width="2.6"/>
<path d="M360.7,267.00 L361.7,266.89 L362.7,266.78 L363.7,266.66 L364.7,266.53 L365.7,266.39 L366.7,266.25 L367.7,266.09 L368.7,265.92 L369.7,265.74 L370.7,265.55 L371.7,265.34 L372.7,265.11 L373.7,264.87 L374.7,264.61 L375.7,264.33 L376.7,264.03 L377.7,263.71 L378.7,263.36 L379.7,262.98 L380.7,262.57 L381.7,262.13 L382.7,261.66 L383.7,261.16 L384.7,260.62 L385.7,260.04 L386.7,259.41 L387.7,258.75 L388.7,258.04 L389.7,257.29 L390.7,256.48 L391.7,255.63 L392.7,254.73 L393.7,253.78 L394.7,252.77 L395.7,251.71 L396.7,250.60 L397.7,249.44 L398.7,248.23 L399.7,246.97 L400.7,245.67 L401.7,244.32 L402.7,242.93 L403.7,241.51 L404.7,240.07 L405.7,238.60 L406.7,237.13 L407.7,235.66 L408.7,234.20 L409.7,232.77 L410.7,231.39 L411.7,230.07 L412.7,228.83 L413.7,227.70 L414.7,226.68 L415.7,225.80 L416.7,225.09 L417.7,224.54 L418.7,224.18 L419.7,224.01 L420.7,224.04 L421.7,224.27 L422.7,224.69 L423.7,225.29 L424.7,226.06 L425.7,226.99 L426.7,228.05 L427.7,229.23 L428.7,230.51 L429.7,231.86 L430.7,233.28 L431.7,234.73 L432.7,236.21 L433.7,237.71 L434.7,239.20 L435.7,240.68 L436.7,242.14 L437.7,243.58 L438.7,244.98 L439.7,246.34 L440.7,247.66 L441.7,248.93 L442.7,250.15 L443.7,251.32 L444.7,252.44 L445.7,253.51 L446.7,254.53 L447.7,255.49 L448.7,256.40 L449.7,257.27 L450.7,258.08 L451.7,258.85 L452.7,259.57 L453.7,260.24 L454.7,260.88 L455.7,261.47 L456.7,262.03 L457.7,262.54 L458.7,263.03 L459.7,263.48 L460.7,263.90 L461.7,264.29 L462.7,264.66 L463.7,265.00 L464.7,265.32 L465.7,265.62 L466.7,265.89 L467.7,266.15 L468.7,266.39 L469.7,266.62 L470.7,266.83 L471.7,267.03 L472.7,267.22 L473.7,267.39 L474.7,267.56 L475.7,267.72 L476.7,267.86 L477.7,268.00 L478.7,268.14 L479.7,268.26 L480.7,268.38 L481.7,268.50 L482.7,268.61 L483.7,268.71" stroke-width="2.6"/>
<path d="M360.7,289.20 L361.7,289.08 L362.7,288.95 L363.7,288.81 L364.7,288.66 L365.7,288.50 L366.7,288.33 L367.7,288.15 L368.7,287.96 L369.7,287.75 L370.7,287.53 L371.7,287.28 L372.7,287.02 L373.7,286.75 L374.7,286.44 L375.7,286.12 L376.7,285.77 L377.7,285.40 L378.7,284.99 L379.7,284.56 L380.7,284.09 L381.7,283.59 L382.7,283.06 L383.7,282.49 L384.7,281.87 L385.7,281.22 L386.7,280.52 L387.7,279.78 L388.7,278.99 L389.7,278.16 L390.7,277.28 L391.7,276.35 L392.7,275.37 L393.7,274.34 L394.7,273.27 L395.7,272.14 L396.7,270.97 L397.7,269.76 L398.7,268.50 L399.7,267.20 L400.7,265.88 L401.7,264.52 L402.7,263.15 L403.7,261.76 L404.7,260.37 L405.7,258.99 L406.7,257.63 L407.7,256.31 L408.7,255.03 L409.7,253.83 L410.7,252.72 L411.7,251.71 L412.7,250.83 L413.7,250.09 L414.7,249.50 L415.7,249.09 L416.7,248.85 L417.7,248.80 L418.7,248.94 L419.7,249.26 L420.7,249.76 L421.7,250.42 L422.7,251.23 L423.7,252.17 L424.7,253.24 L425.7,254.40 L426.7,255.64 L427.7,256.95 L428.7,258.30 L429.7,259.68 L430.7,261.08 L431.7,262.48 L432.7,263.88 L433.7,265.26 L434.7,266.61 L435.7,267.94 L436.7,269.23 L437.7,270.48 L438.7,271.69 L439.7,272.85 L440.7,273.97 L441.7,275.04 L442.7,276.06 L443.7,277.03 L444.7,277.95 L445.7,278.83 L446.7,279.66 L447.7,280.43 L448.7,281.17 L449.7,281.86 L450.7,282.51 L451.7,283.12 L452.7,283.69 L453.7,284.22 L454.7,284.72 L455.7,285.18 L456.7,285.61 L457.7,286.02 L458.7,286.39 L459.7,286.74 L460.7,287.07 L461.7,287.37 L462.7,287.66 L463.7,287.92 L464.7,288.17 L465.7,288.40 L466.7,288.61 L467.7,288.81 L468.7,289.00 L469.7,289.18 L470.7,289.34 L471.7,289.50 L472.7,289.64 L473.7,289.78 L474.7,289.91 L475.7,290.04 L476.7,290.15 L477.7,290.26 L478.7,290.37 L479.7,290.47 L480.7,290.57 L481.7,290.66 L482.7,290.75 L483.7,290.83" stroke-width="2.6"/>
<path d="M360.7,307.50 L361.7,307.39 L362.7,307.28 L363.7,307.15 L364.7,307.02 L365.7,306.87 L366.7,306.72 L367.7,306.55 L368.7,306.37 L369.7,306.17 L370.7,305.95 L371.7,305.72 L372.7,305.47 L373.7,305.20 L374.7,304.91 L375.7,304.60 L376.7,304.26 L377.7,303.90 L378.7,303.50 L379.7,303.08 L380.7,302.63 L381.7,302.15 L382.7,301.63 L383.7,301.08 L384.7,300.50 L385.7,299.88 L386.7,299.22 L387.7,298.52 L388.7,297.79 L389.7,297.01 L390.7,296.20 L391.7,295.35 L392.7,294.47 L393.7,293.55 L394.7,292.59 L395.7,291.61 L396.7,290.60 L397.7,289.56 L398.7,288.51 L399.7,287.45 L400.7,286.38 L401.7,285.32 L402.7,284.27 L403.7,283.25 L404.7,282.27 L405.7,281.34 L406.7,280.47 L407.7,279.69 L408.7,279.00 L409.7,278.42 L410.7,277.96 L411.7,277.63 L412.7,277.45 L413.7,277.40 L414.7,277.50 L415.7,277.75 L416.7,278.14 L417.7,278.65 L418.7,279.28 L419.7,280.02 L420.7,280.85 L421.7,281.76 L422.7,282.74 L423.7,283.76 L424.7,284.81 L425.7,285.90 L426.7,286.99 L427.7,288.09 L428.7,289.18 L429.7,290.26 L430.7,291.32 L431.7,292.35 L432.7,293.36 L433.7,294.34 L434.7,295.28 L435.7,296.19 L436.7,297.06 L437.7,297.90 L438.7,298.69 L439.7,299.45 L440.7,300.17 L441.7,300.85 L442.7,301.49 L443.7,302.10 L444.7,302.67 L445.7,303.21 L446.7,303.72 L447.7,304.19 L448.7,304.64 L449.7,305.06 L450.7,305.44 L451.7,305.81 L452.7,306.15 L453.7,306.46 L454.7,306.76 L455.7,307.04 L456.7,307.29 L457.7,307.53 L458.7,307.76 L459.7,307.97 L460.7,308.17 L461.7,308.35 L462.7,308.52 L463.7,308.68 L464.7,308.84 L465.7,308.98 L466.7,309.12 L467.7,309.24 L468.7,309.37 L469.7,309.48 L470.7,309.59 L471.7,309.69 L472.7,309.79 L473.7,309.89 L474.7,309.98 L475.7,310.06 L476.7,310.15 L477.7,310.23 L478.7,310.30 L479.7,310.38 L480.7,310.45 L481.7,310.52 L482.7,310.59 L483.7,310.65" stroke-width="2.6"/>
<path d="M360.7,329.20 L361.7,329.12 L362.7,329.04 L363.7,328.94 L364.7,328.84 L365.7,328.74 L366.7,328.62 L367.7,328.49 L368.7,328.35 L369.7,328.20 L370.7,328.04 L371.7,327.86 L372.7,327.67 L373.7,327.47 L374.7,327.25 L375.7,327.01 L376.7,326.75 L377.7,326.48 L378.7,326.18 L379.7,325.87 L380.7,325.53 L381.7,325.17 L382.7,324.78 L383.7,324.38 L384.7,323.95 L385.7,323.49 L386.7,323.01 L387.7,322.51 L388.7,321.98 L389.7,321.43 L390.7,320.85 L391.7,320.26 L392.7,319.64 L393.7,319.01 L394.7,318.36 L395.7,317.70 L396.7,317.04 L397.7,316.36 L398.7,315.70 L399.7,315.04 L400.7,314.39 L401.7,313.77 L402.7,313.18 L403.7,312.64 L404.7,312.14 L405.7,311.71 L406.7,311.34 L407.7,311.05 L408.7,310.84 L409.7,310.73 L410.7,310.70 L411.7,310.77 L412.7,310.93 L413.7,311.18 L414.7,311.51 L415.7,311.91 L416.7,312.39 L417.7,312.92 L418.7,313.50 L419.7,314.12 L420.7,314.77 L421.7,315.44 L422.7,316.13 L423.7,316.82 L424.7,317.52 L425.7,318.21 L426.7,318.89 L427.7,319.56 L428.7,320.22 L429.7,320.86 L430.7,321.47 L431.7,322.07 L432.7,322.64 L433.7,323.19 L434.7,323.71 L435.7,324.21 L436.7,324.68 L437.7,325.14 L438.7,325.56 L439.7,325.97 L440.7,326.35 L441.7,326.70 L442.7,327.04 L443.7,327.36 L444.7,327.65 L445.7,327.93 L446.7,328.19 L447.7,328.43 L448.7,328.66 L449.7,328.87 L450.7,329.07 L451.7,329.26 L452.7,329.43 L453.7,329.59 L454.7,329.74 L455.7,329.88 L456.7,330.01 L457.7,330.14 L458.7,330.25 L459.7,330.36 L460.7,330.46 L461.7,330.56 L462.7,330.65 L463.7,330.74 L464.7,330.82 L465.7,330.89 L466.7,330.97 L467.7,331.04 L468.7,331.10 L469.7,331.17 L470.7,331.23 L471.7,331.29 L472.7,331.34 L473.7,331.40 L474.7,331.45 L475.7,331.50 L476.7,331.55 L477.7,331.60 L478.7,331.64 L479.7,331.69 L480.7,331.73 L481.7,331.77 L482.7,331.81 L483.7,331.85" stroke-width="2.6"/>
<path d="M360.7,350.40 L361.7,350.31 L362.7,350.22 L363.7,350.11 L364.7,350.01 L365.7,349.89 L366.7,349.76 L367.7,349.62 L368.7,349.48 L369.7,349.32 L370.7,349.15 L371.7,348.97 L372.7,348.78 L373.7,348.58 L374.7,348.36 L375.7,348.13 L376.7,347.88 L377.7,347.62 L378.7,347.35 L379.7,347.06 L380.7,346.75 L381.7,346.43 L382.7,346.10 L383.7,345.74 L384.7,345.38 L385.7,344.99 L386.7,344.60 L387.7,344.18 L388.7,343.76 L389.7,343.32 L390.7,342.88 L391.7,342.42 L392.7,341.96 L393.7,341.50 L394.7,341.03 L395.7,340.57 L396.7,340.11 L397.7,339.67 L398.7,339.24 L399.7,338.83 L400.7,338.44 L401.7,338.09 L402.7,337.77 L403.7,337.50 L404.7,337.27 L405.7,337.09 L406.7,336.97 L407.7,336.91 L408.7,336.91 L409.7,336.96 L410.7,337.07 L411.7,337.24 L412.7,337.47 L413.7,337.74 L414.7,338.06 L415.7,338.41 L416.7,338.80 L417.7,339.22 L418.7,339.65 L419.7,340.11 L420.7,340.58 L421.7,341.06 L422.7,341.54 L423.7,342.02 L424.7,342.50 L425.7,342.97 L426.7,343.43 L427.7,343.89 L428.7,344.34 L429.7,344.77 L430.7,345.19 L431.7,345.59 L432.7,345.98 L433.7,346.35 L434.7,346.71 L435.7,347.06 L436.7,347.38 L437.7,347.70 L438.7,347.99 L439.7,348.27 L440.7,348.54 L441.7,348.79 L442.7,349.03 L443.7,349.26 L444.7,349.47 L445.7,349.67 L446.7,349.86 L447.7,350.03 L448.7,350.20 L449.7,350.36 L450.7,350.50 L451.7,350.64 L452.7,350.77 L453.7,350.89 L454.7,351.00 L455.7,351.11 L456.7,351.21 L457.7,351.30 L458.7,351.39 L459.7,351.48 L460.7,351.55 L461.7,351.63 L462.7,351.70 L463.7,351.76 L464.7,351.83 L465.7,351.89 L466.7,351.94 L467.7,352.00 L468.7,352.05 L469.7,352.10 L470.7,352.14 L471.7,352.19 L472.7,352.23 L473.7,352.27 L474.7,352.31 L475.7,352.35 L476.7,352.39 L477.7,352.42 L478.7,352.46 L479.7,352.49 L480.7,352.52 L481.7,352.55 L482.7,352.58 L483.7,352.61" stroke-width="2.3"/>
<path d="M360.7,373.10 L361.7,373.01 L362.7,372.91 L363.7,372.81 L364.7,372.70 L365.7,372.57 L366.7,372.44 L367.7,372.30 L368.7,372.16 L369.7,372.00 L370.7,371.82 L371.7,371.64 L372.7,371.45 L373.7,371.24 L374.7,371.02 L375.7,370.79 L376.7,370.54 L377.7,370.28 L378.7,370.01 L379.7,369.72 L380.7,369.42 L381.7,369.11 L382.7,368.77 L383.7,368.43 L384.7,368.07 L385.7,367.70 L386.7,367.32 L387.7,366.92 L388.7,366.52 L389.7,366.10 L390.7,365.68 L391.7,365.24 L392.7,364.81 L393.7,364.37 L394.7,363.94 L395.7,363.51 L396.7,363.09 L397.7,362.67 L398.7,362.28 L399.7,361.90 L400.7,361.56 L401.7,361.24 L402.7,360.95 L403.7,360.71 L404.7,360.51 L405.7,360.35 L406.7,360.25 L407.7,360.20 L408.7,360.21 L409.7,360.27 L410.7,360.38 L411.7,360.54 L412.7,360.75 L413.7,361.01 L414.7,361.31 L415.7,361.65 L416.7,362.01 L417.7,362.41 L418.7,362.83 L419.7,363.26 L420.7,363.71 L421.7,364.17 L422.7,364.64 L423.7,365.10 L424.7,365.57 L425.7,366.03 L426.7,366.49 L427.7,366.94 L428.7,367.38 L429.7,367.81 L430.7,368.23 L431.7,368.64 L432.7,369.03 L433.7,369.41 L434.7,369.78 L435.7,370.13 L436.7,370.47 L437.7,370.79 L438.7,371.10 L439.7,371.40 L440.7,371.68 L441.7,371.95 L442.7,372.20 L443.7,372.44 L444.7,372.67 L445.7,372.89 L446.7,373.10 L447.7,373.29 L448.7,373.47 L449.7,373.65 L450.7,373.81 L451.7,373.97 L452.7,374.11 L453.7,374.25 L454.7,374.38 L455.7,374.51 L456.7,374.62 L457.7,374.73 L458.7,374.84 L459.7,374.94 L460.7,375.03 L461.7,375.12 L462.7,375.20 L463.7,375.28 L464.7,375.36 L465.7,375.43 L466.7,375.50 L467.7,375.56 L468.7,375.63 L469.7,375.69 L470.7,375.75 L471.7,375.80 L472.7,375.86 L473.7,375.91 L474.7,375.96 L475.7,376.01 L476.7,376.05 L477.7,376.10 L478.7,376.14 L479.7,376.19 L480.7,376.23 L481.7,376.27 L482.7,376.31 L483.7,376.35" stroke-width="2.3"/>
<path d="M360.7,393.50 L361.7,393.44 L362.7,393.37 L363.7,393.30 L364.7,393.23 L365.7,393.15 L366.7,393.06 L367.7,392.97 L368.7,392.88 L369.7,392.78 L370.7,392.68 L371.7,392.57 L372.7,392.45 L373.7,392.33 L374.7,392.20 L375.7,392.07 L376.7,391.93 L377.7,391.79 L378.7,391.64 L379.7,391.49 L380.7,391.33 L381.7,391.17 L382.7,391.00 L383.7,390.83 L384.7,390.65 L385.7,390.47 L386.7,390.29 L387.7,390.10 L388.7,389.91 L389.7,389.72 L390.7,389.53 L391.7,389.34 L392.7,389.16 L393.7,388.98 L394.7,388.80 L395.7,388.63 L396.7,388.46 L397.7,388.31 L398.7,388.17 L399.7,388.03 L400.7,387.92 L401.7,387.82 L402.7,387.74 L403.7,387.67 L404.7,387.63 L405.7,387.60 L406.7,387.60 L407.7,387.62 L408.7,387.66 L409.7,387.72 L410.7,387.79 L411.7,387.89 L412.7,388.01 L413.7,388.14 L414.7,388.29 L415.7,388.45 L416.7,388.62 L417.7,388.80 L418.7,388.99 L419.7,389.18 L420.7,389.38 L421.7,389.59 L422.7,389.80 L423.7,390.00 L424.7,390.21 L425.7,390.42 L426.7,390.62 L427.7,390.83 L428.7,391.03 L429.7,391.22 L430.7,391.42 L431.7,391.61 L432.7,391.79 L433.7,391.97 L434.7,392.14 L435.7,392.31 L436.7,392.47 L437.7,392.63 L438.7,392.78 L439.7,392.93 L440.7,393.07 L441.7,393.20 L442.7,393.33 L443.7,393.46 L444.7,393.58 L445.7,393.69 L446.7,393.80 L447.7,393.90 L448.7,394.00 L449.7,394.10 L450.7,394.19 L451.7,394.27 L452.7,394.36 L453.7,394.43 L454.7,394.51 L455.7,394.58 L456.7,394.65 L457.7,394.71 L458.7,394.77 L459.7,394.83 L460.7,394.89 L461.7,394.94 L462.7,394.99 L463.7,395.04 L464.7,395.08 L465.7,395.13 L466.7,395.17 L467.7,395.21 L468.7,395.25 L469.7,395.29 L470.7,395.32 L471.7,395.36 L472.7,395.39 L473.7,395.42 L474.7,395.45 L475.7,395.48 L476.7,395.51 L477.7,395.54 L478.7,395.57 L479.7,395.59 L480.7,395.62 L481.7,395.64 L482.7,395.67 L483.7,395.69" stroke-width="2.0"/>
<path d="M360.7,411.70 L361.7,411.61 L362.7,411.52 L363.7,411.43 L364.7,411.32 L365.7,411.22 L366.7,411.10 L367.7,410.98 L368.7,410.85 L369.7,410.71 L370.7,410.57 L371.7,410.42 L372.7,410.26 L373.7,410.09 L374.7,409.92 L375.7,409.73 L376.7,409.54 L377.7,409.34 L378.7,409.14 L379.7,408.92 L380.7,408.70 L381.7,408.47 L382.7,408.23 L383.7,407.99 L384.7,407.74 L385.7,407.49 L386.7,407.23 L387.7,406.96 L388.7,406.69 L389.7,406.43 L390.7,406.15 L391.7,405.88 L392.7,405.61 L393.7,405.35 L394.7,405.09 L395.7,404.84 L396.7,404.60 L397.7,404.36 L398.7,404.15 L399.7,403.95 L400.7,403.77 L401.7,403.61 L402.7,403.47 L403.7,403.36 L404.7,403.28 L405.7,403.22 L406.7,403.20 L407.7,403.20 L408.7,403.24 L409.7,403.30 L410.7,403.40 L411.7,403.52 L412.7,403.67 L413.7,403.84 L414.7,404.04 L415.7,404.26 L416.7,404.49 L417.7,404.74 L418.7,405.01 L419.7,405.28 L420.7,405.57 L421.7,405.86 L422.7,406.15 L423.7,406.45 L424.7,406.75 L425.7,407.05 L426.7,407.35 L427.7,407.64 L428.7,407.93 L429.7,408.22 L430.7,408.50 L431.7,408.77 L432.7,409.04 L433.7,409.31 L434.7,409.56 L435.7,409.81 L436.7,410.05 L437.7,410.28 L438.7,410.50 L439.7,410.72 L440.7,410.93 L441.7,411.13 L442.7,411.32 L443.7,411.50 L444.7,411.68 L445.7,411.85 L446.7,412.01 L447.7,412.17 L448.7,412.31 L449.7,412.46 L450.7,412.59 L451.7,412.72 L452.7,412.84 L453.7,412.96 L454.7,413.07 L455.7,413.17 L456.7,413.28 L457.7,413.37 L458.7,413.46 L459.7,413.55 L460.7,413.63 L461.7,413.71 L462.7,413.79 L463.7,413.86 L464.7,413.93 L465.7,414.00 L466.7,414.06 L467.7,414.12 L468.7,414.18 L469.7,414.23 L470.7,414.29 L471.7,414.34 L472.7,414.39 L473.7,414.43 L474.7,414.48 L475.7,414.52 L476.7,414.57 L477.7,414.61 L478.7,414.65 L479.7,414.69 L480.7,414.73 L481.7,414.76 L482.7,414.80 L483.7,414.83" stroke-width="2.0"/>
<path d="M360.7,431.80 L361.7,431.75 L362.7,431.69 L363.7,431.63 L364.7,431.57 L365.7,431.50 L366.7,431.42 L367.7,431.35 L368.7,431.26 L369.7,431.17 L370.7,431.08 L371.7,430.98 L372.7,430.88 L373.7,430.77 L374.7,430.66 L375.7,430.54 L376.7,430.41 L377.7,430.28 L378.7,430.15 L379.7,430.01 L380.7,429.86 L381.7,429.71 L382.7,429.56 L383.7,429.40 L384.7,429.23 L385.7,429.06 L386.7,428.89 L387.7,428.72 L388.7,428.55 L389.7,428.37 L390.7,428.19 L391.7,428.02 L392.7,427.84 L393.7,427.67 L394.7,427.51 L395.7,427.35 L396.7,427.19 L397.7,427.05 L398.7,426.91 L399.7,426.79 L400.7,426.68 L401.7,426.59 L402.7,426.51 L403.7,426.46 L404.7,426.42 L405.7,426.40 L406.7,426.40 L407.7,426.42 L408.7,426.46 L409.7,426.52 L410.7,426.60 L411.7,426.70 L412.7,426.81 L413.7,426.95 L414.7,427.09 L415.7,427.25 L416.7,427.43 L417.7,427.61 L418.7,427.80 L419.7,427.99 L420.7,428.19 L421.7,428.40 L422.7,428.61 L423.7,428.82 L424.7,429.03 L425.7,429.23 L426.7,429.44 L427.7,429.65 L428.7,429.85 L429.7,430.05 L430.7,430.24 L431.7,430.43 L432.7,430.62 L433.7,430.80 L434.7,430.98 L435.7,431.15 L436.7,431.32 L437.7,431.48 L438.7,431.63 L439.7,431.78 L440.7,431.93 L441.7,432.07 L442.7,432.20 L443.7,432.33 L444.7,432.46 L445.7,432.58 L446.7,432.69 L447.7,432.80 L448.7,432.90 L449.7,433.00 L450.7,433.10 L451.7,433.19 L452.7,433.28 L453.7,433.36 L454.7,433.44 L455.7,433.52 L456.7,433.59 L457.7,433.67 L458.7,433.73 L459.7,433.80 L460.7,433.86 L461.7,433.92 L462.7,433.98 L463.7,434.03 L464.7,434.08 L465.7,434.13 L466.7,434.18 L467.7,434.23 L468.7,434.27 L469.7,434.32 L470.7,434.36 L471.7,434.40 L472.7,434.44 L473.7,434.48 L474.7,434.52 L475.7,434.55 L476.7,434.59 L477.7,434.62 L478.7,434.66 L479.7,434.69 L480.7,434.72 L481.7,434.75 L482.7,434.79 L483.7,434.82" stroke-width="2.0"/>
<path d="M360.7,455.40 L361.7,455.35 L362.7,455.29 L363.7,455.23 L364.7,455.17 L365.7,455.10 L366.7,455.03 L367.7,454.96 L368.7,454.88 L369.7,454.80 L370.7,454.71 L371.7,454.62 L372.7,454.52 L373.7,454.42 L374.7,454.31 L375.7,454.20 L376.7,454.09 L377.7,453.97 L378.7,453.85 L379.7,453.72 L380.7,453.58 L381.7,453.45 L382.7,453.31 L383.7,453.16 L384.7,453.01 L385.7,452.86 L386.7,452.70 L387.7,452.55 L388.7,452.39 L389.7,452.22 L390.7,452.06 L391.7,451.90 L392.7,451.74 L393.7,451.58 L394.7,451.42 L395.7,451.27 L396.7,451.12 L397.7,450.98 L398.7,450.85 L399.7,450.72 L400.7,450.61 L401.7,450.51 L402.7,450.42 L403.7,450.34 L404.7,450.28 L405.7,450.24 L406.7,450.21 L407.7,450.20 L408.7,450.20 L409.7,450.23 L410.7,450.27 L411.7,450.33 L412.7,450.41 L413.7,450.50 L414.7,450.60 L415.7,450.72 L416.7,450.85 L417.7,451.00 L418.7,451.15 L419.7,451.31 L420.7,451.47 L421.7,451.65 L422.7,451.82 L423.7,452.00 L424.7,452.19 L425.7,452.37 L426.7,452.55 L427.7,452.74 L428.7,452.92 L429.7,453.10 L430.7,453.27 L431.7,453.45 L432.7,453.62 L433.7,453.79 L434.7,453.95 L435.7,454.11 L436.7,454.27 L437.7,454.42 L438.7,454.57 L439.7,454.71 L440.7,454.85 L441.7,454.98 L442.7,455.11 L443.7,455.24 L444.7,455.36 L445.7,455.47 L446.7,455.58 L447.7,455.69 L448.7,455.79 L449.7,455.89 L450.7,455.98 L451.7,456.07 L452.7,456.16 L453.7,456.24 L454.7,456.32 L455.7,456.39 L456.7,456.47 L457.7,456.53 L458.7,456.60 L459.7,456.66 L460.7,456.72 L461.7,456.78 L462.7,456.83 L463.7,456.89 L464.7,456.94 L465.7,456.98 L466.7,457.03 L467.7,457.07 L468.7,457.12 L469.7,457.16 L470.7,457.20 L471.7,457.23 L472.7,457.27 L473.7,457.31 L474.7,457.34 L475.7,457.37 L476.7,457.40 L477.7,457.43 L478.7,457.46 L479.7,457.49 L480.7,457.52 L481.7,457.55 L482.7,457.57 L483.7,457.60" stroke-width="2.0"/>
<path d="M360.7,477.80 L361.7,477.74 L362.7,477.68 L363.7,477.62 L364.7,477.55 L365.7,477.48 L366.7,477.40 L367.7,477.32 L368.7,477.24 L369.7,477.15 L370.7,477.05 L371.7,476.96 L372.7,476.85 L373.7,476.74 L374.7,476.63 L375.7,476.51 L376.7,476.39 L377.7,476.26 L378.7,476.12 L379.7,475.98 L380.7,475.84 L381.7,475.69 L382.7,475.54 L383.7,475.38 L384.7,475.21 L385.7,475.05 L386.7,474.88 L387.7,474.70 L388.7,474.52 L389.7,474.34 L390.7,474.16 L391.7,473.98 L392.7,473.80 L393.7,473.61 L394.7,473.43 L395.7,473.26 L396.7,473.08 L397.7,472.91 L398.7,472.75 L399.7,472.60 L400.7,472.45 L401.7,472.32 L402.7,472.20 L403.7,472.09 L404.7,472.00 L405.7,471.92 L406.7,471.86 L407.7,471.82 L408.7,471.80 L409.7,471.80 L410.7,471.82 L411.7,471.86 L412.7,471.91 L413.7,471.99 L414.7,472.08 L415.7,472.19 L416.7,472.31 L417.7,472.45 L418.7,472.60 L419.7,472.76 L420.7,472.94 L421.7,473.11 L422.7,473.30 L423.7,473.49 L424.7,473.69 L425.7,473.88 L426.7,474.08 L427.7,474.28 L428.7,474.48 L429.7,474.68 L430.7,474.88 L431.7,475.07 L432.7,475.26 L433.7,475.45 L434.7,475.63 L435.7,475.81 L436.7,475.99 L437.7,476.16 L438.7,476.33 L439.7,476.49 L440.7,476.64 L441.7,476.80 L442.7,476.94 L443.7,477.08 L444.7,477.22 L445.7,477.35 L446.7,477.47 L447.7,477.59 L448.7,477.71 L449.7,477.82 L450.7,477.93 L451.7,478.03 L452.7,478.13 L453.7,478.22 L454.7,478.31 L455.7,478.39 L456.7,478.47 L457.7,478.55 L458.7,478.62 L459.7,478.69 L460.7,478.76 L461.7,478.82 L462.7,478.88 L463.7,478.94 L464.7,479.00 L465.7,479.05 L466.7,479.10 L467.7,479.15 L468.7,479.20 L469.7,479.24 L470.7,479.28 L471.7,479.32 L472.7,479.36 L473.7,479.40 L474.7,479.43 L475.7,479.47 L476.7,479.50 L477.7,479.53 L478.7,479.56 L479.7,479.59 L480.7,479.62 L481.7,479.65 L482.7,479.67 L483.7,479.70" stroke-width="2.0"/>
</g>
<path d="M426.6,193.6 L425,201 L421.5,224 L418,249 L414.3,277 L411.3,310 L409.3,337 L408.3,360 L407.9,388 L407.9,475" fill="none" stroke="#000" stroke-width="1.8" stroke-dasharray="5.1 4.2"/>
</g>
<path d="M490,186.7 L357.7,186.7 L357.7,544.8 L490,544.8" fill="none" stroke="#000" stroke-width="1"/>
<g stroke="#000" stroke-width="1">
<line x1="361.50" y1="544.8" x2="361.50" y2="552.2"/><line x1="373.58" y1="544.8" x2="373.58" y2="549.0"/><line x1="385.66" y1="544.8" x2="385.66" y2="549.0"/><line x1="397.74" y1="544.8" x2="397.74" y2="549.0"/><line x1="409.82" y1="544.8" x2="409.82" y2="549.0"/><line x1="421.90" y1="544.8" x2="421.90" y2="552.2"/><line x1="433.98" y1="544.8" x2="433.98" y2="549.0"/><line x1="446.06" y1="544.8" x2="446.06" y2="549.0"/><line x1="458.14" y1="544.8" x2="458.14" y2="549.0"/><line x1="470.22" y1="544.8" x2="470.22" y2="549.0"/><line x1="482.30" y1="544.8" x2="482.30" y2="552.2"/><line x1="494.38" y1="544.8" x2="494.38" y2="549.0"/><line x1="351.5" y1="542.30" x2="357.7" y2="542.30"/><line x1="351.5" y1="454.12" x2="357.7" y2="454.12"/><line x1="351.5" y1="365.95" x2="357.7" y2="365.95"/><line x1="351.5" y1="277.77" x2="357.7" y2="277.77"/><line x1="351.5" y1="189.60" x2="357.7" y2="189.60"/>
</g>
<g font-size="17.4px">
<text x="347.8" y="548.1" text-anchor="end">0</text><text x="347.8" y="459.9" text-anchor="end">100</text><text x="347.8" y="371.7" text-anchor="end">200</text><text x="347.8" y="283.6" text-anchor="end">300</text><text x="347.8" y="195.4" text-anchor="end">400</text><text x="361.5" y="571.4" text-anchor="middle">0.0</text><text x="421.9" y="571.4" text-anchor="middle">1.0</text><text x="482.3" y="571.4" text-anchor="middle">2.0</text>
</g>
<text x="387.3" y="589.8" font-size="18.9px">Frequency (THz)</text>
<text transform="translate(315.5,365) rotate(-90)" font-size="18.7px" text-anchor="middle">FT Intensity (x10<tspan dy="-10.2" font-size="13.5px">-6</tspan><tspan dy="10.2"> )</tspan></text>
</svg>
</body></html>
